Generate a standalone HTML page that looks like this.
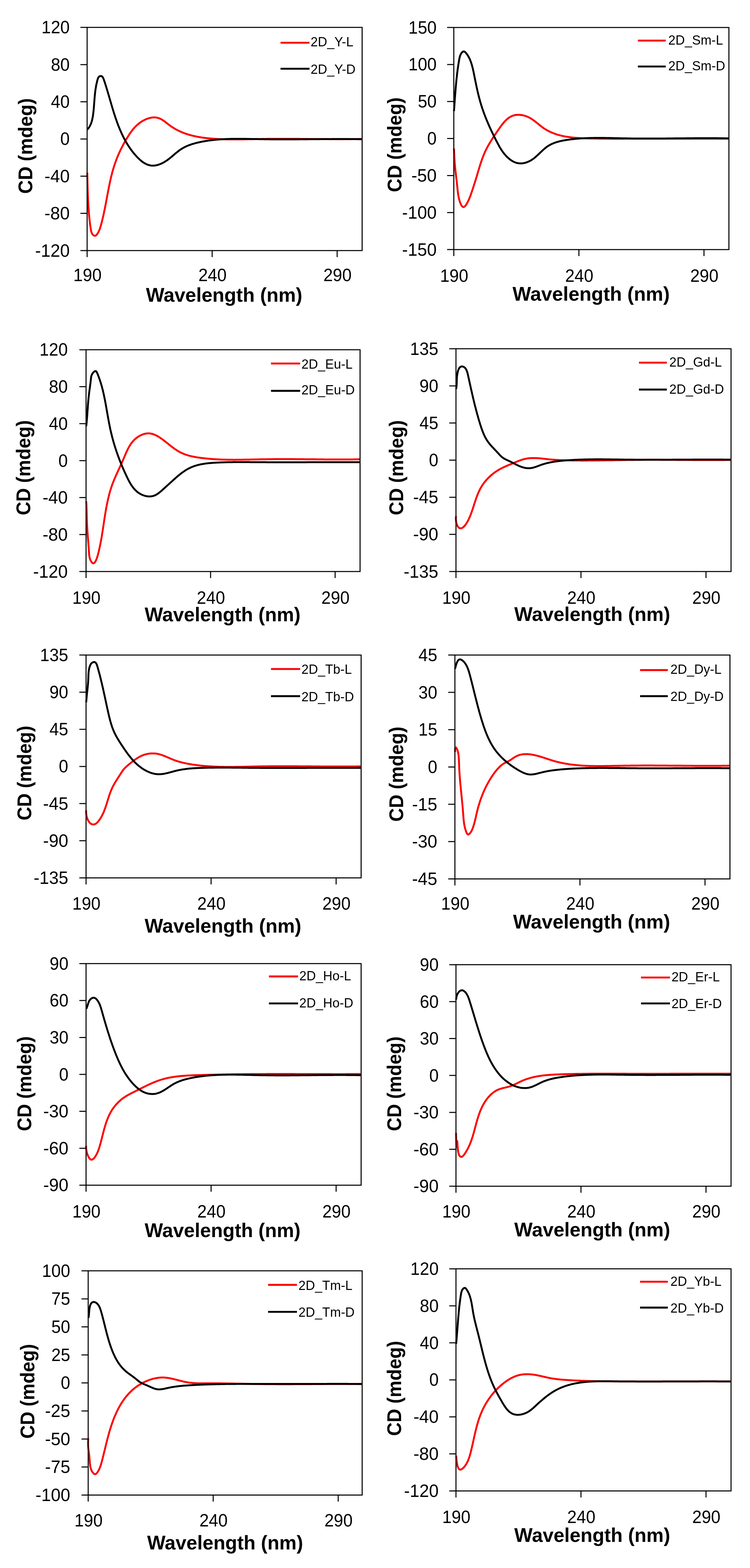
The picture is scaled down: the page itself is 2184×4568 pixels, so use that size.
<!DOCTYPE html>
<html><head><meta charset="utf-8"><title>CD spectra</title>
<style>
html,body{margin:0;padding:0;background:#fff;}
svg{display:block;}
text{font-family:"Liberation Sans",Arial,sans-serif;fill:#000;}
text.b{font-weight:bold;}
</style></head><body>
<svg xmlns="http://www.w3.org/2000/svg" width="2184" height="4568" viewBox="0 0 2184 4568">
<rect width="2184" height="4568" fill="#fff"/>
<g><g fill="none" stroke-width="5.5" stroke-linejoin="round" stroke-linecap="butt"><path d="M254.2 502.7L254.2 504.5 254.2 506.3 254.3 508.1 254.3 509.9 254.3 511.7 254.4 513.2 254.4 514.7 254.4 516.2 254.4 517.7 254.5 519.2 254.5 520.7 254.5 522.2 254.6 523.8 254.6 525.3 254.6 526.8 254.6 528.3 254.7 529.9 254.7 531.4 254.8 532.9 254.8 534.5 254.8 536 254.9 537.5 254.9 539.1 254.9 540.6 255 542.2 255 543.7 255.1 545.3 255.1 546.8 255.2 548.3 255.2 549.9 255.3 551.4 255.3 553 255.4 554.5 255.4 556.1 255.5 557.6 255.5 559.2 255.6 560.7 255.6 562.2 255.7 563.8 255.7 565.3 255.8 566.9 255.9 568.4 255.9 569.9 256 571.5 256 573 256.1 574.5 256.2 576.1 256.2 577.6 256.3 579.1 256.4 580.7 256.5 582.2 256.5 583.7 256.6 585.2 256.7 586.7 256.8 588.2 256.8 589.7 256.9 591.2 257 592.7 257.1 594.5 257.2 596.3 257.3 598.1 257.4 599.9 257.5 601.7 257.6 603.5 257.7 605.2 257.9 607 258 608.8 258.1 610.5 258.2 612.3 258.4 614.1 258.5 615.8 258.6 617.6 258.8 619.4 258.9 621.2 259.1 622.9 259.2 624.7 259.4 626.5 259.6 628.3 259.7 630.1 259.9 631.6 260 633.1 260.2 634.6 260.3 636.1 260.5 637.6 260.7 639.1 260.8 640.6 261 642.2 261.2 643.7 261.4 645.3 261.5 646.8 261.7 648.4 261.9 649.9 262.1 651.5 262.3 653.1 262.5 654.7 262.8 656.3 263 657.9 263.2 659.5 263.4 661.1 263.7 662.7 263.9 664.4 264.2 666 264.4 667.7 264.7 669.3 265 670.9 265.3 672.5 265.7 674.1 266.1 675.6 266.6 677.1 267.1 678.6 267.9 680.2 268.7 681.7 269.7 683.1 270.8 684.3 272 685.3 273.3 686.2 274.9 686.7 276.4 686.9 278 686.5 279.5 685.6 280.7 684.6 281.9 683.3 282.9 682.1 283.8 680.8 284.6 679.5 285.5 678.1 286.2 676.7 287 675.3 287.7 673.9 288.3 672.5 288.9 671.1 289.5 669.7 290.1 668.2 290.6 666.8 291.1 665.3 291.6 663.9 292.1 662.4 292.5 660.9 292.9 659.5 293.4 658 293.8 656.5 294.2 655.1 294.6 653.6 295 652.1 295.4 650.6 295.8 649.1 296.2 647.7 296.6 646.2 296.9 644.7 297.3 643.2 297.7 641.7 298 640.3 298.4 638.8 298.8 637.3 299.1 635.8 299.5 634.3 299.8 632.8 300.2 631.3 300.5 629.9 300.8 628.4 301.2 626.9 301.5 625.4 301.8 623.9 302.2 622.4 302.5 620.9 302.8 619.4 303.1 617.9 303.4 616.4 303.7 614.9 304 613.4 304.3 611.9 304.7 610.4 305 608.9 305.3 607.5 305.6 606 305.8 604.5 306.1 603 306.4 601.5 306.7 600 307 598.5 307.3 597 307.6 595.5 307.9 594 308.2 592.5 308.4 591 308.7 589.5 309 588 309.3 586.5 309.6 585 309.9 583.5 310.1 582 310.4 580.5 310.7 579 311 577.5 311.2 576 311.5 574.5 311.8 573 312.1 571.5 312.4 570 312.6 568.5 312.9 567 313.2 565.5 313.5 564 313.8 562.5 314.1 561 314.3 559.5 314.6 558 314.9 556.5 315.2 555 315.5 553.5 315.8 552.1 316.1 550.6 316.4 549.1 316.7 547.6 316.9 546.1 317.2 544.6 317.5 543.1 317.8 541.6 318.2 540.1 318.5 538.6 318.8 537.2 319.1 535.7 319.4 534.2 319.7 532.7 320 531.2 320.4 529.7 320.7 528.3 321 526.8 321.3 525.3 321.7 523.8 322 522.3 322.3 520.9 322.7 519.4 323 517.9 323.4 516.4 323.7 515 324.1 513.5 324.5 512 324.8 510.5 325.2 509.1 325.6 507.6 326 506.1 326.3 504.7 326.7 503.2 327.1 501.7 327.5 500.3 327.9 498.8 328.3 497.4 328.7 495.9 329.2 494.5 329.6 493 330 491.5 330.4 490.1 330.9 488.6 331.3 487.2 331.8 485.7 332.2 484.3 332.7 482.9 333.1 481.4 333.6 480 334.1 478.5 334.6 477.1 335.1 475.7 335.6 474.2 336.1 472.8 336.6 471.4 337.1 469.9 337.6 468.5 338.1 467.1 338.7 465.6 339.2 464.2 339.8 462.8 340.3 461.4 340.9 460 341.5 458.6 342 457.1 342.6 455.7 343.2 454.3 343.8 452.9 344.4 451.5 345 450.1 345.6 448.7 346.2 447.3 346.9 445.9 347.5 444.5 348.1 443.1 348.8 441.8 349.4 440.4 350.1 439 350.7 437.6 351.4 436.2 352 434.8 352.7 433.5 353.4 432.1 354.1 430.7 354.8 429.4 355.5 428 356.2 426.7 356.9 425.3 357.6 423.9 358.3 422.6 359 421.2 359.7 419.9 360.5 418.6 361.2 417.2 361.9 415.9 362.7 414.5 363.4 413.2 364.2 411.9 364.9 410.6 365.7 409.2 366.5 407.9 367.2 406.6 368 405.3 368.8 404 369.6 402.7 370.4 401.4 371.2 400.1 372 398.8 372.8 397.5 373.6 396.2 374.4 395 375.2 393.7 376 392.4 376.8 391.1 377.7 389.9 378.5 388.6 379.4 387.4 380.2 386.2 381.1 384.9 382 383.7 382.9 382.5 383.8 381.3 384.7 380.1 385.6 378.9 386.6 377.8 387.7 376.4 388.8 375 390 373.6 391.2 372.3 392.4 370.9 393.4 369.8 394.5 368.8 395.5 367.7 396.6 366.6 397.7 365.6 398.8 364.6 399.9 363.6 401.1 362.6 402.2 361.6 403.4 360.6 404.6 359.6 405.8 358.7 407 357.8 408.3 356.9 409.5 356 410.8 355.1 412.1 354.3 413.5 353.4 414.8 352.6 416.2 351.8 417.6 351.1 419 350.3 420.4 349.6 421.8 348.9 423.2 348.3 424.7 347.6 426.1 347 427.6 346.4 429.1 345.9 430.6 345.4 432 344.9 433.5 344.4 435 344 436.5 343.6 438 343.3 439.5 343 441 342.7 442.5 342.5 444 342.3 445.5 342.2 447.3 342.1 449.1 342.1 450.9 342.1 452.6 342.2 454.4 342.4 456.1 342.6 457.8 342.9 459.5 343.3 461.2 343.8 462.9 344.4 464.5 345 466.1 345.7 467.7 346.5 469.3 347.3 470.6 348 471.9 348.8 473.2 349.6 474.5 350.4 475.8 351.3 477.1 352.2 478.3 353.1 479.6 354 480.9 354.9 482.1 355.9 483.4 356.8 484.6 357.8 485.9 358.8 487.1 359.8 488.4 360.8 489.6 361.7 490.9 362.7 492.1 363.7 493.4 364.6 494.7 365.6 496 366.5 497.2 367.4 498.5 368.3 499.8 369.2 501.1 370.1 502.4 370.9 503.7 371.7 505 372.6 506.3 373.4 507.7 374.2 509 374.9 510.3 375.7 511.6 376.5 513 377.2 514.3 377.9 515.7 378.6 517 379.3 518.4 380 519.7 380.7 521.1 381.4 522.5 382 523.8 382.6 525.2 383.3 526.6 383.9 528 384.5 529.4 385.1 530.8 385.6 532.2 386.2 533.6 386.8 535 387.3 536.4 387.8 537.8 388.4 539.2 388.9 540.6 389.4 542 389.8 543.5 390.3 544.9 390.8 546.3 391.2 547.7 391.7 549.2 392.1 550.6 392.6 552.1 393 553.5 393.4 555 393.8 556.4 394.2 557.9 394.5 559.3 394.9 560.8 395.3 562.2 395.6 563.7 396 565.2 396.3 566.6 396.6 568.1 397 569.6 397.3 571 397.6 572.5 397.9 574 398.2 575.5 398.4 576.9 398.7 578.4 399 579.9 399.2 581.4 399.5 582.9 399.7 584.4 400 585.9 400.2 587.4 400.4 588.9 400.7 590.3 400.9 591.8 401.1 593.3 401.3 594.8 401.5 596.3 401.7 597.8 401.9 599.3 402 600.8 402.2 602.3 402.4 603.9 402.5 605.4 402.7 606.9 402.9 608.4 403 609.9 403.2 611.4 403.3 612.9 403.4 614.4 403.6 615.9 403.7 617.4 403.8 618.9 403.9 620.4 404.1 621.9 404.2 623.5 404.3 625 404.4 626.5 404.5 628 404.6 629.5 404.7 631 404.8 632.5 404.9 634.1 405 635.6 405 637.1 405.1 638.6 405.2 640.1 405.3 641.6 405.3 643.1 405.4 644.7 405.5 646.2 405.5 647.7 405.6 649.2 405.6 650.7 405.7 652.3 405.7 653.8 405.8 655.3 405.8 656.8 405.8 658.3 405.9 659.9 405.9 661.4 405.9 662.9 406 664.4 406 665.9 406 667.5 406 669 406.1 670.5 406.1 672 406.1 673.6 406.1 675.1 406.1 676.6 406.1 678.1 406.1 679.7 406.1 681.2 406.1 682.7 406.1 684.2 406.1 685.8 406.1 687.3 406.1 688.8 406.1 690.3 406.1 691.9 406.1 693.4 406.1 694.9 406.1 696.4 406 698 406 699.5 406 701 406 702.5 406 704.1 406 705.6 405.9 707.1 405.9 708.7 405.9 710.2 405.9 711.7 405.8 713.2 405.8 714.8 405.8 716.3 405.8 717.8 405.7 719.3 405.7 720.9 405.7 722.4 405.6 723.9 405.6 725.5 405.6 727 405.5 728.5 405.5 730 405.5 731.6 405.4 733.1 405.4 734.6 405.4 736.1 405.4 737.7 405.3 739.2 405.3 740.7 405.3 742.3 405.2 743.8 405.2 745.3 405.2 746.8 405.1 748.4 405.1 749.9 405.1 751.4 405 752.9 405 754.5 405 756 405 757.5 404.9 759 404.9 760.6 404.9 762.1 404.8 763.6 404.8 765.2 404.8 766.7 404.8 768.2 404.8 769.7 404.7 771.3 404.7 772.8 404.7 774.3 404.7 775.8 404.7 777.3 404.6 778.9 404.6 780.4 404.6 781.9 404.6 783.4 404.6 785 404.6 786.5 404.6 788 404.5 789.5 404.5 791.1 404.5 792.6 404.5 794.1 404.5 795.6 404.5 797.2 404.5 798.7 404.5 800.2 404.5 801.7 404.5 803.2 404.4 804.8 404.4 806.3 404.4 807.8 404.4 809.3 404.4 810.8 404.4 812.4 404.4 813.9 404.4 815.4 404.4 816.9 404.4 818.5 404.4 820 404.4 821.5 404.4 823 404.4 824.5 404.4 826.1 404.4 827.6 404.4 829.1 404.4 830.6 404.4 832.1 404.4 833.7 404.4 835.2 404.4 836.7 404.4 838.2 404.5 839.7 404.5 841.3 404.5 842.8 404.5 844.3 404.5 845.8 404.5 847.3 404.5 848.9 404.5 850.4 404.5 851.9 404.5 853.4 404.5 854.9 404.5 856.5 404.5 858 404.5 859.5 404.6 861 404.6 862.5 404.6 864 404.6 865.6 404.6 867.1 404.6 868.6 404.6 870.1 404.6 871.6 404.6 873.2 404.7 874.7 404.7 876.2 404.7 877.7 404.7 879.2 404.7 880.8 404.7 882.3 404.7 883.8 404.7 885.3 404.8 886.8 404.8 888.3 404.8 889.9 404.8 891.4 404.8 892.9 404.8 894.4 404.8 895.9 404.8 897.5 404.9 899 404.9 900.5 404.9 902 404.9 903.5 404.9 905 404.9 906.6 404.9 908.1 405 909.6 405 911.1 405 912.6 405 914.2 405 915.7 405 917.2 405 918.7 405 920.2 405.1 921.7 405.1 923.3 405.1 924.8 405.1 926.3 405.1 927.8 405.1 929.3 405.1 930.9 405.2 932.4 405.2 933.9 405.2 935.4 405.2 936.9 405.2 938.5 405.2 940 405.2 941.5 405.2 943 405.2 944.5 405.3 946 405.3 947.6 405.3 949.1 405.3 950.6 405.3 952.1 405.3 953.6 405.3 955.2 405.3 956.7 405.3 958.2 405.3 959.7 405.4 961.2 405.4 962.8 405.4 964.3 405.4 965.8 405.4 967.3 405.4 968.8 405.4 970.4 405.4 971.9 405.4 973.4 405.4 974.9 405.4 976.4 405.4 978 405.4 979.5 405.4 981 405.4 982.5 405.4 984 405.4 985.6 405.4 987.1 405.4 988.6 405.5 990.1 405.5 991.6 405.5 993.2 405.5 994.7 405.5 996.2 405.5 997.7 405.4 999.3 405.4 1000.8 405.4 1002.3 405.4 1003.8 405.4 1005.3 405.4 1006.9 405.4 1008.4 405.4 1009.9 405.4 1011.4 405.4 1013 405.4 1014.5 405.4 1016 405.4 1017.5 405.4 1019 405.4 1020.6 405.4 1022.1 405.3 1023.6 405.3 1025.1 405.3 1026.7 405.3 1028.2 405.3 1029.7 405.3 1031.2 405.3 1032.8 405.3 1034.3 405.2 1035.8 405.2 1037.3 405.2 1038.9 405.2 1040.4 405.2 1041.9 405.1 1043.4 405.1 1045 405.1 1046.5 405.1 1048 405.1 1049.5 405 1051.1 405 1052.6 405 1053.5 405" stroke="#ff0000"/><path d="M254.2 377.6L255.3 376.3 256.4 375 257.5 373.7 258.5 372.3 259.4 370.9 260.3 369.5 261.1 368.1 261.9 366.7 262.7 365.2 263.4 363.7 264.1 362.2 264.7 360.7 265.3 359.2 265.9 357.6 266.4 356.1 266.9 354.5 267.4 352.9 267.8 351.3 268.2 349.7 268.6 348.1 269 346.4 269.3 344.8 269.6 343.2 269.9 341.5 270.2 339.9 270.5 338.2 270.7 336.5 271 334.9 271.2 333.2 271.4 331.6 271.6 329.9 271.8 328.2 272 326.6 272.2 324.9 272.3 323.3 272.5 321.6 272.7 320 272.8 318.3 273 316.7 273.1 315 273.3 313.4 273.4 311.7 273.5 310.1 273.7 308.4 273.8 306.8 273.9 305.1 274 303.5 274.2 301.8 274.3 300.2 274.4 298.5 274.5 296.9 274.7 295.2 274.8 293.6 274.9 292 275 290.3 275.2 288.7 275.3 287 275.4 285.4 275.6 283.7 275.7 282.1 275.9 280.4 276 278.7 276.2 277.1 276.4 275.4 276.5 273.8 276.7 272.1 276.9 270.4 277.1 268.8 277.3 267.1 277.5 265.5 277.7 263.8 277.9 262.1 278.2 260.4 278.4 258.8 278.7 257.1 279 255.4 279.2 253.7 279.5 252 279.8 250.4 280.2 248.7 280.5 247 280.8 245.3 281.2 243.6 281.6 241.9 282 240.2 282.4 238.5 282.8 236.7 283.2 235 283.7 233.3 284.2 231.6 284.7 229.9 285.3 228.3 285.9 226.8 286.7 225.4 287.6 224.2 288.9 223 290.3 222.1 291.9 221.6 293.4 221.4 295 221.6 296.5 222.2 297.8 223.3 298.8 224.4 299.7 225.9 300.4 227.2 301.1 228.7 301.7 230.3 302.4 231.9 302.9 233.6 303.5 235.3 304.1 237 304.6 238.7 305.2 240.3 305.7 242 306.3 243.7 306.8 245.4 307.3 247 307.8 248.7 308.4 250.4 308.9 252 309.4 253.7 309.9 255.3 310.4 257 310.9 258.6 311.4 260.3 311.9 261.9 312.4 263.5 312.9 265.2 313.4 266.8 313.8 268.4 314.3 270 314.8 271.6 315.3 273.2 315.8 274.9 316.2 276.5 316.7 278.1 317.2 279.7 317.6 281.3 318.1 282.9 318.6 284.5 319 286.1 319.5 287.7 319.9 289.3 320.4 290.8 320.9 292.4 321.3 294 321.8 295.6 322.3 297.2 322.7 298.8 323.2 300.4 323.6 301.9 324.1 303.5 324.6 305.1 325 306.7 325.5 308.3 326 309.8 326.4 311.4 326.9 313 327.4 314.6 327.9 316.1 328.3 317.7 328.8 319.3 329.3 320.9 329.8 322.5 330.3 324 330.8 325.6 331.2 327.2 331.7 328.8 332.2 330.4 332.7 331.9 333.3 333.5 333.8 335.1 334.3 336.7 334.8 338.3 335.3 339.8 335.8 341.4 336.4 343 336.9 344.6 337.4 346.1 338 347.7 338.5 349.3 339.1 350.8 339.6 352.4 340.2 354 340.7 355.5 341.3 357.1 341.9 358.7 342.5 360.2 343.1 361.8 343.6 363.4 344.2 364.9 344.8 366.5 345.4 368 346.1 369.6 346.7 371.1 347.3 372.7 347.9 374.2 348.6 375.7 349.2 377.3 349.9 378.8 350.5 380.3 351.2 381.9 351.9 383.4 352.5 384.9 353.2 386.4 353.9 388 354.6 389.5 355.3 391 356 392.5 356.7 394 357.5 395.5 358.2 397 358.9 398.5 359.7 400 360.5 401.5 361.2 402.9 362 404.4 362.8 405.9 363.6 407.4 364.4 408.8 365.2 410.3 366 411.8 366.8 413.2 367.7 414.7 368.5 416.1 369.4 417.5 370.2 419 371.1 420.4 372 421.8 372.9 423.2 373.8 424.6 374.7 426.1 375.6 427.5 376.6 428.9 377.5 430.2 378.5 431.6 379.4 433 380.4 434.4 381.4 435.8 382.4 437.1 383.4 438.5 384.4 439.8 385.4 441.2 386.5 442.5 387.5 443.8 388.6 445.2 389.6 446.5 390.7 447.8 391.8 449.1 392.9 450.4 394.1 451.7 395.2 453 396.3 454.3 397.5 455.5 398.7 456.8 399.8 458 401 459.3 402.2 460.5 403.5 461.7 404.7 462.9 405.9 464 407.2 465.2 408.4 466.3 409.7 467.4 411 468.5 412.3 469.5 413.6 470.5 415 471.5 416.3 472.5 417.7 473.4 419 474.3 420.4 475.1 421.8 475.9 423.2 476.7 424.6 477.4 426 478.1 427.5 478.8 428.9 479.4 430.4 479.9 431.9 480.4 433.3 480.9 434.8 481.3 436.4 481.6 437.9 481.9 439.4 482.2 441 482.4 442.5 482.5 444.1 482.6 445.7 482.6 447.3 482.5 448.9 482.4 450.5 482.2 452.2 482 453.8 481.7 455.4 481.4 457.1 481 458.7 480.6 460.3 480.1 462 479.6 463.6 479.1 465.2 478.5 466.8 477.8 468.4 477.2 470 476.5 471.6 475.7 473.2 475 474.7 474.2 476.3 473.4 477.8 472.5 479.3 471.6 480.7 470.7 482.2 469.8 483.6 468.9 485.1 467.9 486.5 467 487.9 466 489.2 465 490.6 464 491.9 462.9 493.3 461.9 494.6 460.8 495.9 459.8 497.2 458.7 498.6 457.6 499.8 456.5 501.1 455.5 502.4 454.4 503.7 453.3 505 452.2 506.3 451.1 507.5 450 508.8 448.9 510.1 447.8 511.4 446.8 512.6 445.7 513.9 444.6 515.2 443.6 516.5 442.6 517.8 441.5 519.1 440.5 520.4 439.5 521.7 438.5 523.1 437.6 524.4 436.6 525.7 435.7 527.1 434.8 528.5 433.9 529.9 433 531.3 432.2 532.7 431.3 534.1 430.5 535.6 429.7 537 429 538.5 428.2 540 427.5 541.5 426.8 543 426.1 544.5 425.5 546 424.8 547.5 424.2 549.1 423.6 550.6 423 552.2 422.4 553.7 421.8 555.3 421.3 556.9 420.7 558.5 420.2 560.1 419.7 561.6 419.2 563.3 418.7 564.9 418.3 566.5 417.8 568.1 417.4 569.7 417 571.3 416.5 573 416.1 574.6 415.7 576.2 415.3 577.9 415 579.5 414.6 581.2 414.2 582.8 413.9 584.4 413.5 586.1 413.2 587.7 412.9 589.4 412.6 591 412.3 592.7 412 594.3 411.7 596 411.4 597.6 411.1 599.2 410.8 600.9 410.6 602.5 410.3 604.2 410 605.8 409.8 607.5 409.6 609.1 409.3 610.8 409.1 612.4 408.9 614.1 408.7 615.8 408.5 617.4 408.3 619.1 408.1 620.7 407.9 622.4 407.7 624 407.5 625.7 407.3 627.3 407.2 629 407 630.7 406.9 632.3 406.7 634 406.6 635.6 406.4 637.3 406.3 638.9 406.2 640.6 406.1 642.3 406 643.9 405.8 645.6 405.7 647.2 405.6 648.9 405.5 650.6 405.4 652.2 405.4 653.9 405.3 655.6 405.2 657.2 405.1 658.9 405.1 660.5 405 662.2 404.9 663.9 404.9 665.5 404.8 667.2 404.8 668.9 404.7 670.5 404.7 672.2 404.6 673.9 404.6 675.5 404.6 677.2 404.5 678.9 404.5 680.5 404.5 682.2 404.5 683.9 404.5 685.5 404.4 687.2 404.4 688.9 404.4 690.5 404.4 692.2 404.4 693.9 404.4 695.5 404.4 697.2 404.4 698.9 404.4 700.5 404.4 702.2 404.5 703.9 404.5 705.6 404.5 707.2 404.5 708.9 404.5 710.6 404.5 712.2 404.6 713.9 404.6 715.6 404.6 717.2 404.6 718.9 404.7 720.6 404.7 722.3 404.7 723.9 404.7 725.6 404.8 727.3 404.8 728.9 404.8 730.6 404.9 732.3 404.9 734 404.9 735.6 405 737.3 405 739 405 740.6 405.1 742.3 405.1 744 405.2 745.7 405.2 747.3 405.2 749 405.3 750.7 405.3 752.3 405.3 754 405.4 755.7 405.4 757.3 405.4 759 405.5 760.7 405.5 762.4 405.5 764 405.6 765.7 405.6 767.4 405.6 769 405.6 770.7 405.7 772.4 405.7 774.1 405.7 775.7 405.7 777.4 405.7 779.1 405.8 780.7 405.8 782.4 405.8 784.1 405.8 785.7 405.8 787.4 405.9 789.1 405.9 790.8 405.9 792.4 405.9 794.1 405.9 795.8 405.9 797.4 405.9 799.1 406 800.8 406 802.4 406 804.1 406 805.8 406 807.4 406 809.1 406 810.8 406 812.5 406 814.1 406 815.8 406 817.5 406 819.1 406 820.8 406 822.5 406 824.1 406 825.8 406 827.5 406 829.1 406 830.8 406 832.5 406 834.1 406 835.8 406 837.5 406 839.1 406 840.8 406 842.5 406 844.2 406 845.8 406 847.5 406 849.2 406 850.8 406 852.5 406 854.2 406 855.8 405.9 857.5 405.9 859.2 405.9 860.8 405.9 862.5 405.9 864.2 405.9 865.8 405.9 867.5 405.9 869.2 405.9 870.8 405.9 872.5 405.8 874.2 405.8 875.8 405.8 877.5 405.8 879.2 405.8 880.8 405.8 882.5 405.8 884.2 405.8 885.8 405.7 887.5 405.7 889.2 405.7 890.8 405.7 892.5 405.7 894.2 405.7 895.9 405.7 897.5 405.7 899.2 405.6 900.9 405.6 902.5 405.6 904.2 405.6 905.9 405.6 907.5 405.6 909.2 405.6 910.9 405.5 912.5 405.5 914.2 405.5 915.9 405.5 917.5 405.5 919.2 405.5 920.9 405.5 922.5 405.4 924.2 405.4 925.9 405.4 927.5 405.4 929.2 405.4 930.9 405.4 932.5 405.4 934.2 405.3 935.9 405.3 937.5 405.3 939.2 405.3 940.9 405.3 942.5 405.3 944.2 405.3 945.9 405.3 947.5 405.3 949.2 405.2 950.9 405.2 952.5 405.2 954.2 405.2 955.9 405.2 957.5 405.2 959.2 405.2 960.9 405.2 962.5 405.2 964.2 405.2 965.9 405.1 967.6 405.1 969.2 405.1 970.9 405.1 972.6 405.1 974.2 405.1 975.9 405.1 977.6 405.1 979.2 405.1 980.9 405.1 982.6 405.1 984.2 405.1 985.9 405.1 987.6 405.1 989.2 405.1 990.9 405.1 992.6 405.1 994.2 405.1 995.9 405.1 997.6 405.1 999.2 405.1 1000.9 405.1 1002.6 405.1 1004.3 405.1 1005.9 405.1 1007.6 405.1 1009.3 405.1 1010.9 405.1 1012.6 405.1 1014.3 405.1 1015.9 405.1 1017.6 405.1 1019.3 405.2 1020.9 405.2 1022.6 405.2 1024.3 405.2 1025.9 405.2 1027.6 405.2 1029.3 405.2 1031 405.2 1032.6 405.3 1034.3 405.3 1036 405.3 1037.6 405.3 1039.3 405.3 1041 405.4 1042.6 405.4 1044.3 405.4 1046 405.4 1047.7 405.4 1049.3 405.5 1051 405.5 1052.7 405.5 1053.5 405.5" stroke="#000000"/></g><g fill="none" stroke="#000" stroke-width="3"><rect x="253.7" y="79.8" width="800.8" height="650.2"/><path d="M234.2 730H253.7M234.2 621.6H253.7M234.2 513.3H253.7M234.2 404.9H253.7M234.2 296.5H253.7M234.2 188.2H253.7M234.2 79.8H253.7M253.7 730V749M617.8 730V749M981.8 730V749"/></g><g font-size="51"><text x="203" y="747.5" text-anchor="end" textLength="100.8" lengthAdjust="spacingAndGlyphs">-120</text><text x="203" y="639.1" text-anchor="end" textLength="73.4" lengthAdjust="spacingAndGlyphs">-80</text><text x="203" y="530.8" text-anchor="end" textLength="73.4" lengthAdjust="spacingAndGlyphs">-40</text><text x="203" y="422.4" text-anchor="end" textLength="27.4" lengthAdjust="spacingAndGlyphs">0</text><text x="203" y="314" text-anchor="end" textLength="54.8" lengthAdjust="spacingAndGlyphs">40</text><text x="203" y="205.7" text-anchor="end" textLength="54.8" lengthAdjust="spacingAndGlyphs">80</text><text x="203" y="97.3" text-anchor="end" textLength="82.2" lengthAdjust="spacingAndGlyphs">120</text><text x="254.7" y="818.7" text-anchor="middle" textLength="82.2" lengthAdjust="spacingAndGlyphs">190</text><text x="618.8" y="818.7" text-anchor="middle" textLength="82.2" lengthAdjust="spacingAndGlyphs">240</text><text x="982.8" y="818.7" text-anchor="middle" textLength="82.2" lengthAdjust="spacingAndGlyphs">290</text></g><text class="b" x="424.9" y="878.8" font-size="58" textLength="455.6" lengthAdjust="spacingAndGlyphs">Wavelength (nm)</text><text class="b" transform="translate(94.4 564.5) rotate(-90)" font-size="57" textLength="278.5" lengthAdjust="spacingAndGlyphs">CD (mdeg)</text><g stroke-width="5.6"><path d="M816.9 124.5H901.3" stroke="#ff0000"/><path d="M816.9 200.3H901.3" stroke="#000"/></g><g font-size="38.3"><text x="904.5" y="135.4" textLength="124.4" lengthAdjust="spacingAndGlyphs">2D_Y-L</text><text x="904.5" y="214.5" textLength="130.7" lengthAdjust="spacingAndGlyphs">2D_Y-D</text></g></g>
<g><g fill="none" stroke-width="5.5" stroke-linejoin="round" stroke-linecap="butt"><path d="M1322 432.7L1322.1 434.4 1322.1 436 1322.2 437.7 1322.3 439.3 1322.3 441 1322.4 442.7 1322.5 444.4 1322.6 446.1 1322.6 447.8 1322.7 449.5 1322.8 451.2 1322.9 452.9 1323 454.6 1323.1 456.4 1323.1 458.1 1323.2 459.8 1323.3 461.6 1323.4 463.3 1323.6 465 1323.7 466.8 1323.8 468.5 1323.9 470.2 1324 472 1324.1 473.7 1324.3 475.4 1324.4 477.2 1324.5 478.9 1324.7 480.6 1324.8 482.3 1325 484 1325.1 485.7 1325.3 487.4 1325.4 489.1 1325.6 490.7 1325.8 492.4 1326 494.1 1326.1 495.7 1326.3 497.4 1326.5 499 1326.7 500.7 1326.9 502.3 1327.1 504 1327.2 505.6 1327.4 507.3 1327.6 508.9 1327.8 510.6 1328 512.2 1328.2 513.9 1328.4 515.5 1328.6 517.2 1328.8 518.8 1329 520.5 1329.2 522.1 1329.4 523.8 1329.6 525.4 1329.8 527.1 1330 528.8 1330.2 530.4 1330.4 532.1 1330.6 533.8 1330.7 535.5 1330.9 537.2 1331.1 538.9 1331.3 540.6 1331.5 542.4 1331.6 544.1 1331.8 545.8 1332 547.6 1332.2 549.3 1332.3 551.1 1332.5 552.9 1332.7 554.6 1332.9 556.4 1333.1 558.2 1333.3 559.9 1333.5 561.7 1333.8 563.5 1334 565.2 1334.3 567 1334.6 568.7 1334.9 570.5 1335.2 572.2 1335.5 574 1335.9 575.7 1336.2 577.4 1336.6 579.2 1337.1 580.9 1337.5 582.6 1338 584.2 1338.5 585.9 1339 587.6 1339.6 589.2 1340.2 590.8 1340.9 592.5 1341.5 594 1342.2 595.6 1343 597 1343.8 598.4 1344.7 599.8 1345.7 601 1346.8 602.1 1348.1 603 1349.7 603.2 1351.3 602.8 1352.6 602 1353.8 601 1354.9 599.8 1355.9 598.5 1356.9 597.2 1357.9 595.7 1358.7 594.4 1359.5 593 1360.3 591.6 1361.1 590.2 1361.8 588.8 1362.6 587.3 1363.3 585.9 1364 584.4 1364.6 583 1365.3 581.5 1365.9 580.1 1366.5 578.6 1367.1 577.2 1367.7 575.8 1368.3 574.4 1368.8 573 1369.4 571.5 1369.9 570.1 1370.5 568.4 1371.1 566.8 1371.7 565.1 1372.3 563.4 1372.8 561.8 1373.4 560.1 1373.9 558.5 1374.5 556.8 1375 555.2 1375.6 553.6 1376.1 552 1376.6 550.4 1377.2 548.8 1377.7 547.2 1378.2 545.6 1378.7 544 1379.2 542.4 1379.7 540.8 1380.2 539.2 1380.8 537.6 1381.3 536.1 1381.8 534.5 1382.3 532.9 1382.8 531.3 1383.3 529.7 1383.8 528.2 1384.2 526.6 1384.7 525 1385.2 523.4 1385.7 521.8 1386.2 520.3 1386.7 518.7 1387.2 517.1 1387.7 515.5 1388.2 513.9 1388.6 512.3 1389.1 510.6 1389.6 509 1390.1 507.4 1390.6 505.8 1391.1 504.1 1391.5 502.5 1392 500.9 1392.5 499.2 1393 497.6 1393.5 495.9 1394 494.3 1394.5 492.6 1395 490.9 1395.5 489.3 1396 487.6 1396.5 486 1397 484.3 1397.5 482.7 1398.1 481 1398.6 479.3 1399.1 477.7 1399.6 476 1400.2 474.4 1400.7 472.7 1401.3 471.1 1401.8 469.5 1402.4 467.8 1403 466.2 1403.5 464.6 1404.1 462.9 1404.7 461.3 1405.3 459.7 1405.9 458.1 1406.5 456.5 1407.1 454.9 1407.8 453.3 1408.4 451.7 1409.1 450.2 1409.7 448.6 1410.4 447 1411 445.5 1411.7 444 1412.4 442.4 1413.1 440.9 1413.8 439.4 1414.6 437.9 1415.3 436.4 1416 434.9 1416.8 433.4 1417.5 432 1418.3 430.5 1419.1 429 1419.9 427.6 1420.6 426.1 1421.4 424.7 1422.3 423.2 1423.1 421.8 1423.9 420.4 1424.7 418.9 1425.6 417.5 1426.4 416.1 1427.3 414.7 1428.1 413.2 1429 411.8 1429.9 410.4 1430.7 409 1431.6 407.6 1432.5 406.2 1433.4 404.7 1434.3 403.3 1435.3 401.9 1436.2 400.5 1437.1 399.1 1438 397.7 1439 396.2 1439.9 394.8 1440.9 393.4 1441.8 392 1442.8 390.5 1443.8 389.1 1444.7 387.7 1445.7 386.2 1446.7 384.8 1447.7 383.3 1448.7 381.9 1449.7 380.4 1450.7 379 1451.7 377.5 1452.7 376 1453.7 374.5 1454.7 373.1 1455.7 371.6 1456.8 370.1 1457.8 368.7 1458.9 367.2 1459.9 365.8 1461 364.4 1462.1 362.9 1463.2 361.5 1464.3 360.2 1465.4 358.8 1466.5 357.5 1467.7 356.1 1468.8 354.8 1470 353.6 1471.2 352.3 1472.4 351.1 1473.6 349.9 1474.8 348.8 1476.1 347.6 1477.3 346.5 1478.6 345.5 1479.9 344.5 1481.2 343.5 1482.5 342.6 1483.9 341.7 1485.3 340.9 1486.7 340.1 1488.1 339.3 1489.5 338.6 1491 338 1492.4 337.4 1493.9 336.9 1495.4 336.4 1497 336 1498.5 335.6 1500.1 335.3 1501.7 335 1503.3 334.8 1504.9 334.7 1506.5 334.6 1508.2 334.5 1509.8 334.5 1511.5 334.5 1513.1 334.6 1514.8 334.7 1516.4 334.9 1518.1 335.1 1519.8 335.3 1521.4 335.6 1523.1 336 1524.8 336.4 1526.4 336.8 1528.1 337.2 1529.7 337.8 1531.3 338.3 1533 338.9 1534.6 339.5 1536.2 340.2 1537.8 340.9 1539.3 341.6 1540.9 342.4 1542.4 343.2 1544 344 1545.5 344.9 1546.9 345.8 1548.4 346.7 1549.9 347.7 1551.3 348.7 1552.7 349.7 1554.1 350.7 1555.5 351.7 1556.9 352.8 1558.3 353.9 1559.7 355 1561.1 356 1562.4 357.1 1563.8 358.3 1565.2 359.4 1566.5 360.5 1567.9 361.6 1569.2 362.7 1570.6 363.8 1571.9 364.9 1573.3 366 1574.6 367.1 1576 368.1 1577.4 369.2 1578.8 370.2 1580.1 371.2 1581.5 372.2 1582.9 373.2 1584.3 374.2 1585.8 375.1 1587.2 376 1588.6 376.9 1590.1 377.8 1591.5 378.6 1593 379.4 1594.4 380.2 1595.9 381 1597.4 381.8 1598.9 382.6 1600.4 383.3 1601.9 384 1603.4 384.7 1604.9 385.4 1606.4 386.1 1608 386.7 1609.5 387.3 1611 388 1612.6 388.5 1614.2 389.1 1615.7 389.7 1617.3 390.2 1618.9 390.8 1620.4 391.3 1622 391.8 1623.6 392.3 1625.2 392.8 1626.8 393.2 1628.4 393.7 1630 394.1 1631.7 394.5 1633.3 394.9 1634.9 395.3 1636.5 395.7 1638.2 396.1 1639.8 396.4 1641.5 396.7 1643.1 397.1 1644.8 397.4 1646.4 397.7 1648.1 398 1649.8 398.3 1651.4 398.6 1653.1 398.8 1654.8 399.1 1656.4 399.3 1658.1 399.5 1659.8 399.8 1661.5 400 1663.2 400.2 1664.9 400.4 1666.6 400.6 1668.3 400.7 1670 400.9 1671.7 401.1 1673.4 401.2 1675.1 401.4 1676.8 401.5 1678.5 401.7 1680.2 401.8 1681.9 401.9 1683.7 402 1685.4 402.1 1687.1 402.2 1688.8 402.3 1690.5 402.4 1692.3 402.5 1694 402.6 1695.7 402.7 1697.4 402.8 1699.1 402.8 1700.9 402.9 1702.6 403 1704.3 403 1706 403.1 1707.8 403.1 1709.5 403.2 1711.2 403.2 1712.9 403.3 1714.6 403.3 1716.4 403.4 1718.1 403.4 1719.8 403.4 1721.5 403.5 1723.2 403.5 1724.9 403.6 1726.7 403.6 1728.4 403.6 1730.1 403.7 1731.8 403.7 1733.5 403.7 1735.2 403.8 1736.9 403.8 1738.6 403.8 1740.3 403.8 1742.1 403.9 1743.8 403.9 1745.5 403.9 1747.2 403.9 1748.9 404 1750.6 404 1752.3 404 1754 404 1755.7 404 1757.4 404 1759.1 404.1 1760.8 404.1 1762.5 404.1 1764.2 404.1 1765.9 404.1 1767.6 404.1 1769.3 404.1 1771 404.1 1772.7 404.1 1774.4 404.2 1776.1 404.2 1777.8 404.2 1779.5 404.2 1781.2 404.2 1782.9 404.2 1784.6 404.2 1786.3 404.2 1788 404.2 1789.7 404.2 1791.4 404.2 1793 404.2 1794.7 404.2 1796.4 404.2 1798.1 404.2 1799.8 404.2 1801.5 404.2 1803.2 404.2 1804.9 404.2 1806.6 404.2 1808.3 404.2 1810 404.2 1811.7 404.2 1813.4 404.2 1815 404.2 1816.7 404.1 1818.4 404.1 1820.1 404.1 1821.8 404.1 1823.5 404.1 1825.2 404.1 1826.9 404.1 1828.6 404.1 1830.3 404.1 1832 404.1 1833.7 404.1 1835.4 404.1 1837 404.1 1838.7 404.1 1840.4 404.1 1842.1 404 1843.8 404 1845.5 404 1847.2 404 1848.9 404 1850.6 404 1852.3 404 1854 404 1855.7 404 1857.4 404 1859.1 404 1860.8 404 1862.4 404 1864.1 404 1865.8 404 1867.5 404 1869.2 404 1870.9 404 1872.6 404 1874.3 403.9 1876 403.9 1877.7 403.9 1879.4 403.9 1881.1 403.9 1882.8 403.9 1884.5 403.9 1886.2 403.9 1887.9 403.9 1889.6 403.9 1891.3 403.9 1893 403.9 1894.7 403.9 1896.4 403.9 1898.1 403.9 1899.8 403.9 1901.5 403.9 1903.2 403.9 1904.9 403.9 1906.6 403.9 1908.3 403.9 1910 403.9 1911.7 403.9 1913.4 403.9 1915.1 403.9 1916.8 403.9 1918.5 403.9 1920.2 403.9 1921.9 403.9 1923.6 403.9 1925.3 403.9 1927 403.9 1928.7 403.9 1930.4 403.9 1932.1 403.9 1933.8 403.9 1935.5 403.9 1937.2 403.9 1939 403.9 1940.7 403.9 1942.4 403.9 1944.1 403.9 1945.8 403.9 1947.5 403.9 1949.2 403.9 1950.9 403.9 1952.6 403.9 1954.3 403.9 1956 403.9 1957.7 403.9 1959.4 403.9 1961.1 403.9 1962.8 403.9 1964.5 404 1966.2 404 1967.9 404 1969.6 404 1971.3 404 1973 404 1974.7 404 1976.4 404 1978.2 404 1979.9 404 1981.6 404 1983.3 404 1985 404 1986.7 404 1988.4 404 1990.1 404 1991.8 404 1993.5 404 1995.2 404 1996.9 404 1998.6 404 2000.3 404 2002 404 2003.7 404 2005.4 404 2007.1 404 2008.8 404 2010.5 404 2012.2 404 2013.9 404 2015.7 404 2017.4 404 2019.1 404 2020.8 404 2022.5 404 2024.2 404 2025.9 404 2027.6 404 2029.3 404 2031 404 2032.7 404.1 2034.4 404.1 2036.1 404.1 2037.8 404.1 2039.5 404.1 2041.2 404.1 2042.9 404.1 2044.6 404.1 2046.3 404.1 2048 404.1 2049.7 404.1 2051.4 404.1 2053.1 404.1 2054.8 404.1 2056.5 404.1 2058.2 404.1 2059.9 404.1 2061.6 404.1 2063.3 404.1 2065 404.1 2066.7 404.1 2068.4 404.1 2070.1 404.1 2071.8 404.1 2073.5 404.1 2075.2 404.1 2076.9 404.1 2078.6 404.1 2080.3 404.1 2082 404.1 2083.7 404.1 2085.4 404.1 2087.1 404.1 2088.8 404.1 2090.5 404.1 2092.2 404.1 2093.9 404.1 2095.6 404.1 2097.3 404 2099 404 2100.7 404 2102.4 404 2104.1 404 2105.8 404 2107.5 404 2109.2 404 2110.9 404 2112.6 404 2114.3 404 2115.9 404 2117.6 404 2119.3 404 2121 404 2121.6 404" stroke="#ff0000"/><path d="M1322 323.7L1322.1 322.2 1322.2 320.7 1322.3 319.2 1322.4 317.7 1322.5 316.3 1322.7 314.5 1322.8 312.7 1322.9 310.9 1323 309.1 1323.2 307.3 1323.3 305.5 1323.4 303.7 1323.5 301.9 1323.7 300.1 1323.8 298.4 1323.9 296.6 1324 294.8 1324.2 293 1324.3 291.2 1324.4 289.5 1324.5 287.7 1324.7 285.9 1324.8 284.1 1324.9 282.4 1325.1 280.6 1325.2 278.8 1325.3 277 1325.5 275.3 1325.6 273.5 1325.7 271.7 1325.9 270 1326 268.2 1326.1 266.4 1326.3 264.6 1326.4 262.9 1326.6 261.1 1326.7 259.3 1326.8 257.6 1327 255.8 1327.1 254 1327.3 252.3 1327.5 250.5 1327.6 248.7 1327.8 247 1327.9 245.2 1328.1 243.4 1328.3 241.7 1328.4 239.9 1328.6 238.1 1328.8 236.4 1328.9 234.6 1329.1 232.9 1329.3 231.1 1329.5 229.3 1329.7 227.6 1329.9 225.8 1330.1 224 1330.3 222.2 1330.5 220.5 1330.7 218.7 1330.9 216.9 1331.1 215.2 1331.3 213.4 1331.5 211.6 1331.7 209.9 1332 208.1 1332.2 206.3 1332.4 204.5 1332.7 202.8 1332.9 201 1333.1 199.2 1333.4 197.4 1333.6 195.7 1333.9 193.9 1334.2 192.1 1334.4 190.6 1334.6 189.1 1334.8 187.7 1335.1 186.2 1335.3 184.7 1335.6 183.2 1335.8 181.7 1336 180.2 1336.3 178.7 1336.5 177.2 1336.8 175.7 1337.1 174.3 1337.3 172.8 1337.6 171.3 1337.9 169.8 1338.2 168.3 1338.6 166.8 1339 165.3 1339.4 163.8 1340 162.3 1340.5 160.7 1341.2 159.2 1341.9 157.7 1342.7 156.2 1343.6 154.8 1344.5 153.5 1345.5 152.4 1346.8 151.2 1348.1 150.4 1349.6 149.9 1351.1 149.9 1352.6 150.4 1354.1 151.3 1355.2 152.4 1356.4 153.7 1357.5 155 1358.5 156.3 1359.6 157.7 1360.6 159.1 1361.5 160.5 1362.5 161.9 1363.3 163.4 1364.2 164.9 1365 166.4 1365.8 167.9 1366.6 169.5 1367.4 171 1368.1 172.6 1368.8 174.2 1369.5 175.9 1370.1 177.5 1370.7 179.1 1371.3 180.8 1371.9 182.5 1372.5 184.2 1373 185.9 1373.5 187.6 1374 189.1 1374.4 190.5 1374.8 192 1375.2 193.4 1375.6 194.9 1375.9 196.4 1376.3 197.8 1376.7 199.3 1377 200.8 1377.3 202.3 1377.7 203.8 1378 205.3 1378.3 206.8 1378.7 208.2 1379 209.7 1379.3 211.2 1379.6 212.7 1379.9 214.2 1380.2 215.7 1380.5 217.2 1380.8 218.7 1381.1 220.2 1381.4 221.7 1381.7 223.2 1382 224.7 1382.3 226.2 1382.6 227.6 1382.9 229.1 1383.2 230.6 1383.5 232.1 1383.8 233.6 1384.1 235 1384.4 236.5 1384.7 238.3 1385.1 240 1385.5 241.8 1385.8 243.5 1386.2 245.3 1386.6 247 1386.9 248.8 1387.3 250.5 1387.7 252.3 1388 254 1388.4 255.8 1388.8 257.5 1389.2 259.2 1389.6 261 1390 262.7 1390.3 264.4 1390.7 266.1 1391.1 267.9 1391.5 269.6 1392 271.3 1392.4 273 1392.8 274.8 1393.2 276.5 1393.6 278.2 1394 279.9 1394.5 281.6 1394.9 283.3 1395.4 285 1395.8 286.7 1396.3 288.4 1396.7 290.1 1397.2 291.8 1397.7 293.5 1398.1 295.2 1398.6 296.9 1399.1 298.6 1399.6 300.3 1400.1 302 1400.6 303.7 1401.1 305.4 1401.7 307.1 1402.2 308.8 1402.7 310.5 1403.3 312.2 1403.8 313.9 1404.4 315.5 1405 317.2 1405.5 318.9 1406.1 320.6 1406.7 322.3 1407.3 323.9 1407.9 325.6 1408.5 327.3 1409.1 329 1409.7 330.7 1410.3 332.3 1411 334 1411.6 335.7 1412.2 337.3 1412.9 339 1413.5 340.7 1414.2 342.3 1414.8 344 1415.5 345.6 1416.2 347.3 1416.8 349 1417.5 350.6 1418.2 352.3 1418.9 353.9 1419.6 355.6 1420.3 357.2 1421 358.9 1421.7 360.5 1422.4 362.2 1423.1 363.8 1423.9 365.4 1424.6 367.1 1425.3 368.7 1426 370.4 1426.8 372 1427.5 373.6 1428.3 375.2 1429 376.9 1429.8 378.5 1430.5 380.1 1431.3 381.7 1432.1 383.4 1432.8 385 1433.6 386.6 1434.4 388.2 1435.2 389.8 1435.9 391.4 1436.7 393 1437.5 394.6 1438.3 396.2 1439.1 397.8 1439.9 399.4 1440.7 401 1441.5 402.6 1442.3 404.2 1443.1 405.8 1443.9 407.4 1444.7 409 1445.5 410.6 1446.3 412.1 1447.2 413.7 1448 415.3 1448.8 416.9 1449.6 418.4 1450.5 420 1451.3 421.5 1452.1 423.1 1453 424.6 1453.9 426.2 1454.7 427.7 1455.6 429.3 1456.5 430.8 1457.4 432.3 1458.4 433.8 1459.3 435.3 1460.2 436.8 1461.2 438.3 1462.2 439.7 1463.2 441.2 1464.2 442.6 1465.3 444.1 1466.4 445.5 1467.5 446.9 1468.6 448.3 1469.7 449.7 1470.9 451 1471.9 452.2 1472.9 453.3 1473.9 454.4 1475 455.5 1476 456.6 1477.1 457.6 1478.2 458.7 1479.3 459.7 1480.5 460.7 1481.6 461.7 1482.8 462.7 1484 463.7 1485.2 464.6 1486.5 465.5 1487.7 466.4 1488.9 467.3 1490.2 468.1 1491.5 468.9 1493.1 469.8 1494.6 470.6 1496.2 471.4 1497.8 472.2 1499.4 472.8 1501.1 473.5 1502.7 474 1504.4 474.5 1506.1 475 1507.8 475.3 1509.5 475.6 1511.2 475.8 1512.9 476 1514.6 476 1516.3 476.1 1518 476 1519.8 475.9 1521.5 475.7 1523.2 475.5 1524.9 475.2 1526.7 474.9 1528.4 474.5 1530.1 474 1531.8 473.5 1533.5 473 1535.1 472.4 1536.8 471.7 1538.4 471 1540.1 470.3 1541.7 469.5 1543.3 468.7 1544.9 467.8 1546.2 467.1 1547.4 466.3 1548.7 465.5 1550 464.7 1551.2 463.8 1552.4 463 1553.6 462.1 1554.8 461.1 1556 460.2 1557.2 459.3 1558.4 458.3 1559.5 457.3 1560.7 456.3 1561.8 455.3 1563 454.3 1564.1 453.3 1565.2 452.3 1566.3 451.2 1567.5 450.2 1568.6 449.1 1569.7 448.1 1570.8 447 1571.9 445.9 1573 444.9 1574.1 443.8 1575.2 442.8 1576.3 441.7 1577.4 440.7 1578.5 439.6 1579.6 438.6 1580.7 437.6 1581.8 436.5 1583 435.5 1584.1 434.5 1585.4 433.4 1586.8 432.2 1588.2 431.1 1589.6 430 1591 428.9 1592.4 427.8 1593.9 426.8 1595.3 425.8 1596.8 424.9 1598.3 423.9 1599.8 423.1 1601.3 422.2 1602.9 421.4 1604.4 420.6 1606 419.8 1607.6 419.1 1609.2 418.4 1610.8 417.7 1612.4 417 1614 416.4 1615.7 415.8 1617.3 415.2 1619 414.7 1620.7 414.1 1622.4 413.6 1624.1 413.1 1625.8 412.7 1627.5 412.2 1629.2 411.8 1630.9 411.3 1632.7 410.9 1634.4 410.6 1636.2 410.2 1637.9 409.8 1639.7 409.5 1641.4 409.2 1643.2 408.9 1644.9 408.6 1646.7 408.3 1648.5 408 1650.3 407.7 1652 407.4 1653.8 407.2 1655.6 406.9 1657.3 406.7 1659.1 406.4 1660.9 406.2 1662.7 406 1664.4 405.8 1666.2 405.6 1668 405.4 1669.8 405.2 1671.5 405 1673.3 404.8 1675.1 404.6 1676.9 404.5 1678.6 404.3 1680.4 404.1 1682.2 404 1684 403.8 1685.7 403.7 1687.5 403.6 1689.3 403.4 1691.1 403.3 1692.9 403.2 1694.6 403.1 1696.4 403 1698.2 402.9 1700 402.8 1701.8 402.7 1703.5 402.6 1705.3 402.5 1707.1 402.4 1708.9 402.4 1710.6 402.3 1712.4 402.2 1714.2 402.2 1716 402.1 1717.8 402.1 1719.6 402 1721.3 402 1723.1 401.9 1724.9 401.9 1726.7 401.9 1728.5 401.8 1730.2 401.8 1732 401.8 1733.8 401.8 1735.6 401.8 1737.4 401.8 1739.2 401.7 1740.9 401.7 1742.7 401.7 1744.5 401.7 1746.3 401.7 1748.1 401.7 1749.9 401.8 1751.6 401.8 1753.4 401.8 1755.2 401.8 1757 401.8 1758.8 401.8 1760.6 401.8 1762.3 401.9 1764.1 401.9 1765.9 401.9 1767.7 402 1769.5 402 1771.3 402 1773 402 1774.8 402.1 1776.6 402.1 1778.4 402.1 1780.2 402.2 1782 402.2 1783.8 402.3 1785.5 402.3 1787.3 402.3 1789.1 402.4 1790.9 402.4 1792.7 402.5 1794.5 402.5 1796.3 402.5 1798 402.6 1799.8 402.6 1801.6 402.7 1803.4 402.7 1805.2 402.7 1807 402.8 1808.7 402.8 1810.5 402.9 1812.3 402.9 1814.1 402.9 1815.9 403 1817.7 403 1819.5 403.1 1821.2 403.1 1823 403.1 1824.8 403.1 1826.6 403.2 1828.4 403.2 1830.2 403.2 1832 403.3 1833.7 403.3 1835.5 403.3 1837.3 403.3 1839.1 403.4 1840.9 403.4 1842.7 403.4 1844.5 403.4 1846.2 403.4 1848 403.5 1849.8 403.5 1851.6 403.5 1853.4 403.5 1855.2 403.5 1856.9 403.5 1858.7 403.5 1860.5 403.5 1862.3 403.6 1864.1 403.6 1865.9 403.6 1867.7 403.6 1869.4 403.6 1871.2 403.6 1873 403.6 1874.8 403.6 1876.6 403.6 1878.4 403.6 1880.1 403.6 1881.9 403.6 1883.7 403.6 1885.5 403.6 1887.3 403.6 1889.1 403.6 1890.8 403.6 1892.6 403.6 1894.4 403.6 1896.2 403.6 1898 403.6 1899.8 403.6 1901.6 403.6 1903.3 403.6 1905.1 403.6 1906.9 403.6 1908.7 403.6 1910.5 403.5 1912.3 403.5 1914 403.5 1915.8 403.5 1917.6 403.5 1919.4 403.5 1921.2 403.5 1923 403.5 1924.7 403.5 1926.5 403.5 1928.3 403.4 1930.1 403.4 1931.9 403.4 1933.7 403.4 1935.5 403.4 1937.2 403.4 1939 403.4 1940.8 403.3 1942.6 403.3 1944.4 403.3 1946.2 403.3 1947.9 403.3 1949.7 403.3 1951.5 403.3 1953.3 403.2 1955.1 403.2 1956.9 403.2 1958.6 403.2 1960.4 403.2 1962.2 403.2 1964 403.1 1965.8 403.1 1967.6 403.1 1969.3 403.1 1971.1 403.1 1972.9 403.1 1974.7 403 1976.5 403 1978.3 403 1980.1 403 1981.8 403 1983.6 403 1985.4 402.9 1987.2 402.9 1989 402.9 1990.8 402.9 1992.5 402.9 1994.3 402.9 1996.1 402.8 1997.9 402.8 1999.7 402.8 2001.5 402.8 2003.2 402.8 2005 402.8 2006.8 402.8 2008.6 402.7 2010.4 402.7 2012.2 402.7 2013.9 402.7 2015.7 402.7 2017.5 402.7 2019.3 402.7 2021.1 402.7 2022.9 402.6 2024.7 402.6 2026.4 402.6 2028.2 402.6 2030 402.6 2031.8 402.6 2033.6 402.6 2035.4 402.6 2037.1 402.6 2038.9 402.6 2040.7 402.6 2042.5 402.5 2044.3 402.5 2046.1 402.5 2047.8 402.5 2049.6 402.5 2051.4 402.5 2053.2 402.5 2055 402.5 2056.8 402.5 2058.5 402.5 2060.3 402.5 2062.1 402.5 2063.9 402.5 2065.7 402.5 2067.5 402.5 2069.3 402.5 2071 402.5 2072.8 402.5 2074.6 402.5 2076.4 402.6 2078.2 402.6 2080 402.6 2081.7 402.6 2083.5 402.6 2085.3 402.6 2087.1 402.6 2088.9 402.6 2090.7 402.6 2092.5 402.7 2094.2 402.7 2096 402.7 2097.8 402.7 2099.6 402.7 2101.4 402.7 2103.2 402.8 2104.9 402.8 2106.7 402.8 2108.5 402.8 2110.3 402.9 2112.1 402.9 2113.9 402.9 2115.7 402.9 2117.4 403 2119.2 403 2121 403 2121.6 403" stroke="#000000"/></g><g fill="none" stroke="#000" stroke-width="3"><rect x="1321.5" y="80.1" width="801.1" height="647"/><path d="M1302 727.1H1321.5M1302 619.3H1321.5M1302 511.4H1321.5M1302 403.6H1321.5M1302 295.8H1321.5M1302 187.9H1321.5M1302 80.1H1321.5M1321.5 727.1V746.1M1685.8 727.1V746.1M2050 727.1V746.1"/></g><g font-size="51"><text x="1271.5" y="744.6" text-anchor="end" textLength="100.8" lengthAdjust="spacingAndGlyphs">-150</text><text x="1271.5" y="636.8" text-anchor="end" textLength="100.8" lengthAdjust="spacingAndGlyphs">-100</text><text x="1271.5" y="528.9" text-anchor="end" textLength="73.4" lengthAdjust="spacingAndGlyphs">-50</text><text x="1271.5" y="421.1" text-anchor="end" textLength="27.4" lengthAdjust="spacingAndGlyphs">0</text><text x="1271.5" y="313.3" text-anchor="end" textLength="54.8" lengthAdjust="spacingAndGlyphs">50</text><text x="1271.5" y="205.4" text-anchor="end" textLength="82.2" lengthAdjust="spacingAndGlyphs">100</text><text x="1271.5" y="97.6" text-anchor="end" textLength="82.2" lengthAdjust="spacingAndGlyphs">150</text><text x="1322.5" y="820.5" text-anchor="middle" textLength="82.2" lengthAdjust="spacingAndGlyphs">190</text><text x="1686.8" y="820.5" text-anchor="middle" textLength="82.2" lengthAdjust="spacingAndGlyphs">240</text><text x="2051" y="820.5" text-anchor="middle" textLength="82.2" lengthAdjust="spacingAndGlyphs">290</text></g><text class="b" x="1492.5" y="875.8" font-size="58" textLength="457.8" lengthAdjust="spacingAndGlyphs">Wavelength (nm)</text><text class="b" transform="translate(1168.5 559.7) rotate(-90)" font-size="57" textLength="276.2" lengthAdjust="spacingAndGlyphs">CD (mdeg)</text><g stroke-width="5.6"><path d="M1857.5 118.2H1938.6" stroke="#ff0000"/><path d="M1857.5 193.7H1938.6" stroke="#000"/></g><g font-size="38.3"><text x="1946.1" y="129.9" textLength="159.3" lengthAdjust="spacingAndGlyphs">2D_Sm-L</text><text x="1946.1" y="205.4" textLength="165.6" lengthAdjust="spacingAndGlyphs">2D_Sm-D</text></g></g>
<g><g fill="none" stroke-width="5.5" stroke-linejoin="round" stroke-linecap="butt"><path d="M251.1 1460.5L251.2 1462 251.3 1463.5 251.4 1465 251.5 1466.6 251.6 1468.1 251.6 1469.7 251.7 1471.2 251.8 1472.8 251.9 1474.3 251.9 1475.9 252 1477.4 252 1479 252.1 1480.6 252.1 1482.2 252.2 1483.7 252.2 1485.3 252.3 1486.9 252.3 1488.5 252.4 1490.1 252.4 1491.7 252.4 1493.2 252.5 1494.8 252.5 1496.4 252.6 1498 252.6 1499.6 252.6 1501.2 252.7 1502.8 252.7 1504.4 252.7 1506 252.8 1507.6 252.8 1509.2 252.9 1510.7 252.9 1512.3 253 1513.9 253 1515.5 253 1517.1 253.1 1518.7 253.1 1520.2 253.2 1521.8 253.3 1523.4 253.3 1524.9 253.4 1526.5 253.5 1528.1 253.5 1529.6 253.6 1531.2 253.7 1532.7 253.8 1534.3 253.8 1535.8 253.9 1537.4 254 1538.9 254.1 1540.4 254.2 1542 254.3 1543.5 254.4 1545 254.5 1546.6 254.6 1548.1 254.7 1549.6 254.8 1551.2 254.9 1552.7 255 1554.2 255.1 1555.8 255.3 1557.3 255.4 1558.8 255.5 1560.4 255.6 1561.9 255.7 1563.4 255.8 1565 256 1566.5 256.1 1568 256.2 1569.6 256.3 1571.1 256.5 1572.7 256.6 1574.2 256.7 1575.7 256.8 1577.3 256.9 1578.9 257.1 1580.4 257.2 1582 257.3 1583.5 257.4 1585.1 257.6 1586.7 257.7 1588.3 257.8 1589.9 257.9 1591.4 258.1 1593 258.2 1594.6 258.3 1596.2 258.4 1597.8 258.5 1599.5 258.6 1601.1 258.7 1602.7 258.9 1604.3 259 1606 259.1 1607.6 259.2 1609.3 259.3 1610.9 259.4 1612.6 259.6 1614.3 259.7 1615.9 259.9 1617.6 260.1 1619.2 260.3 1620.8 260.6 1622.5 260.9 1624.1 261.3 1625.6 261.7 1627.2 262.2 1628.7 262.7 1630.3 263.3 1631.8 264 1633.2 264.7 1634.6 265.6 1636 266.5 1637.3 267.6 1638.7 268.7 1639.8 270.1 1640.8 271.7 1641.2 273.2 1640.9 274.5 1640.1 275.7 1638.8 276.7 1637.5 277.7 1636 278.4 1634.7 279.1 1633.3 279.8 1631.9 280.4 1630.5 281 1629.1 281.5 1627.7 282 1626.2 282.6 1624.7 283 1623.3 283.5 1621.7 283.9 1620.2 284.4 1618.7 284.8 1617.2 285.2 1615.6 285.6 1614.1 286 1612.6 286.4 1611 286.8 1609.5 287.2 1607.9 287.5 1606.4 287.9 1604.8 288.3 1603.3 288.6 1601.8 289 1600.2 289.3 1598.7 289.7 1597.1 290 1595.6 290.3 1594 290.7 1592.5 291 1590.9 291.3 1589.3 291.6 1587.8 291.9 1586.2 292.3 1584.7 292.6 1583.1 292.9 1581.6 293.2 1580 293.5 1578.5 293.7 1576.9 294 1575.3 294.3 1573.8 294.6 1572.2 294.9 1570.7 295.1 1569.1 295.4 1567.5 295.7 1566 296 1564.4 296.2 1562.9 296.5 1561.3 296.7 1559.7 297 1558.2 297.2 1556.6 297.5 1555 297.8 1553.5 298 1551.9 298.2 1550.4 298.5 1548.8 298.7 1547.2 299 1545.7 299.2 1544.1 299.5 1542.5 299.7 1541 299.9 1539.4 300.2 1537.8 300.4 1536.3 300.7 1534.7 300.9 1533.2 301.1 1531.6 301.4 1530 301.6 1528.5 301.8 1526.9 302.1 1525.4 302.3 1523.8 302.5 1522.2 302.8 1520.7 303 1519.1 303.2 1517.6 303.5 1516 303.7 1514.4 303.9 1512.9 304.2 1511.3 304.4 1509.8 304.7 1508.2 304.9 1506.7 305.2 1505.1 305.4 1503.6 305.6 1502 305.9 1500.5 306.1 1498.9 306.4 1497.4 306.6 1495.8 306.9 1494.3 307.2 1492.7 307.4 1491.2 307.7 1489.6 307.9 1488.1 308.2 1486.5 308.5 1485 308.8 1483.4 309 1481.9 309.3 1480.4 309.6 1478.8 309.9 1477.3 310.2 1475.8 310.5 1474.2 310.7 1472.7 311 1471.2 311.3 1469.6 311.7 1468.1 312 1466.6 312.3 1465 312.6 1463.5 312.9 1462 313.2 1460.5 313.6 1459 313.9 1457.4 314.2 1455.9 314.6 1454.4 314.9 1452.9 315.3 1451.4 315.7 1449.9 316 1448.4 316.4 1446.8 316.8 1445.3 317.1 1443.8 317.5 1442.3 317.9 1440.8 318.3 1439.3 318.7 1437.8 319.1 1436.3 319.5 1434.8 320 1433.4 320.4 1431.9 320.8 1430.4 321.3 1428.9 321.7 1427.4 322.2 1425.9 322.6 1424.5 323.1 1423 323.6 1421.5 324 1420 324.5 1418.6 325 1417.1 325.5 1415.6 326 1414.2 326.6 1412.7 327.1 1411.2 327.6 1409.8 328.2 1408.3 328.7 1406.9 329.3 1405.4 329.8 1404 330.4 1402.5 331 1401.1 331.6 1399.6 332.2 1398.2 332.8 1396.8 333.4 1395.3 334 1393.9 334.6 1392.5 335.2 1391 335.8 1389.6 336.4 1388.2 337.1 1386.7 337.7 1385.3 338.3 1383.9 339 1382.5 339.6 1381 340.3 1379.6 340.9 1378.2 341.6 1376.7 342.2 1375.3 342.9 1373.9 343.6 1372.5 344.2 1371 344.9 1369.6 345.5 1368.2 346.2 1366.8 346.9 1365.3 347.5 1363.9 348.2 1362.5 348.9 1361 349.5 1359.6 350.2 1358.2 350.8 1356.8 351.5 1355.3 352.2 1353.9 352.8 1352.5 353.5 1351 354.1 1349.6 354.8 1348.1 355.4 1346.7 356.1 1345.2 356.7 1343.8 357.3 1342.3 358 1340.9 358.6 1339.4 359.2 1338 359.8 1336.5 360.5 1335.1 361.1 1333.6 361.7 1332.2 362.3 1330.7 362.9 1329.2 363.5 1327.8 364.1 1326.3 364.8 1324.9 365.4 1323.4 366 1322 366.6 1320.5 367.3 1319.1 367.9 1317.6 368.5 1316.2 369.2 1314.8 369.9 1313.4 370.5 1311.9 371.2 1310.5 371.9 1309.1 372.6 1307.7 373.3 1306.4 374 1305 374.8 1303.6 375.5 1302.3 376.3 1300.9 377.1 1299.6 377.9 1298.3 378.7 1297 379.5 1295.7 380.3 1294.4 381.2 1293.1 382.1 1291.9 383 1290.6 383.9 1289.4 384.9 1288.2 385.9 1287 386.9 1285.9 387.9 1284.7 388.9 1283.6 390 1282.4 391.1 1281.3 392.2 1280.3 393.4 1279.2 394.6 1278.2 395.8 1277.1 397 1276.1 398.3 1275.2 399.6 1274.2 400.9 1273.3 402.2 1272.4 403.6 1271.6 405 1270.7 406.3 1269.9 407.8 1269.2 409.2 1268.4 410.6 1267.7 412.1 1267.1 413.5 1266.5 415 1265.9 416.5 1265.3 418 1264.8 419.5 1264.4 421 1264 422.5 1263.6 424 1263.3 425.5 1263.1 427 1262.9 428.5 1262.7 430 1262.6 431.5 1262.5 433.3 1262.6 435.1 1262.6 436.9 1262.8 438.6 1263.1 440.4 1263.4 442.2 1263.8 443.9 1264.2 445.3 1264.7 446.8 1265.1 448.2 1265.7 449.6 1266.2 451 1266.8 452.5 1267.4 453.9 1268.1 455.3 1268.8 456.6 1269.5 458 1270.3 459.4 1271 460.8 1271.8 462.2 1272.7 463.5 1273.5 464.9 1274.4 466.2 1275.3 467.6 1276.2 468.9 1277.1 470.2 1278.1 471.5 1279 472.9 1280 474.2 1281 475.5 1281.9 476.8 1282.9 478.1 1283.9 479.3 1284.9 480.6 1285.9 481.9 1286.9 483.2 1287.9 484.4 1288.9 485.7 1289.9 487 1290.9 488.2 1291.9 489.5 1292.9 490.7 1293.9 492 1294.9 493.2 1295.9 494.5 1296.9 495.7 1297.9 497 1298.9 498.2 1299.9 499.5 1300.8 500.8 1301.8 502 1302.8 503.3 1303.7 504.5 1304.6 505.8 1305.6 507.1 1306.5 508.3 1307.4 509.6 1308.3 510.9 1309.2 512.2 1310.1 513.5 1310.9 514.8 1311.8 516.1 1312.6 517.4 1313.4 518.7 1314.2 520.1 1315 521.4 1315.8 522.7 1316.5 524.1 1317.3 525.4 1318 526.8 1318.7 528.2 1319.3 529.6 1320 531 1320.6 532.4 1321.2 533.8 1321.8 535.2 1322.4 536.7 1322.9 538.1 1323.5 539.6 1324 541 1324.5 542.5 1325 543.9 1325.5 545.4 1326 546.9 1326.4 548.4 1326.8 549.9 1327.3 551.4 1327.7 552.9 1328.1 554.4 1328.4 555.9 1328.8 557.4 1329.2 558.9 1329.5 560.5 1329.8 562 1330.2 563.5 1330.5 565.1 1330.8 566.6 1331.1 568.2 1331.4 569.7 1331.6 571.3 1331.9 572.8 1332.2 574.4 1332.4 575.9 1332.7 577.5 1332.9 579 1333.1 580.6 1333.3 582.2 1333.6 583.7 1333.8 585.3 1334 586.8 1334.2 588.4 1334.4 590 1334.6 591.5 1334.8 593.1 1334.9 594.6 1335.1 596.2 1335.3 597.8 1335.5 599.3 1335.6 600.9 1335.8 602.4 1335.9 604 1336.1 605.6 1336.2 607.1 1336.4 608.7 1336.5 610.3 1336.7 611.8 1336.8 613.4 1336.9 614.9 1337 616.5 1337.2 618.1 1337.3 619.6 1337.4 621.2 1337.5 622.8 1337.6 624.3 1337.7 625.9 1337.8 627.5 1337.9 629 1338 630.6 1338.1 632.1 1338.2 633.7 1338.2 635.3 1338.3 636.8 1338.4 638.4 1338.5 640 1338.5 641.5 1338.6 643.1 1338.7 644.7 1338.7 646.2 1338.8 647.8 1338.8 649.3 1338.9 650.9 1338.9 652.5 1339 654 1339 655.6 1339.1 657.2 1339.1 658.7 1339.1 660.3 1339.2 661.9 1339.2 663.4 1339.2 665 1339.2 666.6 1339.3 668.1 1339.3 669.7 1339.3 671.3 1339.3 672.8 1339.3 674.4 1339.3 675.9 1339.3 677.5 1339.3 679.1 1339.4 680.6 1339.4 682.2 1339.4 683.8 1339.4 685.3 1339.4 686.9 1339.3 688.5 1339.3 690 1339.3 691.6 1339.3 693.2 1339.3 694.7 1339.3 696.3 1339.3 697.9 1339.3 699.4 1339.3 701 1339.2 702.6 1339.2 704.1 1339.2 705.7 1339.2 707.3 1339.2 708.8 1339.1 710.4 1339.1 712 1339.1 713.5 1339.1 715.1 1339 716.7 1339 718.2 1339 719.8 1338.9 721.4 1338.9 722.9 1338.9 724.5 1338.9 726.1 1338.8 727.6 1338.8 729.2 1338.8 730.8 1338.7 732.3 1338.7 733.9 1338.7 735.5 1338.6 737 1338.6 738.6 1338.6 740.2 1338.5 741.7 1338.5 743.3 1338.5 744.9 1338.4 746.4 1338.4 748 1338.4 749.6 1338.3 751.1 1338.3 752.7 1338.3 754.3 1338.2 755.8 1338.2 757.4 1338.2 759 1338.1 760.5 1338.1 762.1 1338.1 763.7 1338.1 765.2 1338 766.8 1338 768.4 1338 769.9 1337.9 771.5 1337.9 773.1 1337.9 774.6 1337.9 776.2 1337.9 777.8 1337.8 779.3 1337.8 780.9 1337.8 782.5 1337.8 784 1337.8 785.6 1337.7 787.2 1337.7 788.7 1337.7 790.3 1337.7 791.9 1337.7 793.4 1337.7 795 1337.7 796.6 1337.6 798.1 1337.6 799.7 1337.6 801.3 1337.6 802.8 1337.6 804.4 1337.6 806 1337.6 807.5 1337.6 809.1 1337.6 810.7 1337.6 812.2 1337.6 813.8 1337.6 815.4 1337.6 816.9 1337.6 818.5 1337.5 820.1 1337.5 821.6 1337.5 823.2 1337.5 824.8 1337.5 826.3 1337.5 827.9 1337.5 829.5 1337.5 831 1337.6 832.6 1337.6 834.2 1337.6 835.7 1337.6 837.3 1337.6 838.9 1337.6 840.4 1337.6 842 1337.6 843.6 1337.6 845.1 1337.6 846.7 1337.6 848.3 1337.6 849.8 1337.6 851.4 1337.6 853 1337.6 854.5 1337.6 856.1 1337.6 857.7 1337.6 859.2 1337.7 860.8 1337.7 862.4 1337.7 863.9 1337.7 865.5 1337.7 867.1 1337.7 868.6 1337.7 870.2 1337.7 871.8 1337.7 873.3 1337.8 874.9 1337.8 876.5 1337.8 878 1337.8 879.6 1337.8 881.2 1337.8 882.7 1337.8 884.3 1337.8 885.9 1337.9 887.4 1337.9 889 1337.9 890.6 1337.9 892.1 1337.9 893.7 1337.9 895.2 1337.9 896.8 1338 898.4 1338 899.9 1338 901.5 1338 903.1 1338 904.6 1338 906.2 1338 907.8 1338.1 909.3 1338.1 910.9 1338.1 912.5 1338.1 914 1338.1 915.6 1338.1 917.2 1338.1 918.7 1338.1 920.3 1338.2 921.9 1338.2 923.4 1338.2 925 1338.2 926.6 1338.2 928.1 1338.2 929.7 1338.2 931.3 1338.3 932.8 1338.3 934.4 1338.3 936 1338.3 937.5 1338.3 939.1 1338.3 940.7 1338.3 942.2 1338.3 943.8 1338.4 945.4 1338.4 946.9 1338.4 948.5 1338.4 950.1 1338.4 951.6 1338.4 953.2 1338.4 954.8 1338.4 956.3 1338.4 957.9 1338.4 959.5 1338.5 961 1338.5 962.6 1338.5 964.2 1338.5 965.7 1338.5 967.3 1338.5 968.9 1338.5 970.4 1338.5 972 1338.5 973.6 1338.5 975.1 1338.5 976.7 1338.5 978.3 1338.5 979.8 1338.5 981.4 1338.5 983 1338.5 984.5 1338.5 986.1 1338.5 987.7 1338.5 989.2 1338.5 990.8 1338.5 992.4 1338.5 993.9 1338.5 995.5 1338.5 997.1 1338.5 998.6 1338.5 1000.2 1338.5 1001.8 1338.5 1003.3 1338.5 1004.9 1338.5 1006.5 1338.5 1008 1338.5 1009.6 1338.5 1011.2 1338.5 1012.7 1338.5 1014.3 1338.5 1015.9 1338.4 1017.4 1338.4 1019 1338.4 1020.6 1338.4 1022.1 1338.4 1023.7 1338.4 1025.3 1338.4 1026.8 1338.4 1028.4 1338.3 1030 1338.3 1031.5 1338.3 1033.1 1338.3 1034.7 1338.3 1036.2 1338.2 1037.8 1338.2 1039.4 1338.2 1040.9 1338.2 1042.5 1338.1 1044.1 1338.1 1045.6 1338.1 1047.2 1338.1 1047.5 1338.1" stroke="#ff0000"/><path d="M251.1 1241.6L251.3 1240.1 251.4 1238.6 251.6 1237.1 251.8 1235.6 251.9 1234.1 252.1 1232.5 252.2 1231 252.4 1229.5 252.5 1228 252.7 1226.5 252.8 1224.9 252.9 1223.4 253 1221.9 253.2 1220.4 253.3 1218.8 253.4 1217.3 253.5 1215.8 253.6 1214.2 253.8 1212.7 253.9 1211.2 254 1209.6 254.1 1208.1 254.2 1206.6 254.3 1205 254.4 1203.5 254.5 1202 254.6 1200.4 254.7 1198.9 254.8 1197.3 254.9 1195.8 255 1194.3 255.2 1192.7 255.3 1191.2 255.4 1189.7 255.5 1188.1 255.6 1186.6 255.7 1185 255.8 1183.5 255.9 1182 256 1180.4 256.1 1178.9 256.3 1177.4 256.4 1175.8 256.5 1174.3 256.6 1172.8 256.8 1171.2 256.9 1169.7 257 1168.2 257.2 1166.7 257.3 1165.1 257.5 1163.6 257.6 1162.1 257.8 1160.6 257.9 1159 258.1 1157.5 258.2 1156 258.4 1154.5 258.6 1153 258.8 1151.5 259 1150 259.1 1148.5 259.3 1146.9 259.5 1145.4 259.7 1143.9 259.9 1142.4 260.1 1140.9 260.3 1139.4 260.5 1137.9 260.7 1136.4 260.9 1134.9 261.1 1133.4 261.3 1131.9 261.5 1130.4 261.7 1128.9 261.9 1127.4 262.1 1125.9 262.3 1124.4 262.5 1122.8 262.7 1121.3 262.9 1119.8 263.1 1118.3 263.3 1116.8 263.5 1115.3 263.6 1113.7 263.8 1112.2 264 1110.7 264.2 1109.2 264.3 1107.6 264.5 1106.1 264.6 1104.6 264.8 1103 265 1101.5 265.2 1099.9 265.4 1098.4 265.7 1096.8 266.1 1095.3 266.6 1093.7 267.2 1092.2 267.9 1090.6 268.8 1089 269.6 1087.7 270.6 1086.5 271.7 1085.2 272.8 1084 274 1083 275.4 1081.9 276.7 1081.2 278.4 1081 279.9 1081.7 281 1082.9 281.8 1084.3 282.6 1085.8 283.3 1087.4 284 1089.1 284.7 1090.7 285.3 1092.4 286 1094.1 286.6 1095.7 287.3 1097.4 287.9 1099.1 288.5 1100.8 289.1 1102.5 289.7 1104.2 290.3 1105.9 290.9 1107.6 291.4 1109 291.8 1110.4 292.3 1111.9 292.8 1113.3 293.2 1114.7 293.6 1116.2 294.1 1117.6 294.5 1119 294.9 1120.5 295.3 1121.9 295.8 1123.4 296.2 1124.8 296.6 1126.3 297 1127.8 297.3 1129.2 297.7 1130.7 298.1 1132.2 298.5 1133.6 298.9 1135.1 299.2 1136.6 299.6 1138 299.9 1139.5 300.3 1141 300.6 1142.5 301 1144 301.3 1145.5 301.7 1146.9 302 1148.4 302.3 1149.9 302.6 1151.4 303 1152.9 303.3 1154.4 303.6 1155.9 303.9 1157.4 304.2 1158.9 304.5 1160.4 304.8 1161.9 305.1 1163.4 305.4 1164.9 305.7 1166.4 306 1167.9 306.3 1169.5 306.6 1171 306.9 1172.5 307.1 1174 307.4 1175.5 307.7 1177 308 1178.5 308.3 1180.1 308.5 1181.6 308.8 1183.1 309.1 1184.6 309.3 1186.1 309.6 1187.7 309.9 1189.2 310.1 1190.7 310.4 1192.2 310.7 1193.7 310.9 1195.3 311.2 1196.8 311.5 1198.3 311.7 1199.8 312 1201.4 312.3 1202.9 312.5 1204.4 312.8 1205.9 313.1 1207.5 313.3 1209 313.6 1210.5 313.9 1212 314.1 1213.5 314.4 1215.1 314.7 1216.6 315 1218.1 315.2 1219.6 315.5 1221.2 315.8 1222.7 316.1 1224.2 316.3 1225.7 316.6 1227.2 316.9 1228.7 317.2 1230.3 317.5 1231.8 317.8 1233.3 318.1 1234.8 318.4 1236.3 318.7 1237.8 319 1239.3 319.3 1240.9 319.6 1242.4 319.9 1243.9 320.2 1245.4 320.5 1246.9 320.8 1248.4 321.1 1249.9 321.5 1251.4 321.8 1252.9 322.1 1254.4 322.5 1255.9 322.8 1257.4 323.2 1258.9 323.5 1260.4 323.9 1261.9 324.2 1263.3 324.6 1264.8 324.9 1266.3 325.3 1267.8 325.7 1269.3 326 1270.8 326.4 1272.2 326.8 1273.7 327.2 1275.2 327.6 1276.7 328 1278.1 328.4 1279.6 328.8 1281.1 329.2 1282.6 329.6 1284 330 1285.5 330.4 1287 330.8 1288.4 331.3 1289.9 331.7 1291.3 332.1 1292.8 332.6 1294.3 333 1295.7 333.4 1297.2 333.9 1298.6 334.3 1300.1 334.8 1301.5 335.2 1303 335.7 1304.5 336.2 1305.9 336.6 1307.4 337.1 1308.8 337.6 1310.2 338.1 1311.7 338.5 1313.1 339 1314.6 339.5 1316 340 1317.5 340.5 1318.9 341 1320.3 341.5 1321.8 342 1323.2 342.5 1324.7 343 1326.1 343.6 1327.5 344.1 1329 344.6 1330.4 345.1 1331.8 345.7 1333.2 346.2 1334.7 346.7 1336.1 347.3 1337.5 347.8 1339 348.4 1340.4 348.9 1341.8 349.5 1343.2 350.1 1344.7 350.6 1346.1 351.2 1347.5 351.8 1348.9 352.3 1350.3 352.9 1351.8 353.5 1353.2 354.1 1354.6 354.7 1356 355.3 1357.4 355.9 1358.8 356.5 1360.3 357.1 1361.7 357.7 1363.1 358.3 1364.5 358.9 1365.9 359.5 1367.3 360.1 1368.7 360.7 1370.1 361.4 1371.6 362 1373 362.6 1374.4 363.3 1375.8 363.9 1377.2 364.6 1378.6 365.2 1380 365.9 1381.4 366.5 1382.8 367.2 1384.2 367.8 1385.6 368.5 1387 369.2 1388.4 369.8 1389.8 370.5 1391.2 371.2 1392.6 371.9 1394 372.6 1395.4 373.2 1396.8 374 1398.2 374.7 1399.6 375.4 1400.9 376.1 1402.3 376.8 1403.7 377.6 1405 378.4 1406.4 379.1 1407.7 379.9 1409 380.7 1410.3 381.5 1411.6 382.3 1412.9 383.2 1414.2 384 1415.5 384.9 1416.7 385.8 1417.9 386.7 1419.2 387.6 1420.4 388.5 1421.6 389.5 1422.7 390.5 1423.9 391.5 1425 392.5 1426.1 393.5 1427.2 394.6 1428.3 395.6 1429.3 396.7 1430.3 397.9 1431.3 399 1432.3 400.2 1433.3 401.4 1434.2 402.6 1435.1 403.9 1436 405.1 1436.8 406.4 1437.6 407.8 1438.4 409.1 1439.2 410.5 1439.9 411.8 1440.6 413.2 1441.3 414.6 1441.9 416.1 1442.5 417.5 1443 419 1443.5 420.4 1444 421.9 1444.4 423.4 1444.8 424.8 1445.2 426.3 1445.5 427.8 1445.7 429.3 1445.9 430.8 1446.1 432.3 1446.2 434.1 1446.3 435.9 1446.3 437.7 1446.3 439.5 1446.1 441.2 1445.9 443 1445.6 444.8 1445.2 446.5 1444.8 448.2 1444.2 449.6 1443.7 451 1443.1 452.4 1442.5 453.8 1441.8 455.1 1441 456.5 1440.3 457.8 1439.4 459.1 1438.6 460.4 1437.7 461.7 1436.7 463 1435.8 464.3 1434.8 465.5 1433.8 466.8 1432.8 468 1431.7 469.2 1430.7 470.4 1429.6 471.6 1428.5 472.8 1427.5 474 1426.4 475.2 1425.3 476.4 1424.3 477.5 1423.2 478.6 1422.2 479.8 1421.2 480.9 1420.2 482 1419.1 483.1 1418.1 484.3 1417.1 485.6 1415.9 486.9 1414.7 488.2 1413.5 489.5 1412.3 490.9 1411.1 492.2 1409.9 493.5 1408.7 494.8 1407.5 496.1 1406.3 497.4 1405.1 498.8 1403.9 500.1 1402.7 501.2 1401.7 502.3 1400.7 503.4 1399.7 504.6 1398.7 505.7 1397.6 506.8 1396.6 508 1395.6 509.1 1394.6 510.3 1393.5 511.4 1392.5 512.6 1391.5 513.8 1390.5 515 1389.4 516.1 1388.4 517.3 1387.4 518.5 1386.4 519.7 1385.4 520.9 1384.4 522.1 1383.4 523.3 1382.4 524.6 1381.5 525.8 1380.5 527 1379.5 528.3 1378.6 529.5 1377.7 530.8 1376.7 532 1375.8 533.3 1374.9 534.6 1374 535.8 1373.1 537.1 1372.3 538.4 1371.4 539.7 1370.6 541 1369.7 542.3 1368.9 543.7 1368.1 545 1367.4 546.3 1366.6 547.6 1365.9 549 1365.1 550.3 1364.4 551.7 1363.7 553.1 1363.1 554.4 1362.4 555.8 1361.8 557.2 1361.2 558.6 1360.6 560 1360 561.4 1359.5 562.8 1359 564.2 1358.4 565.7 1357.9 567.1 1357.4 568.5 1357 570 1356.5 571.4 1356.1 572.9 1355.7 574.3 1355.3 575.8 1354.9 577.3 1354.5 578.7 1354.1 580.2 1353.8 581.7 1353.4 583.2 1353.1 584.7 1352.8 586.1 1352.5 587.6 1352.2 589.1 1351.9 590.6 1351.7 592.1 1351.4 593.7 1351.2 595.2 1350.9 596.7 1350.7 598.2 1350.5 599.7 1350.3 601.2 1350.1 602.8 1349.9 604.3 1349.8 605.8 1349.6 607.3 1349.4 608.9 1349.3 610.4 1349.1 611.9 1349 613.5 1348.9 615 1348.7 616.6 1348.6 618.1 1348.5 619.6 1348.4 621.2 1348.3 622.7 1348.2 624.3 1348.1 625.8 1348 627.3 1347.9 628.9 1347.8 630.4 1347.7 632 1347.7 633.5 1347.6 635.1 1347.5 636.6 1347.4 638.1 1347.4 639.7 1347.3 641.2 1347.2 642.8 1347.2 644.3 1347.1 645.8 1347.1 647.4 1347 648.9 1347 650.4 1346.9 652 1346.9 653.5 1346.8 655.1 1346.8 656.6 1346.7 658.1 1346.7 659.7 1346.7 661.2 1346.6 662.7 1346.6 664.3 1346.6 665.8 1346.5 667.3 1346.5 668.9 1346.5 670.4 1346.4 671.9 1346.4 673.5 1346.4 675 1346.4 676.5 1346.4 678.1 1346.3 679.6 1346.3 681.1 1346.3 682.7 1346.3 684.2 1346.3 685.7 1346.3 687.3 1346.3 688.8 1346.3 690.3 1346.2 691.9 1346.2 693.4 1346.2 694.9 1346.2 696.4 1346.2 698 1346.2 699.5 1346.2 701 1346.2 702.6 1346.2 704.1 1346.2 705.6 1346.2 707.2 1346.2 708.7 1346.2 710.2 1346.2 711.7 1346.3 713.3 1346.3 714.8 1346.3 716.3 1346.3 717.9 1346.3 719.4 1346.3 720.9 1346.3 722.4 1346.3 724 1346.3 725.5 1346.3 727 1346.3 728.6 1346.4 730.1 1346.4 731.6 1346.4 733.1 1346.4 734.7 1346.4 736.2 1346.4 737.7 1346.4 739.3 1346.4 740.8 1346.4 742.3 1346.5 743.8 1346.5 745.4 1346.5 746.9 1346.5 748.4 1346.5 750 1346.5 751.5 1346.5 753 1346.5 754.6 1346.5 756.1 1346.6 757.6 1346.6 759.1 1346.6 760.7 1346.6 762.2 1346.6 763.7 1346.6 765.3 1346.6 766.8 1346.6 768.3 1346.6 769.9 1346.6 771.4 1346.6 772.9 1346.6 774.4 1346.6 776 1346.7 777.5 1346.7 779 1346.7 780.6 1346.7 782.1 1346.7 783.6 1346.7 785.2 1346.7 786.7 1346.7 788.2 1346.7 789.8 1346.7 791.3 1346.7 792.8 1346.7 794.3 1346.7 795.9 1346.7 797.4 1346.7 798.9 1346.7 800.5 1346.7 802 1346.7 803.5 1346.7 805.1 1346.7 806.6 1346.7 808.1 1346.7 809.7 1346.7 811.2 1346.7 812.7 1346.7 814.3 1346.7 815.8 1346.7 817.3 1346.7 818.9 1346.7 820.4 1346.7 821.9 1346.7 823.4 1346.7 825 1346.7 826.5 1346.7 828 1346.7 829.6 1346.7 831.1 1346.7 832.6 1346.7 834.2 1346.7 835.7 1346.7 837.2 1346.7 838.8 1346.7 840.3 1346.7 841.8 1346.7 843.4 1346.7 844.9 1346.7 846.4 1346.7 848 1346.7 849.5 1346.7 851 1346.7 852.6 1346.7 854.1 1346.7 855.6 1346.7 857.2 1346.7 858.7 1346.7 860.2 1346.7 861.8 1346.7 863.3 1346.7 864.8 1346.7 866.4 1346.7 867.9 1346.7 869.4 1346.7 871 1346.7 872.5 1346.7 874 1346.7 875.6 1346.7 877.1 1346.7 878.6 1346.7 880.2 1346.7 881.7 1346.7 883.2 1346.7 884.8 1346.7 886.3 1346.7 887.8 1346.7 889.4 1346.7 890.9 1346.7 892.4 1346.7 894 1346.6 895.5 1346.6 897 1346.6 898.6 1346.6 900.1 1346.6 901.6 1346.6 903.2 1346.6 904.7 1346.6 906.2 1346.6 907.8 1346.6 909.3 1346.6 910.8 1346.6 912.4 1346.6 913.9 1346.6 915.4 1346.6 917 1346.6 918.5 1346.6 920 1346.6 921.6 1346.6 923.1 1346.6 924.6 1346.6 926.2 1346.6 927.7 1346.6 929.2 1346.6 930.8 1346.6 932.3 1346.6 933.8 1346.6 935.4 1346.5 936.9 1346.5 938.4 1346.5 940 1346.5 941.5 1346.5 943 1346.5 944.6 1346.5 946.1 1346.5 947.6 1346.5 949.2 1346.5 950.7 1346.5 952.2 1346.5 953.8 1346.5 955.3 1346.5 956.8 1346.5 958.4 1346.5 959.9 1346.5 961.4 1346.5 963 1346.5 964.5 1346.5 966 1346.5 967.6 1346.5 969.1 1346.5 970.6 1346.5 972.2 1346.5 973.7 1346.5 975.2 1346.5 976.7 1346.5 978.3 1346.5 979.8 1346.5 981.3 1346.5 982.9 1346.5 984.4 1346.5 985.9 1346.5 987.5 1346.5 989 1346.5 990.5 1346.5 992.1 1346.5 993.6 1346.5 995.1 1346.5 996.7 1346.5 998.2 1346.5 999.7 1346.5 1001.3 1346.5 1002.8 1346.5 1004.3 1346.5 1005.9 1346.5 1007.4 1346.5 1008.9 1346.5 1010.5 1346.5 1012 1346.5 1013.5 1346.5 1015 1346.5 1016.6 1346.5 1018.1 1346.5 1019.6 1346.5 1021.2 1346.5 1022.7 1346.5 1024.2 1346.5 1025.8 1346.5 1027.3 1346.5 1028.8 1346.5 1030.4 1346.5 1031.9 1346.5 1033.4 1346.6 1034.9 1346.6 1036.5 1346.6 1038 1346.6 1039.5 1346.6 1041.1 1346.6 1042.6 1346.6 1044.1 1346.6 1045.7 1346.6 1047.2 1346.6 1047.5 1346.6" stroke="#000000"/></g><g fill="none" stroke="#000" stroke-width="3"><rect x="250.6" y="1018.9" width="797.9" height="646.1"/><path d="M231.1 1665H250.6M231.1 1557.3H250.6M231.1 1449.6H250.6M231.1 1342H250.6M231.1 1234.3H250.6M231.1 1126.6H250.6M231.1 1018.9H250.6M250.6 1665V1684M613.2 1665V1684M975.9 1665V1684"/></g><g font-size="51"><text x="197.3" y="1682.5" text-anchor="end" textLength="100.8" lengthAdjust="spacingAndGlyphs">-120</text><text x="197.3" y="1574.8" text-anchor="end" textLength="73.4" lengthAdjust="spacingAndGlyphs">-80</text><text x="197.3" y="1467.1" text-anchor="end" textLength="73.4" lengthAdjust="spacingAndGlyphs">-40</text><text x="197.3" y="1359.5" text-anchor="end" textLength="27.4" lengthAdjust="spacingAndGlyphs">0</text><text x="197.3" y="1251.8" text-anchor="end" textLength="54.8" lengthAdjust="spacingAndGlyphs">40</text><text x="197.3" y="1144.1" text-anchor="end" textLength="54.8" lengthAdjust="spacingAndGlyphs">80</text><text x="197.3" y="1036.4" text-anchor="end" textLength="82.2" lengthAdjust="spacingAndGlyphs">120</text><text x="251.6" y="1758.9" text-anchor="middle" textLength="82.2" lengthAdjust="spacingAndGlyphs">190</text><text x="614.2" y="1758.9" text-anchor="middle" textLength="82.2" lengthAdjust="spacingAndGlyphs">240</text><text x="976.9" y="1758.9" text-anchor="middle" textLength="82.2" lengthAdjust="spacingAndGlyphs">290</text></g><text class="b" x="421.3" y="1810" font-size="58" textLength="453.9" lengthAdjust="spacingAndGlyphs">Wavelength (nm)</text><text class="b" transform="translate(88.3 1501.1) rotate(-90)" font-size="57" textLength="277" lengthAdjust="spacingAndGlyphs">CD (mdeg)</text><g stroke-width="5.6"><path d="M789.2 1059H874" stroke="#ff0000"/><path d="M789.2 1138.6H874" stroke="#000"/></g><g font-size="38.3"><text x="877.8" y="1073.6" textLength="148.9" lengthAdjust="spacingAndGlyphs">2D_Eu-L</text><text x="877.8" y="1149.1" textLength="155.2" lengthAdjust="spacingAndGlyphs">2D_Eu-D</text></g></g>
<g><g fill="none" stroke-width="5.5" stroke-linejoin="round" stroke-linecap="butt"><path d="M1328.3 1503.5L1327.9 1505 1327.7 1506.5 1327.5 1508 1327.4 1509.6 1327.4 1511.4 1327.5 1512.9 1327.6 1514.5 1327.8 1516.1 1328 1517.8 1328.2 1519.4 1328.5 1521.1 1328.9 1522.7 1329.3 1524.4 1329.7 1526 1330.3 1527.5 1330.8 1529 1331.4 1530.4 1332 1531.8 1332.9 1533.3 1333.7 1534.6 1334.7 1535.8 1335.8 1537 1337 1537.9 1338.4 1538.7 1339.8 1539.1 1341.5 1539.3 1343 1539.1 1344.5 1538.6 1345.9 1537.9 1347.3 1537.1 1348.6 1536.1 1349.8 1535.1 1350.9 1534 1352.1 1532.8 1353.2 1531.6 1354.2 1530.3 1355.3 1529 1356.3 1527.6 1357.2 1526.3 1358.2 1524.9 1359.1 1523.5 1359.9 1522 1360.8 1520.6 1361.6 1519.1 1362.4 1517.6 1363.2 1516.1 1364 1514.6 1364.7 1513.1 1365.4 1511.6 1366.1 1510 1366.8 1508.5 1367.5 1506.9 1368.1 1505.4 1368.8 1503.8 1369.4 1502.3 1370 1500.7 1370.6 1499.2 1371.2 1497.6 1371.8 1496 1372.4 1494.5 1373 1492.9 1373.5 1491.3 1374.1 1489.8 1374.6 1488.2 1375.2 1486.6 1375.7 1485 1376.2 1483.5 1376.7 1481.9 1377.3 1480.3 1377.8 1478.7 1378.3 1477.2 1378.8 1475.6 1379.3 1474 1379.8 1472.5 1380.3 1470.9 1380.8 1469.3 1381.3 1467.8 1381.8 1466.2 1382.3 1464.6 1382.9 1463.1 1383.4 1461.5 1383.9 1460 1384.4 1458.4 1384.9 1456.9 1385.4 1455.3 1386 1453.8 1386.5 1452.2 1387 1450.7 1387.6 1449.2 1388.1 1447.7 1388.7 1446.1 1389.3 1444.6 1389.9 1443.1 1390.4 1441.6 1391 1440.1 1391.7 1438.6 1392.3 1437.1 1392.9 1435.7 1393.5 1434.2 1394.2 1432.7 1394.9 1431.3 1395.6 1429.8 1396.3 1428.4 1397 1426.9 1397.7 1425.5 1398.4 1424.1 1399.2 1422.6 1400 1421.2 1400.8 1419.8 1401.6 1418.4 1402.4 1417.1 1403.3 1415.7 1404.2 1414.3 1405 1413 1406 1411.6 1406.9 1410.3 1407.8 1408.9 1408.8 1407.6 1409.8 1406.3 1410.8 1405 1411.8 1403.7 1412.8 1402.5 1413.9 1401.2 1414.9 1399.9 1416 1398.7 1417.1 1397.5 1418.2 1396.3 1419.3 1395 1420.5 1393.9 1421.6 1392.7 1422.8 1391.5 1424 1390.3 1425.2 1389.2 1426.4 1388.1 1427.6 1387 1428.8 1385.8 1430.1 1384.8 1431.3 1383.7 1432.6 1382.6 1433.9 1381.6 1435.2 1380.5 1436.5 1379.5 1437.8 1378.5 1439.1 1377.5 1440.4 1376.6 1441.8 1375.6 1443.1 1374.6 1444.5 1373.7 1445.8 1372.8 1447.2 1371.9 1448.6 1371 1450 1370.2 1451.4 1369.3 1452.8 1368.5 1454.2 1367.7 1455.6 1366.9 1457 1366.1 1458.4 1365.3 1459.9 1364.6 1461.3 1363.9 1462.7 1363.1 1464.2 1362.4 1465.6 1361.7 1467.1 1361 1468.6 1360.3 1470 1359.7 1471.5 1359 1473 1358.3 1474.5 1357.7 1476 1357 1477.4 1356.4 1478.9 1355.8 1480.4 1355.1 1481.9 1354.5 1483.4 1353.9 1485 1353.3 1486.5 1352.6 1488 1352 1489.5 1351.4 1491 1350.7 1492.5 1350.1 1494.1 1349.5 1495.6 1348.8 1497.1 1348.2 1498.7 1347.5 1500.2 1346.9 1501.7 1346.3 1503.3 1345.6 1504.8 1345 1506.4 1344.4 1507.9 1343.7 1509.5 1343.1 1511 1342.5 1512.6 1341.9 1514.1 1341.4 1515.7 1340.8 1517.2 1340.3 1518.8 1339.7 1520.4 1339.2 1521.9 1338.7 1523.5 1338.3 1525.1 1337.8 1526.7 1337.4 1528.3 1337 1529.8 1336.7 1531.4 1336.4 1533 1336.1 1534.6 1335.8 1536.2 1335.5 1537.8 1335.3 1539.4 1335.1 1541 1335 1542.7 1334.8 1544.3 1334.7 1545.9 1334.6 1547.5 1334.5 1549.1 1334.5 1550.7 1334.4 1552.4 1334.4 1554 1334.4 1555.6 1334.4 1557.2 1334.5 1558.9 1334.5 1560.5 1334.6 1562.1 1334.6 1563.8 1334.7 1565.4 1334.8 1567.1 1334.9 1568.7 1335.1 1570.3 1335.2 1572 1335.3 1573.6 1335.5 1575.3 1335.6 1576.9 1335.8 1578.5 1336 1580.2 1336.1 1581.8 1336.3 1583.5 1336.5 1585.1 1336.7 1586.8 1336.9 1588.4 1337 1590.1 1337.2 1591.7 1337.4 1593.3 1337.6 1595 1337.7 1596.6 1337.9 1598.3 1338.1 1599.9 1338.2 1601.6 1338.4 1603.2 1338.5 1604.8 1338.7 1606.5 1338.8 1608.1 1338.9 1609.7 1339.1 1611.4 1339.2 1613 1339.3 1614.7 1339.4 1616.3 1339.6 1617.9 1339.7 1619.6 1339.8 1621.2 1339.9 1622.8 1340 1624.5 1340.1 1626.1 1340.1 1627.7 1340.2 1629.4 1340.3 1631 1340.4 1632.6 1340.5 1634.2 1340.5 1635.9 1340.6 1637.5 1340.7 1639.1 1340.7 1640.8 1340.8 1642.4 1340.9 1644 1340.9 1645.7 1341 1647.3 1341 1648.9 1341.1 1650.5 1341.1 1652.2 1341.1 1653.8 1341.2 1655.4 1341.2 1657.1 1341.3 1658.7 1341.3 1660.3 1341.3 1662 1341.3 1663.6 1341.4 1665.2 1341.4 1666.8 1341.4 1668.5 1341.5 1670.1 1341.5 1671.7 1341.5 1673.4 1341.5 1675 1341.5 1676.6 1341.6 1678.3 1341.6 1679.9 1341.6 1681.5 1341.6 1683.2 1341.6 1684.8 1341.6 1686.4 1341.6 1688.1 1341.6 1689.7 1341.6 1691.3 1341.7 1693 1341.7 1694.6 1341.7 1696.2 1341.7 1697.9 1341.7 1699.5 1341.7 1701.1 1341.7 1702.8 1341.7 1704.4 1341.7 1706 1341.7 1707.7 1341.7 1709.3 1341.7 1710.9 1341.7 1712.6 1341.6 1714.2 1341.6 1715.8 1341.6 1717.5 1341.6 1719.1 1341.6 1720.8 1341.6 1722.4 1341.6 1724 1341.6 1725.7 1341.6 1727.3 1341.6 1728.9 1341.5 1730.6 1341.5 1732.2 1341.5 1733.8 1341.5 1735.5 1341.5 1737.1 1341.5 1738.8 1341.4 1740.4 1341.4 1742 1341.4 1743.7 1341.4 1745.3 1341.4 1746.9 1341.3 1748.6 1341.3 1750.2 1341.3 1751.9 1341.3 1753.5 1341.3 1755.1 1341.2 1756.8 1341.2 1758.4 1341.2 1760.1 1341.2 1761.7 1341.1 1763.3 1341.1 1765 1341.1 1766.6 1341.1 1768.2 1341 1769.9 1341 1771.5 1341 1773.2 1341 1774.8 1340.9 1776.4 1340.9 1778.1 1340.9 1779.7 1340.9 1781.4 1340.8 1783 1340.8 1784.6 1340.8 1786.3 1340.8 1787.9 1340.7 1789.6 1340.7 1791.2 1340.7 1792.8 1340.6 1794.5 1340.6 1796.1 1340.6 1797.8 1340.6 1799.4 1340.5 1801 1340.5 1802.7 1340.5 1804.3 1340.5 1806 1340.4 1807.6 1340.4 1809.2 1340.4 1810.9 1340.3 1812.5 1340.3 1814.2 1340.3 1815.8 1340.3 1817.4 1340.2 1819.1 1340.2 1820.7 1340.2 1822.4 1340.2 1824 1340.1 1825.6 1340.1 1827.3 1340.1 1828.9 1340.1 1830.6 1340.1 1832.2 1340 1833.8 1340 1835.5 1340 1837.1 1340 1838.8 1340 1840.4 1339.9 1842 1339.9 1843.7 1339.9 1845.3 1339.9 1847 1339.9 1848.6 1339.8 1850.2 1339.8 1851.9 1339.8 1853.5 1339.8 1855.1 1339.8 1856.8 1339.8 1858.4 1339.8 1860.1 1339.7 1861.7 1339.7 1863.3 1339.7 1865 1339.7 1866.6 1339.7 1868.3 1339.7 1869.9 1339.7 1871.5 1339.7 1873.2 1339.7 1874.8 1339.7 1876.5 1339.7 1878.1 1339.6 1879.7 1339.6 1881.4 1339.6 1883 1339.6 1884.6 1339.6 1886.3 1339.6 1887.9 1339.6 1889.6 1339.6 1891.2 1339.6 1892.8 1339.6 1894.5 1339.6 1896.1 1339.6 1897.8 1339.6 1899.4 1339.6 1901 1339.6 1902.7 1339.6 1904.3 1339.6 1905.9 1339.6 1907.6 1339.6 1909.2 1339.6 1910.9 1339.6 1912.5 1339.6 1914.1 1339.6 1915.8 1339.6 1917.4 1339.6 1919.1 1339.6 1920.7 1339.6 1922.3 1339.6 1924 1339.6 1925.6 1339.7 1927.2 1339.7 1928.9 1339.7 1930.5 1339.7 1932.2 1339.7 1933.8 1339.7 1935.4 1339.7 1937.1 1339.7 1938.7 1339.7 1940.3 1339.7 1942 1339.7 1943.6 1339.7 1945.3 1339.7 1946.9 1339.7 1948.5 1339.7 1950.2 1339.8 1951.8 1339.8 1953.5 1339.8 1955.1 1339.8 1956.7 1339.8 1958.4 1339.8 1960 1339.8 1961.6 1339.8 1963.3 1339.8 1964.9 1339.8 1966.6 1339.8 1968.2 1339.9 1969.8 1339.9 1971.5 1339.9 1973.1 1339.9 1974.7 1339.9 1976.4 1339.9 1978 1339.9 1979.7 1339.9 1981.3 1339.9 1982.9 1339.9 1984.6 1340 1986.2 1340 1987.8 1340 1989.5 1340 1991.1 1340 1992.8 1340 1994.4 1340 1996 1340 1997.7 1340 1999.3 1340 2000.9 1340.1 2002.6 1340.1 2004.2 1340.1 2005.9 1340.1 2007.5 1340.1 2009.1 1340.1 2010.8 1340.1 2012.4 1340.1 2014 1340.1 2015.7 1340.1 2017.3 1340.2 2019 1340.2 2020.6 1340.2 2022.2 1340.2 2023.9 1340.2 2025.5 1340.2 2027.1 1340.2 2028.8 1340.2 2030.4 1340.2 2032.1 1340.2 2033.7 1340.2 2035.3 1340.2 2037 1340.2 2038.6 1340.2 2040.2 1340.3 2041.9 1340.3 2043.5 1340.3 2045.2 1340.3 2046.8 1340.3 2048.4 1340.3 2050.1 1340.3 2051.7 1340.3 2053.4 1340.3 2055 1340.3 2056.6 1340.3 2058.3 1340.3 2059.9 1340.3 2061.5 1340.3 2063.2 1340.3 2064.8 1340.3 2066.5 1340.3 2068.1 1340.3 2069.7 1340.3 2071.4 1340.3 2073 1340.3 2074.7 1340.3 2076.3 1340.3 2077.9 1340.3 2079.6 1340.3 2081.2 1340.3 2082.8 1340.3 2084.5 1340.3 2086.1 1340.3 2087.8 1340.3 2089.4 1340.3 2091 1340.3 2092.7 1340.3 2094.3 1340.2 2096 1340.2 2097.6 1340.2 2099.2 1340.2 2100.9 1340.2 2102.5 1340.2 2104.1 1340.2 2105.8 1340.2 2107.4 1340.2 2109.1 1340.2 2110.7 1340.1 2112.3 1340.1 2114 1340.1 2115.6 1340.1 2117.3 1340.1 2118.9 1340.1 2120.5 1340.1 2122.2 1340 2123.8 1340 2125.5 1340 2127.1 1340 2127.8 1340" stroke="#ff0000"/><path d="M1328.3 1133.2L1328.6 1131.6 1328.8 1130 1329 1128.5 1329.2 1126.9 1329.4 1125.4 1329.5 1123.9 1329.7 1122.3 1329.8 1120.8 1329.8 1119.3 1329.9 1117.7 1330 1116.2 1330 1114.7 1330.1 1113.1 1330.1 1111.6 1330.1 1110.1 1330.2 1108.5 1330.2 1106.9 1330.3 1105.4 1330.4 1103.8 1330.4 1102.2 1330.5 1100.6 1330.6 1099 1330.8 1097.4 1330.9 1095.8 1331.1 1094.1 1331.3 1092.4 1331.6 1090.7 1331.8 1089 1332.1 1087.3 1332.5 1085.6 1332.9 1083.8 1333.3 1082.1 1333.8 1080.3 1334.3 1078.7 1334.9 1077.1 1335.6 1075.5 1336.3 1074.1 1337.1 1072.7 1338.1 1071.3 1339.3 1070.1 1340.4 1069.1 1341.9 1068.3 1343.4 1067.7 1345 1067.5 1346.6 1067.6 1348.2 1068 1349.8 1068.6 1351.1 1069.3 1352.4 1070.2 1353.6 1071.2 1354.7 1072.3 1355.6 1073.5 1356.6 1074.9 1357.4 1076.3 1358.2 1077.8 1358.9 1079.4 1359.5 1080.8 1360 1082.3 1360.5 1083.8 1361 1085.3 1361.4 1086.9 1361.8 1088.5 1362.2 1090.1 1362.6 1091.8 1363 1093.4 1363.3 1095.1 1363.7 1096.7 1364 1098.4 1364.4 1100 1364.8 1101.7 1365.1 1103.3 1365.5 1104.9 1365.8 1106.5 1366.2 1108.2 1366.5 1109.8 1366.9 1111.4 1367.2 1113 1367.6 1114.6 1367.9 1116.2 1368.3 1117.8 1368.6 1119.4 1369 1120.9 1369.3 1122.5 1369.7 1124.1 1370 1125.7 1370.4 1127.3 1370.7 1128.8 1371.1 1130.4 1371.4 1131.9 1371.8 1133.5 1372.1 1135 1372.5 1136.6 1372.8 1138.1 1373.2 1139.7 1373.5 1141.2 1373.9 1142.8 1374.2 1144.3 1374.6 1145.8 1374.9 1147.4 1375.3 1148.9 1375.6 1150.4 1376 1151.9 1376.3 1153.5 1376.7 1155 1377 1156.5 1377.4 1158 1377.7 1159.5 1378.1 1161 1378.4 1162.6 1378.8 1164.1 1379.2 1165.6 1379.5 1167.1 1379.9 1168.6 1380.3 1170.1 1380.6 1171.6 1381 1173.1 1381.4 1174.6 1381.7 1176.1 1382.1 1177.6 1382.5 1179.1 1382.8 1180.6 1383.2 1182.1 1383.6 1183.6 1384 1185 1384.4 1186.5 1384.7 1188 1385.1 1189.5 1385.5 1191 1385.9 1192.5 1386.3 1194 1386.7 1195.5 1387.1 1197 1387.5 1198.5 1387.9 1200 1388.3 1201.5 1388.7 1203 1389.1 1204.5 1389.5 1206 1389.9 1207.4 1390.3 1208.9 1390.8 1210.4 1391.2 1211.9 1391.6 1213.4 1392 1214.9 1392.5 1216.4 1392.9 1218 1393.3 1219.5 1393.8 1221 1394.2 1222.5 1394.6 1224 1395.1 1225.5 1395.5 1227 1396 1228.5 1396.5 1230 1396.9 1231.6 1397.4 1233.1 1397.8 1234.6 1398.3 1236.1 1398.8 1237.7 1399.3 1239.2 1399.8 1240.7 1400.3 1242.2 1400.8 1243.8 1401.3 1245.3 1401.8 1246.8 1402.3 1248.3 1402.8 1249.8 1403.4 1251.3 1403.9 1252.8 1404.5 1254.3 1405 1255.8 1405.6 1257.3 1406.2 1258.8 1406.8 1260.3 1407.4 1261.8 1408 1263.2 1408.6 1264.7 1409.3 1266.2 1409.9 1267.6 1410.6 1269 1411.3 1270.5 1412 1271.9 1412.7 1273.3 1413.4 1274.7 1414.2 1276 1414.9 1277.4 1415.7 1278.8 1416.5 1280.1 1417.3 1281.4 1418.1 1282.8 1419 1284.1 1419.9 1285.4 1420.7 1286.6 1421.6 1287.9 1422.6 1289.1 1423.5 1290.4 1424.4 1291.6 1425.4 1292.8 1426.4 1294 1427.4 1295.2 1428.4 1296.4 1429.4 1297.5 1430.4 1298.7 1431.4 1299.8 1432.5 1301 1433.5 1302.1 1434.6 1303.3 1435.7 1304.4 1436.7 1305.5 1437.8 1306.7 1438.9 1307.8 1440 1308.9 1441.1 1310.1 1442.1 1311.2 1443.2 1312.3 1444.3 1313.5 1445.4 1314.6 1446.5 1315.8 1447.5 1316.9 1448.6 1318.1 1449.7 1319.2 1450.8 1320.4 1451.8 1321.6 1452.9 1322.7 1453.9 1323.9 1455 1325.1 1456.1 1326.2 1457.2 1327.3 1458.3 1328.4 1459.4 1329.5 1460.6 1330.6 1461.8 1331.6 1463 1332.5 1464.2 1333.5 1465.5 1334.3 1466.8 1335.2 1468.1 1336 1469.5 1336.8 1470.8 1337.5 1472.2 1338.2 1473.6 1338.9 1475 1339.6 1476.5 1340.3 1477.9 1341 1479.3 1341.6 1480.8 1342.3 1482.2 1342.9 1483.6 1343.6 1485.1 1344.3 1486.5 1344.9 1487.9 1345.6 1489.3 1346.3 1490.7 1347.1 1492 1347.8 1493.4 1348.5 1494.8 1349.2 1496.2 1349.9 1497.6 1350.6 1498.9 1351.4 1500.3 1352.1 1501.7 1352.8 1503.1 1353.5 1504.5 1354.2 1505.9 1354.9 1507.3 1355.5 1508.7 1356.2 1510.2 1356.8 1511.6 1357.5 1513.1 1358.1 1514.5 1358.7 1516 1359.2 1517.5 1359.8 1519 1360.3 1520.5 1360.8 1522 1361.3 1523.6 1361.7 1525.1 1362.1 1526.6 1362.5 1528.2 1362.9 1529.7 1363.2 1531.3 1363.4 1532.9 1363.7 1534.4 1363.8 1536 1364 1537.5 1364.1 1539.1 1364.1 1540.6 1364.1 1542.2 1364 1543.7 1363.9 1545.2 1363.8 1546.8 1363.6 1548.3 1363.3 1549.8 1363 1551.3 1362.6 1552.9 1362.3 1554.4 1361.9 1555.9 1361.4 1557.4 1361 1558.9 1360.5 1560.4 1360 1561.9 1359.4 1563.4 1358.9 1564.9 1358.3 1566.4 1357.8 1567.9 1357.2 1569.4 1356.6 1570.9 1356.1 1572.4 1355.5 1573.9 1355 1575.4 1354.4 1576.9 1353.9 1578.4 1353.4 1579.9 1352.9 1581.5 1352.4 1583 1352 1584.5 1351.5 1586 1351.1 1587.5 1350.6 1589.1 1350.2 1590.6 1349.8 1592.1 1349.4 1593.6 1349 1595.2 1348.7 1596.7 1348.3 1598.2 1348 1599.8 1347.7 1601.3 1347.3 1602.8 1347 1604.4 1346.7 1605.9 1346.4 1607.4 1346.1 1609 1345.9 1610.5 1345.6 1612.1 1345.4 1613.6 1345.1 1615.2 1344.9 1616.7 1344.6 1618.3 1344.4 1619.8 1344.2 1621.4 1344 1622.9 1343.8 1624.5 1343.6 1626 1343.4 1627.6 1343.2 1629.1 1343.1 1630.7 1342.9 1632.2 1342.7 1633.8 1342.6 1635.3 1342.4 1636.9 1342.3 1638.5 1342.1 1640 1342 1641.6 1341.8 1643.1 1341.7 1644.7 1341.6 1646.3 1341.5 1647.8 1341.3 1649.4 1341.2 1650.9 1341.1 1652.5 1341 1654.1 1340.9 1655.6 1340.7 1657.2 1340.6 1658.7 1340.5 1660.3 1340.4 1661.9 1340.3 1663.4 1340.2 1665 1340.1 1666.6 1340 1668.1 1340 1669.7 1339.9 1671.2 1339.8 1672.8 1339.7 1674.4 1339.6 1675.9 1339.5 1677.5 1339.5 1679.1 1339.4 1680.6 1339.3 1682.2 1339.3 1683.8 1339.2 1685.3 1339.1 1686.9 1339.1 1688.5 1339 1690 1339 1691.6 1338.9 1693.2 1338.8 1694.7 1338.8 1696.3 1338.8 1697.9 1338.7 1699.4 1338.7 1701 1338.6 1702.6 1338.6 1704.1 1338.5 1705.7 1338.5 1707.3 1338.5 1708.9 1338.4 1710.4 1338.4 1712 1338.4 1713.6 1338.4 1715.1 1338.3 1716.7 1338.3 1718.3 1338.3 1719.8 1338.3 1721.4 1338.2 1723 1338.2 1724.6 1338.2 1726.1 1338.2 1727.7 1338.2 1729.3 1338.2 1730.8 1338.2 1732.4 1338.1 1734 1338.1 1735.6 1338.1 1737.1 1338.1 1738.7 1338.1 1740.3 1338.1 1741.8 1338.1 1743.4 1338.1 1745 1338.1 1746.6 1338.1 1748.1 1338.1 1749.7 1338.1 1751.3 1338.1 1752.9 1338.1 1754.4 1338.1 1756 1338.2 1757.6 1338.2 1759.1 1338.2 1760.7 1338.2 1762.3 1338.2 1763.9 1338.2 1765.4 1338.2 1767 1338.2 1768.6 1338.3 1770.2 1338.3 1771.7 1338.3 1773.3 1338.3 1774.9 1338.3 1776.5 1338.3 1778 1338.3 1779.6 1338.4 1781.2 1338.4 1782.8 1338.4 1784.3 1338.4 1785.9 1338.4 1787.5 1338.5 1789.1 1338.5 1790.6 1338.5 1792.2 1338.5 1793.8 1338.5 1795.4 1338.6 1796.9 1338.6 1798.5 1338.6 1800.1 1338.6 1801.6 1338.7 1803.2 1338.7 1804.8 1338.7 1806.4 1338.7 1807.9 1338.7 1809.5 1338.8 1811.1 1338.8 1812.7 1338.8 1814.2 1338.8 1815.8 1338.8 1817.4 1338.9 1819 1338.9 1820.5 1338.9 1822.1 1338.9 1823.7 1338.9 1825.3 1339 1826.8 1339 1828.4 1339 1830 1339 1831.6 1339 1833.1 1339 1834.7 1339.1 1836.3 1339.1 1837.9 1339.1 1839.4 1339.1 1841 1339.1 1842.6 1339.1 1844.1 1339.1 1845.7 1339.2 1847.3 1339.2 1848.9 1339.2 1850.4 1339.2 1852 1339.2 1853.6 1339.2 1855.2 1339.2 1856.7 1339.2 1858.3 1339.2 1859.9 1339.2 1861.4 1339.3 1863 1339.3 1864.6 1339.3 1866.2 1339.3 1867.7 1339.3 1869.3 1339.3 1870.9 1339.3 1872.5 1339.3 1874 1339.3 1875.6 1339.3 1877.2 1339.3 1878.7 1339.3 1880.3 1339.3 1881.9 1339.3 1883.5 1339.3 1885 1339.3 1886.6 1339.3 1888.2 1339.3 1889.7 1339.3 1891.3 1339.3 1892.9 1339.3 1894.5 1339.3 1896 1339.3 1897.6 1339.3 1899.2 1339.3 1900.7 1339.3 1902.3 1339.3 1903.9 1339.3 1905.5 1339.3 1907 1339.3 1908.6 1339.3 1910.2 1339.3 1911.7 1339.3 1913.3 1339.3 1914.9 1339.3 1916.5 1339.3 1918 1339.3 1919.6 1339.3 1921.2 1339.3 1922.7 1339.3 1924.3 1339.3 1925.9 1339.3 1927.5 1339.3 1929 1339.3 1930.6 1339.3 1932.2 1339.3 1933.7 1339.3 1935.3 1339.2 1936.9 1339.2 1938.4 1339.2 1940 1339.2 1941.6 1339.2 1943.2 1339.2 1944.7 1339.2 1946.3 1339.2 1947.9 1339.2 1949.4 1339.2 1951 1339.2 1952.6 1339.2 1954.2 1339.2 1955.7 1339.2 1957.3 1339.1 1958.9 1339.1 1960.4 1339.1 1962 1339.1 1963.6 1339.1 1965.1 1339.1 1966.7 1339.1 1968.3 1339.1 1969.9 1339.1 1971.4 1339.1 1973 1339.1 1974.6 1339.1 1976.1 1339.1 1977.7 1339 1979.3 1339 1980.9 1339 1982.4 1339 1984 1339 1985.6 1339 1987.1 1339 1988.7 1339 1990.3 1339 1991.8 1339 1993.4 1339 1995 1339 1996.6 1338.9 1998.1 1338.9 1999.7 1338.9 2001.3 1338.9 2002.8 1338.9 2004.4 1338.9 2006 1338.9 2007.6 1338.9 2009.1 1338.9 2010.7 1338.9 2012.3 1338.9 2013.8 1338.9 2015.4 1338.9 2017 1338.9 2018.5 1338.8 2020.1 1338.8 2021.7 1338.8 2023.3 1338.8 2024.8 1338.8 2026.4 1338.8 2028 1338.8 2029.5 1338.8 2031.1 1338.8 2032.7 1338.8 2034.3 1338.8 2035.8 1338.8 2037.4 1338.8 2039 1338.8 2040.5 1338.8 2042.1 1338.8 2043.7 1338.8 2045.3 1338.8 2046.8 1338.8 2048.4 1338.8 2050 1338.8 2051.5 1338.7 2053.1 1338.7 2054.7 1338.7 2056.3 1338.7 2057.8 1338.7 2059.4 1338.7 2061 1338.7 2062.5 1338.7 2064.1 1338.7 2065.7 1338.7 2067.3 1338.7 2068.8 1338.7 2070.4 1338.7 2072 1338.7 2073.5 1338.7 2075.1 1338.7 2076.7 1338.7 2078.3 1338.7 2079.8 1338.7 2081.4 1338.8 2083 1338.8 2084.5 1338.8 2086.1 1338.8 2087.7 1338.8 2089.3 1338.8 2090.8 1338.8 2092.4 1338.8 2094 1338.8 2095.6 1338.8 2097.1 1338.8 2098.7 1338.8 2100.3 1338.8 2101.8 1338.8 2103.4 1338.8 2105 1338.8 2106.6 1338.9 2108.1 1338.9 2109.7 1338.9 2111.3 1338.9 2112.9 1338.9 2114.4 1338.9 2116 1338.9 2117.6 1338.9 2119.1 1338.9 2120.7 1339 2122.3 1339 2123.9 1339 2125.4 1339 2127 1339 2127.8 1339" stroke="#000000"/></g><g fill="none" stroke="#000" stroke-width="3"><rect x="1327.8" y="1016" width="801" height="649"/><path d="M1308.3 1665H1327.8M1308.3 1556.8H1327.8M1308.3 1448.7H1327.8M1308.3 1340.5H1327.8M1308.3 1232.3H1327.8M1308.3 1124.2H1327.8M1308.3 1016H1327.8M1327.8 1665V1684M1691.8 1665V1684M2055.9 1665V1684"/></g><g font-size="51"><text x="1276.3" y="1682.5" text-anchor="end" textLength="100.8" lengthAdjust="spacingAndGlyphs">-135</text><text x="1276.3" y="1574.3" text-anchor="end" textLength="73.4" lengthAdjust="spacingAndGlyphs">-90</text><text x="1276.3" y="1466.2" text-anchor="end" textLength="73.4" lengthAdjust="spacingAndGlyphs">-45</text><text x="1276.3" y="1358" text-anchor="end" textLength="27.4" lengthAdjust="spacingAndGlyphs">0</text><text x="1276.3" y="1249.8" text-anchor="end" textLength="54.8" lengthAdjust="spacingAndGlyphs">45</text><text x="1276.3" y="1141.7" text-anchor="end" textLength="54.8" lengthAdjust="spacingAndGlyphs">90</text><text x="1276.3" y="1033.5" text-anchor="end" textLength="82.2" lengthAdjust="spacingAndGlyphs">135</text><text x="1328.8" y="1758.9" text-anchor="middle" textLength="82.2" lengthAdjust="spacingAndGlyphs">190</text><text x="1692.8" y="1758.9" text-anchor="middle" textLength="82.2" lengthAdjust="spacingAndGlyphs">240</text><text x="2056.9" y="1758.9" text-anchor="middle" textLength="82.2" lengthAdjust="spacingAndGlyphs">290</text></g><text class="b" x="1497.6" y="1809.3" font-size="58" textLength="453.9" lengthAdjust="spacingAndGlyphs">Wavelength (nm)</text><text class="b" transform="translate(1174.4 1501.1) rotate(-90)" font-size="57" textLength="277" lengthAdjust="spacingAndGlyphs">CD (mdeg)</text><g stroke-width="5.6"><path d="M1860.7 1056.5H1941.8" stroke="#ff0000"/><path d="M1860.7 1134.9H1941.8" stroke="#000"/></g><g font-size="38.3"><text x="1949" y="1067.5" textLength="153.1" lengthAdjust="spacingAndGlyphs">2D_Gd-L</text><text x="1949" y="1146.6" textLength="159.3" lengthAdjust="spacingAndGlyphs">2D_Gd-D</text></g></g>
<g><g fill="none" stroke-width="5.5" stroke-linejoin="round" stroke-linecap="butt"><path d="M251.1 2360.8L250.9 2362.5 250.8 2364.1 250.8 2365.8 250.9 2367.4 251 2369 251.1 2370.7 251.3 2372.3 251.5 2373.8 251.8 2375.3 252.1 2376.9 252.4 2378.5 252.8 2380.1 253.2 2381.6 253.7 2383.2 254.3 2384.7 254.9 2386.3 255.5 2387.8 256.2 2389.2 256.9 2390.6 257.7 2392 258.5 2393.2 259.5 2394.7 260.6 2396 261.7 2397.2 262.8 2398.3 264 2399.3 265.4 2400.2 266.9 2400.9 268.4 2401.5 269.9 2401.8 271.5 2401.9 273 2401.8 274.6 2401.6 276.1 2401.1 277.6 2400.5 279 2399.6 280.3 2398.8 281.5 2397.8 282.7 2396.7 283.9 2395.5 285 2394.3 286.1 2393 287.2 2391.6 288.2 2390.2 289.2 2388.8 290.2 2387.4 291.2 2386 292.1 2384.6 293 2383.1 293.9 2381.7 294.7 2380.2 295.6 2378.8 296.4 2377.3 297.2 2375.8 297.9 2374.3 298.7 2372.8 299.4 2371.3 300.1 2369.8 300.8 2368.3 301.5 2366.8 302.2 2365.2 302.8 2363.7 303.4 2362.1 304 2360.6 304.6 2359 305.2 2357.5 305.8 2355.9 306.4 2354.4 306.9 2352.8 307.5 2351.2 308 2349.6 308.5 2348.1 309 2346.5 309.6 2344.9 310.1 2343.3 310.6 2341.7 311.1 2340.1 311.6 2338.5 312.1 2337 312.5 2335.4 313 2333.8 313.5 2332.2 314 2330.6 314.5 2329 315 2327.4 315.5 2325.8 316 2324.3 316.5 2322.7 317 2321.1 317.5 2319.5 318 2317.9 318.5 2316.4 319.1 2314.8 319.6 2313.2 320.1 2311.7 320.7 2310.1 321.3 2308.6 321.8 2307 322.4 2305.5 323 2304 323.7 2302.4 324.3 2300.9 324.9 2299.4 325.6 2297.9 326.3 2296.4 327 2294.9 327.7 2293.4 328.4 2291.9 329.2 2290.4 330 2289 330.7 2287.5 331.5 2286.1 332.3 2284.6 333.2 2283.2 334 2281.7 334.8 2280.3 335.7 2278.9 336.6 2277.4 337.4 2276 338.3 2274.6 339.2 2273.2 340.1 2271.8 341 2270.4 341.9 2268.9 342.7 2267.5 343.6 2266.1 344.6 2264.7 345.5 2263.3 346.4 2261.9 347.3 2260.5 348.2 2259.1 349.1 2257.7 349.9 2256.3 350.8 2254.9 351.7 2253.5 352.6 2252.1 353.5 2250.7 354.4 2249.3 355.4 2247.9 356.3 2246.5 357.3 2245.2 358.2 2243.9 359.2 2242.6 360.3 2241.3 361.3 2240.1 362.4 2238.8 363.5 2237.6 364.7 2236.5 365.9 2235.3 367.1 2234.2 368.3 2233.1 369.5 2232 370.8 2230.9 372 2229.8 373.3 2228.8 374.6 2227.7 375.8 2226.7 377.1 2225.6 378.4 2224.6 379.7 2223.5 381 2222.5 382.3 2221.4 383.6 2220.4 384.9 2219.4 386.2 2218.3 387.5 2217.3 388.8 2216.3 390.2 2215.3 391.5 2214.3 392.8 2213.4 394.2 2212.4 395.5 2211.5 396.9 2210.5 398.3 2209.6 399.7 2208.7 401.1 2207.9 402.5 2207 403.9 2206.2 405.3 2205.4 406.7 2204.6 408.2 2203.8 409.7 2203.1 411.1 2202.4 412.6 2201.7 414.1 2201 415.6 2200.4 417.2 2199.8 418.7 2199.2 420.3 2198.7 421.9 2198.2 423.5 2197.8 425.1 2197.3 426.7 2196.9 428.4 2196.6 430 2196.2 431.7 2195.9 433.3 2195.7 435 2195.5 436.7 2195.3 438.3 2195.1 440 2195 441.7 2194.9 443.4 2194.9 445 2194.9 446.7 2194.9 448.4 2194.9 450.1 2195 451.7 2195.2 453.4 2195.3 455 2195.6 456.7 2195.8 458.3 2196.1 459.9 2196.4 461.5 2196.8 463.1 2197.1 464.7 2197.6 466.3 2198 467.9 2198.5 469.5 2199 471 2199.5 472.6 2200 474.2 2200.6 475.7 2201.2 477.3 2201.8 478.8 2202.4 480.4 2203 481.9 2203.6 483.5 2204.3 485 2204.9 486.5 2205.6 488.1 2206.2 489.6 2206.9 491.1 2207.6 492.7 2208.3 494.2 2208.9 495.7 2209.6 497.3 2210.3 498.8 2210.9 500.4 2211.6 501.9 2212.2 503.5 2212.8 505 2213.5 506.6 2214.1 508.1 2214.6 509.7 2215.2 511.3 2215.8 512.8 2216.3 514.4 2216.8 516 2217.4 517.6 2217.9 519.2 2218.3 520.8 2218.8 522.4 2219.3 524 2219.7 525.6 2220.2 527.2 2220.6 528.8 2221 530.4 2221.4 532 2221.8 533.6 2222.2 535.2 2222.6 536.8 2222.9 538.5 2223.3 540.1 2223.6 541.7 2224 543.3 2224.3 545 2224.6 546.6 2224.9 548.2 2225.2 549.8 2225.5 551.5 2225.8 553.1 2226.1 554.7 2226.4 556.4 2226.6 558 2226.9 559.7 2227.2 561.3 2227.4 562.9 2227.7 564.6 2227.9 566.2 2228.1 567.8 2228.4 569.5 2228.6 571.1 2228.8 572.8 2229 574.4 2229.2 576.1 2229.4 577.7 2229.6 579.3 2229.8 581 2230 582.6 2230.2 584.3 2230.4 585.9 2230.6 587.6 2230.7 589.2 2230.9 590.9 2231 592.5 2231.2 594.2 2231.4 595.8 2231.5 597.5 2231.6 599.1 2231.8 600.8 2231.9 602.4 2232 604.1 2232.2 605.7 2232.3 607.4 2232.4 609 2232.5 610.7 2232.6 612.3 2232.7 614 2232.8 615.6 2232.9 617.3 2233 619 2233.1 620.6 2233.2 622.3 2233.3 623.9 2233.3 625.6 2233.4 627.2 2233.5 628.9 2233.5 630.6 2233.6 632.2 2233.7 633.9 2233.7 635.5 2233.8 637.2 2233.8 638.8 2233.9 640.5 2233.9 642.2 2233.9 643.8 2234 645.5 2234 647.2 2234.1 648.8 2234.1 650.5 2234.1 652.1 2234.1 653.8 2234.2 655.5 2234.2 657.1 2234.2 658.8 2234.2 660.5 2234.2 662.1 2234.2 663.8 2234.2 665.4 2234.2 667.1 2234.2 668.8 2234.2 670.4 2234.2 672.1 2234.2 673.8 2234.2 675.4 2234.2 677.1 2234.2 678.8 2234.2 680.4 2234.2 682.1 2234.2 683.8 2234.2 685.4 2234.1 687.1 2234.1 688.8 2234.1 690.4 2234.1 692.1 2234.1 693.8 2234 695.4 2234 697.1 2234 698.8 2234 700.4 2233.9 702.1 2233.9 703.8 2233.9 705.5 2233.8 707.1 2233.8 708.8 2233.8 710.5 2233.7 712.1 2233.7 713.8 2233.7 715.5 2233.6 717.1 2233.6 718.8 2233.6 720.5 2233.5 722.1 2233.5 723.8 2233.4 725.5 2233.4 727.1 2233.4 728.8 2233.3 730.5 2233.3 732.1 2233.3 733.8 2233.2 735.5 2233.2 737.2 2233.1 738.8 2233.1 740.5 2233.1 742.2 2233 743.8 2233 745.5 2233 747.2 2232.9 748.8 2232.9 750.5 2232.8 752.2 2232.8 753.8 2232.8 755.5 2232.8 757.2 2232.7 758.8 2232.7 760.5 2232.7 762.2 2232.6 763.8 2232.6 765.5 2232.6 767.2 2232.6 768.8 2232.5 770.5 2232.5 772.2 2232.5 773.8 2232.5 775.5 2232.4 777.2 2232.4 778.8 2232.4 780.5 2232.4 782.2 2232.4 783.8 2232.3 785.5 2232.3 787.2 2232.3 788.8 2232.3 790.5 2232.3 792.2 2232.3 793.8 2232.3 795.5 2232.3 797.2 2232.2 798.8 2232.2 800.5 2232.2 802.1 2232.2 803.8 2232.2 805.5 2232.2 807.1 2232.2 808.8 2232.2 810.5 2232.2 812.1 2232.2 813.8 2232.2 815.5 2232.2 817.1 2232.2 818.8 2232.2 820.4 2232.2 822.1 2232.2 823.8 2232.2 825.4 2232.2 827.1 2232.2 828.8 2232.2 830.4 2232.2 832.1 2232.2 833.7 2232.2 835.4 2232.2 837.1 2232.2 838.7 2232.2 840.4 2232.2 842.1 2232.2 843.7 2232.2 845.4 2232.2 847 2232.2 848.7 2232.2 850.4 2232.2 852 2232.2 853.7 2232.3 855.4 2232.3 857 2232.3 858.7 2232.3 860.3 2232.3 862 2232.3 863.7 2232.3 865.3 2232.3 867 2232.3 868.6 2232.3 870.3 2232.4 872 2232.4 873.6 2232.4 875.3 2232.4 877 2232.4 878.6 2232.4 880.3 2232.4 881.9 2232.4 883.6 2232.5 885.3 2232.5 886.9 2232.5 888.6 2232.5 890.2 2232.5 891.9 2232.5 893.6 2232.5 895.2 2232.6 896.9 2232.6 898.6 2232.6 900.2 2232.6 901.9 2232.6 903.5 2232.6 905.2 2232.6 906.9 2232.7 908.5 2232.7 910.2 2232.7 911.8 2232.7 913.5 2232.7 915.2 2232.7 916.8 2232.7 918.5 2232.8 920.1 2232.8 921.8 2232.8 923.5 2232.8 925.1 2232.8 926.8 2232.8 928.5 2232.8 930.1 2232.8 931.8 2232.9 933.4 2232.9 935.1 2232.9 936.8 2232.9 938.4 2232.9 940.1 2232.9 941.7 2232.9 943.4 2232.9 945.1 2233 946.7 2233 948.4 2233 950.1 2233 951.7 2233 953.4 2233 955 2233 956.7 2233 958.4 2233 960 2233 961.7 2233.1 963.3 2233.1 965 2233.1 966.7 2233.1 968.3 2233.1 970 2233.1 971.7 2233.1 973.3 2233.1 975 2233.1 976.6 2233.1 978.3 2233.1 980 2233.1 981.6 2233.1 983.3 2233.1 985 2233.1 986.6 2233.1 988.3 2233.1 989.9 2233.1 991.6 2233.1 993.3 2233.1 994.9 2233.1 996.6 2233.1 998.3 2233.1 999.9 2233.1 1001.6 2233.1 1003.3 2233.1 1004.9 2233.1 1006.6 2233.1 1008.2 2233.1 1009.9 2233.1 1011.6 2233.1 1013.2 2233.1 1014.9 2233.1 1016.6 2233.1 1018.2 2233 1019.9 2233 1021.6 2233 1023.2 2233 1024.9 2233 1026.6 2233 1028.2 2233 1029.9 2232.9 1031.6 2232.9 1033.2 2232.9 1034.9 2232.9 1036.6 2232.9 1038.2 2232.8 1039.9 2232.8 1041.6 2232.8 1043.2 2232.8 1044.9 2232.8 1046.6 2232.7 1048.2 2232.7 1049.9 2232.7 1050.6 2232.7" stroke="#ff0000"/><path d="M251.1 2045.9L251.2 2044.3 251.3 2042.6 251.4 2041 251.5 2039.3 251.7 2037.7 251.8 2036 252 2034.3 252.1 2032.7 252.3 2031 252.4 2029.3 252.6 2027.7 252.8 2026 252.9 2024.3 253.1 2022.6 253.3 2021 253.5 2019.3 253.6 2017.6 253.8 2015.9 254 2014.3 254.2 2012.6 254.4 2010.9 254.5 2009.2 254.7 2007.5 254.9 2005.9 255.1 2004.2 255.2 2002.5 255.4 2000.8 255.6 1999.1 255.7 1997.5 255.9 1995.8 256 1994.1 256.2 1992.4 256.3 1990.8 256.4 1989.1 256.6 1987.4 256.7 1985.8 256.8 1984.1 256.9 1982.4 257 1980.8 257 1979.1 257.1 1977.4 257.2 1975.8 257.2 1974.1 257.3 1972.5 257.3 1970.8 257.4 1969.2 257.4 1967.5 257.5 1965.8 257.6 1964.2 257.7 1962.5 257.8 1960.9 257.9 1959.2 258.1 1957.6 258.3 1955.9 258.5 1954.2 258.8 1952.5 259 1950.9 259.4 1949.2 259.7 1947.5 260.2 1945.8 260.6 1944.1 261.1 1942.4 261.6 1941 262.1 1939.5 262.7 1938.1 263.3 1936.7 264 1935.4 265 1933.9 266 1932.6 267.3 1931.4 268.7 1930.4 270.2 1929.6 271.8 1929 273.3 1928.8 274.9 1928.8 276.6 1929.2 278 1930.1 279.1 1931.2 280 1932.5 280.9 1934 281.5 1935.4 282.1 1936.9 282.6 1938.5 283.2 1940.2 283.7 1941.9 284.1 1943.5 284.6 1945.2 285.1 1946.9 285.6 1948.6 286.1 1950.2 286.5 1951.9 287 1953.6 287.4 1955.2 287.9 1956.9 288.3 1958.5 288.8 1960.2 289.2 1961.9 289.7 1963.5 290.1 1965.2 290.5 1966.8 291 1968.5 291.4 1970.1 291.8 1971.8 292.2 1973.4 292.6 1975 293 1976.7 293.4 1978.3 293.8 1980 294.2 1981.6 294.6 1983.2 295 1984.9 295.4 1986.5 295.8 1988.1 296.2 1989.8 296.6 1991.4 297 1993 297.3 1994.6 297.7 1996.3 298.1 1997.9 298.5 1999.5 298.8 2001.2 299.2 2002.8 299.6 2004.4 299.9 2006 300.3 2007.7 300.7 2009.3 301 2010.9 301.4 2012.5 301.7 2014.1 302.1 2015.8 302.4 2017.4 302.8 2019 303.2 2020.6 303.5 2022.3 303.9 2023.9 304.2 2025.5 304.6 2027.1 304.9 2028.7 305.3 2030.4 305.6 2032 306 2033.6 306.3 2035.2 306.7 2036.9 307 2038.5 307.4 2040.1 307.7 2041.7 308.1 2043.4 308.4 2045 308.8 2046.6 309.1 2048.3 309.5 2049.9 309.8 2051.5 310.2 2053.2 310.5 2054.8 310.9 2056.4 311.2 2058.1 311.6 2059.7 311.9 2061.3 312.3 2063 312.7 2064.6 313 2066.3 313.4 2067.9 313.7 2069.5 314.1 2071.2 314.5 2072.8 314.9 2074.5 315.2 2076.1 315.6 2077.8 316 2079.4 316.4 2081.1 316.7 2082.8 317.1 2084.4 317.5 2086.1 317.9 2087.7 318.3 2089.4 318.7 2091 319.1 2092.7 319.5 2094.3 320 2096 320.4 2097.6 320.8 2099.3 321.3 2100.9 321.7 2102.5 322.2 2104.2 322.7 2105.8 323.2 2107.4 323.6 2109.1 324.1 2110.7 324.7 2112.3 325.2 2113.9 325.7 2115.5 326.2 2117.1 326.8 2118.7 327.4 2120.2 328 2121.8 328.5 2123.4 329.2 2124.9 329.8 2126.5 330.4 2128 331.1 2129.5 331.7 2131.1 332.4 2132.6 333.1 2134.1 333.8 2135.6 334.5 2137.1 335.3 2138.5 336 2140 336.8 2141.5 337.5 2142.9 338.3 2144.4 339.1 2145.8 339.9 2147.3 340.7 2148.7 341.5 2150.1 342.4 2151.6 343.2 2153 344.1 2154.4 344.9 2155.8 345.8 2157.2 346.7 2158.6 347.5 2160 348.4 2161.4 349.3 2162.8 350.2 2164.2 351.1 2165.6 352 2167 352.9 2168.4 353.8 2169.8 354.8 2171.2 355.7 2172.6 356.6 2174 357.5 2175.4 358.5 2176.8 359.4 2178.2 360.3 2179.6 361.3 2181 362.2 2182.4 363.2 2183.8 364.1 2185.1 365.1 2186.5 366 2187.9 367 2189.3 368 2190.7 369 2192 370 2193.4 370.9 2194.8 371.9 2196.1 373 2197.5 374 2198.8 375 2200.1 376 2201.5 377.1 2202.8 378.1 2204.1 379.2 2205.4 380.2 2206.7 381.3 2208 382.4 2209.3 383.5 2210.6 384.6 2211.9 385.7 2213.1 386.8 2214.4 387.9 2215.6 389 2216.8 390.2 2218.1 391.3 2219.3 392.5 2220.5 393.7 2221.6 394.9 2222.8 396.1 2224 397.3 2225.1 398.5 2226.2 399.8 2227.4 401 2228.5 402.3 2229.6 403.5 2230.6 404.8 2231.7 406.1 2232.8 407.5 2233.8 408.8 2234.8 410.1 2235.8 411.5 2236.8 412.9 2237.8 414.2 2238.7 415.6 2239.6 417.1 2240.6 418.5 2241.5 419.9 2242.3 421.4 2243.2 422.9 2244 424.3 2244.8 425.8 2245.6 427.3 2246.4 428.8 2247.1 430.4 2247.9 431.9 2248.5 433.5 2249.2 435 2249.8 436.6 2250.5 438.1 2251 439.7 2251.6 441.3 2252.1 442.9 2252.6 444.5 2253 446.1 2253.4 447.7 2253.8 449.3 2254.2 450.9 2254.5 452.6 2254.7 454.2 2255 455.8 2255.2 457.4 2255.3 459.1 2255.4 460.7 2255.5 462.3 2255.6 464 2255.5 465.6 2255.5 467.3 2255.4 468.9 2255.3 470.5 2255.1 472.2 2255 473.8 2254.8 475.5 2254.5 477.1 2254.2 478.7 2254 480.4 2253.6 482 2253.3 483.7 2252.9 485.3 2252.6 487 2252.2 488.6 2251.8 490.3 2251.4 491.9 2250.9 493.6 2250.5 495.2 2250.1 496.9 2249.6 498.5 2249.2 500.2 2248.7 501.8 2248.3 503.5 2247.8 505.1 2247.4 506.8 2246.9 508.4 2246.5 510.1 2246.1 511.7 2245.7 513.4 2245.3 515 2244.9 516.7 2244.5 518.3 2244.1 520 2243.8 521.6 2243.4 523.3 2243.1 525 2242.8 526.6 2242.5 528.3 2242.2 529.9 2241.9 531.6 2241.6 533.2 2241.4 534.9 2241.1 536.5 2240.9 538.2 2240.7 539.8 2240.4 541.5 2240.2 543.1 2240 544.8 2239.8 546.4 2239.6 548.1 2239.5 549.8 2239.3 551.4 2239.1 553.1 2239 554.7 2238.8 556.4 2238.7 558 2238.6 559.7 2238.4 561.3 2238.3 563 2238.2 564.7 2238.1 566.3 2238 568 2237.9 569.6 2237.8 571.3 2237.7 573 2237.6 574.6 2237.6 576.3 2237.5 577.9 2237.4 579.6 2237.3 581.3 2237.3 582.9 2237.2 584.6 2237.2 586.2 2237.1 587.9 2237.1 589.6 2237 591.2 2237 592.9 2236.9 594.6 2236.9 596.2 2236.8 597.9 2236.8 599.6 2236.7 601.2 2236.7 602.9 2236.7 604.6 2236.6 606.2 2236.6 607.9 2236.6 609.6 2236.5 611.2 2236.5 612.9 2236.5 614.6 2236.5 616.2 2236.4 617.9 2236.4 619.6 2236.4 621.3 2236.4 622.9 2236.4 624.6 2236.4 626.3 2236.3 627.9 2236.3 629.6 2236.3 631.3 2236.3 633 2236.3 634.6 2236.3 636.3 2236.3 638 2236.3 639.7 2236.3 641.3 2236.3 643 2236.3 644.7 2236.3 646.4 2236.3 648 2236.3 649.7 2236.3 651.4 2236.3 653.1 2236.3 654.8 2236.3 656.4 2236.3 658.1 2236.3 659.8 2236.3 661.5 2236.3 663.1 2236.3 664.8 2236.3 666.5 2236.3 668.2 2236.3 669.9 2236.3 671.5 2236.3 673.2 2236.3 674.9 2236.4 676.6 2236.4 678.3 2236.4 679.9 2236.4 681.6 2236.4 683.3 2236.4 685 2236.4 686.7 2236.5 688.3 2236.5 690 2236.5 691.7 2236.5 693.4 2236.5 695.1 2236.5 696.7 2236.6 698.4 2236.6 700.1 2236.6 701.8 2236.6 703.5 2236.6 705.1 2236.7 706.8 2236.7 708.5 2236.7 710.2 2236.7 711.9 2236.7 713.6 2236.7 715.2 2236.8 716.9 2236.8 718.6 2236.8 720.3 2236.8 722 2236.8 723.6 2236.9 725.3 2236.9 727 2236.9 728.7 2236.9 730.4 2236.9 732 2236.9 733.7 2237 735.4 2237 737.1 2237 738.8 2237 740.4 2237 742.1 2237 743.8 2237 745.5 2237.1 747.2 2237.1 748.8 2237.1 750.5 2237.1 752.2 2237.1 753.9 2237.1 755.6 2237.1 757.2 2237.1 758.9 2237.2 760.6 2237.2 762.3 2237.2 764 2237.2 765.6 2237.2 767.3 2237.2 769 2237.2 770.7 2237.2 772.3 2237.2 774 2237.2 775.7 2237.2 777.4 2237.2 779.1 2237.3 780.7 2237.3 782.4 2237.3 784.1 2237.3 785.8 2237.3 787.5 2237.3 789.1 2237.3 790.8 2237.3 792.5 2237.3 794.2 2237.3 795.8 2237.3 797.5 2237.3 799.2 2237.3 800.9 2237.3 802.5 2237.3 804.2 2237.3 805.9 2237.3 807.6 2237.3 809.3 2237.3 810.9 2237.3 812.6 2237.3 814.3 2237.3 816 2237.3 817.6 2237.3 819.3 2237.3 821 2237.3 822.7 2237.3 824.3 2237.3 826 2237.3 827.7 2237.3 829.4 2237.3 831 2237.3 832.7 2237.3 834.4 2237.3 836.1 2237.3 837.7 2237.3 839.4 2237.3 841.1 2237.3 842.8 2237.3 844.5 2237.3 846.1 2237.3 847.8 2237.3 849.5 2237.3 851.2 2237.3 852.8 2237.3 854.5 2237.3 856.2 2237.3 857.9 2237.3 859.5 2237.3 861.2 2237.3 862.9 2237.2 864.6 2237.2 866.2 2237.2 867.9 2237.2 869.6 2237.2 871.3 2237.2 872.9 2237.2 874.6 2237.2 876.3 2237.2 878 2237.2 879.6 2237.2 881.3 2237.2 883 2237.2 884.7 2237.2 886.3 2237.2 888 2237.2 889.7 2237.2 891.4 2237.2 893 2237.2 894.7 2237.1 896.4 2237.1 898.1 2237.1 899.7 2237.1 901.4 2237.1 903.1 2237.1 904.8 2237.1 906.4 2237.1 908.1 2237.1 909.8 2237.1 911.5 2237.1 913.1 2237.1 914.8 2237.1 916.5 2237.1 918.2 2237.1 919.8 2237.1 921.5 2237.1 923.2 2237.1 924.9 2237 926.5 2237 928.2 2237 929.9 2237 931.6 2237 933.2 2237 934.9 2237 936.6 2237 938.3 2237 939.9 2237 941.6 2237 943.3 2237 945 2237 946.6 2237 948.3 2237 950 2237 951.7 2237 953.3 2237 955 2237 956.7 2237 958.4 2237 960 2237 961.7 2236.9 963.4 2236.9 965.1 2236.9 966.7 2236.9 968.4 2236.9 970.1 2236.9 971.8 2236.9 973.4 2236.9 975.1 2236.9 976.8 2236.9 978.5 2236.9 980.1 2236.9 981.8 2236.9 983.5 2236.9 985.2 2236.9 986.8 2236.9 988.5 2236.9 990.2 2236.9 991.9 2236.9 993.6 2236.9 995.2 2236.9 996.9 2236.9 998.6 2236.9 1000.3 2236.9 1001.9 2236.9 1003.6 2236.9 1005.3 2236.9 1007 2236.9 1008.6 2236.9 1010.3 2236.9 1012 2236.9 1013.7 2237 1015.4 2237 1017 2237 1018.7 2237 1020.4 2237 1022.1 2237 1023.7 2237 1025.4 2237 1027.1 2237 1028.8 2237 1030.5 2237 1032.1 2237 1033.8 2237 1035.5 2237 1037.2 2237 1038.9 2237 1040.5 2237.1 1042.2 2237.1 1043.9 2237.1 1045.6 2237.1 1047.2 2237.1 1048.9 2237.1 1050.6 2237.1 1050.6 2237.1" stroke="#000000"/></g><g fill="none" stroke="#000" stroke-width="3"><rect x="250.6" y="1908.3" width="801" height="649.2"/><path d="M231.1 2557.5H250.6M231.1 2449.3H250.6M231.1 2341.1H250.6M231.1 2232.9H250.6M231.1 2124.7H250.6M231.1 2016.5H250.6M231.1 1908.3H250.6M250.6 2557.5V2576.5M614.7 2557.5V2576.5M978.8 2557.5V2576.5"/></g><g font-size="51"><text x="198.7" y="2575" text-anchor="end" textLength="100.8" lengthAdjust="spacingAndGlyphs">-135</text><text x="198.7" y="2466.8" text-anchor="end" textLength="73.4" lengthAdjust="spacingAndGlyphs">-90</text><text x="198.7" y="2358.6" text-anchor="end" textLength="73.4" lengthAdjust="spacingAndGlyphs">-45</text><text x="198.7" y="2250.4" text-anchor="end" textLength="27.4" lengthAdjust="spacingAndGlyphs">0</text><text x="198.7" y="2142.2" text-anchor="end" textLength="54.8" lengthAdjust="spacingAndGlyphs">45</text><text x="198.7" y="2034" text-anchor="end" textLength="54.8" lengthAdjust="spacingAndGlyphs">90</text><text x="198.7" y="1925.8" text-anchor="end" textLength="82.2" lengthAdjust="spacingAndGlyphs">135</text><text x="251.6" y="2650.3" text-anchor="middle" textLength="82.2" lengthAdjust="spacingAndGlyphs">190</text><text x="615.7" y="2650.3" text-anchor="middle" textLength="82.2" lengthAdjust="spacingAndGlyphs">240</text><text x="979.8" y="2650.3" text-anchor="middle" textLength="82.2" lengthAdjust="spacingAndGlyphs">290</text></g><text class="b" x="421.3" y="2716.9" font-size="58" textLength="456.1" lengthAdjust="spacingAndGlyphs">Wavelength (nm)</text><text class="b" transform="translate(90.9 2390.1) rotate(-90)" font-size="57" textLength="276" lengthAdjust="spacingAndGlyphs">CD (mdeg)</text><g stroke-width="5.6"><path d="M789.2 1949H874" stroke="#ff0000"/><path d="M789.2 2028.1H874" stroke="#000"/></g><g font-size="38.3"><text x="877.8" y="1963.1" textLength="146.8" lengthAdjust="spacingAndGlyphs">2D_Tb-L</text><text x="877.8" y="2042.7" textLength="153" lengthAdjust="spacingAndGlyphs">2D_Tb-D</text></g></g>
<g><g fill="none" stroke-width="5.5" stroke-linejoin="round" stroke-linecap="butt"><path d="M1325.2 2190.8L1325.1 2188.9 1325.1 2187.2 1325.1 2185.7 1325.1 2183.6 1325.2 2181.9 1325.4 2180 1325.8 2178.4 1326.6 2177.1 1328 2177.8 1329 2179.1 1329.8 2180.5 1330.6 2182 1331.3 2183.6 1332 2185.2 1332.5 2186.7 1332.9 2188.1 1333.3 2189.6 1333.7 2191.2 1334.1 2192.8 1334.4 2194.4 1334.7 2196 1335 2197.7 1335.2 2199.4 1335.4 2201.2 1335.6 2202.9 1335.8 2204.7 1335.9 2206.5 1336 2208 1336.1 2209.5 1336.2 2211 1336.3 2212.5 1336.4 2214.1 1336.5 2215.6 1336.5 2217.2 1336.6 2218.7 1336.6 2220.3 1336.7 2221.8 1336.7 2223.4 1336.8 2225 1336.8 2226.5 1336.9 2228.1 1336.9 2229.6 1337 2231.2 1337 2232.7 1337.1 2234.3 1337.2 2235.8 1337.2 2237.3 1337.3 2238.9 1337.4 2240.4 1337.5 2241.9 1337.6 2243.4 1337.6 2245 1337.7 2246.5 1337.8 2248 1337.9 2249.5 1338 2251 1338.1 2252.5 1338.2 2254 1338.3 2255.8 1338.4 2257.6 1338.6 2259.4 1338.7 2261.1 1338.8 2262.9 1339 2264.7 1339.1 2266.5 1339.2 2268.2 1339.4 2270 1339.5 2271.8 1339.7 2273.5 1339.8 2275.3 1340 2277.1 1340.1 2278.8 1340.3 2280.6 1340.5 2282.3 1340.6 2284.1 1340.8 2285.8 1340.9 2287.6 1341.1 2289.3 1341.3 2291 1341.4 2292.8 1341.6 2294.5 1341.8 2296.3 1342 2298 1342.1 2299.7 1342.3 2301.5 1342.5 2303.2 1342.6 2304.9 1342.8 2306.7 1343 2308.4 1343.2 2310.1 1343.3 2311.9 1343.5 2313.6 1343.7 2315.3 1343.9 2317.1 1344.1 2318.8 1344.2 2320.5 1344.4 2322.3 1344.6 2324 1344.8 2325.8 1344.9 2327.5 1345.1 2329.2 1345.3 2331 1345.4 2332.7 1345.6 2334.5 1345.8 2336.2 1346 2338 1346.1 2339.7 1346.3 2341.5 1346.4 2343.2 1346.6 2345 1346.8 2346.7 1346.9 2348.5 1347.1 2350.3 1347.2 2352 1347.4 2353.8 1347.6 2355.6 1347.7 2357.3 1347.8 2359.1 1348 2360.9 1348.1 2362.7 1348.3 2364.5 1348.4 2366.3 1348.5 2367.8 1348.6 2369.3 1348.7 2370.8 1348.9 2372.3 1349 2373.8 1349.1 2375.3 1349.2 2376.8 1349.3 2378.3 1349.4 2379.8 1349.5 2381.4 1349.6 2382.9 1349.8 2384.4 1349.9 2385.9 1350 2387.4 1350.2 2388.9 1350.4 2390.4 1350.5 2391.9 1350.7 2393.4 1350.9 2394.9 1351.1 2396.4 1351.3 2397.9 1351.5 2399.4 1351.7 2400.9 1352 2402.4 1352.2 2403.9 1352.5 2405.4 1352.9 2407.1 1353.3 2408.9 1353.7 2410.6 1354.1 2412.4 1354.6 2414.1 1355.1 2415.8 1355.6 2417.5 1356.1 2419.2 1356.7 2420.9 1357.3 2422.6 1358 2424.2 1358.7 2425.9 1359.4 2427.4 1360.2 2428.8 1361.2 2430.1 1362.4 2431 1364 2431.2 1365.4 2430.5 1366.7 2429.5 1367.8 2428.4 1368.9 2427.2 1369.9 2425.8 1370.8 2424.5 1371.8 2423 1372.6 2421.5 1373.5 2419.9 1374.3 2418.3 1374.9 2416.9 1375.5 2415.5 1376.1 2414.1 1376.6 2412.7 1377.2 2411.2 1377.7 2409.7 1378.2 2408.2 1378.7 2406.7 1379.2 2405.2 1379.6 2403.7 1380.1 2402.2 1380.5 2400.7 1380.9 2399.1 1381.3 2397.6 1381.7 2396.1 1382.1 2394.6 1382.5 2393.2 1382.8 2391.7 1383.2 2390.2 1383.6 2388.7 1383.9 2387.3 1384.3 2385.5 1384.8 2383.8 1385.2 2382.1 1385.6 2380.3 1386 2378.6 1386.4 2376.9 1386.7 2375.2 1387.1 2373.5 1387.5 2371.8 1387.9 2370.1 1388.3 2368.4 1388.7 2366.7 1389.1 2365 1389.5 2363.3 1389.9 2361.6 1390.4 2359.9 1390.8 2358.2 1391.2 2356.5 1391.7 2354.8 1392.1 2353.1 1392.6 2351.4 1393.1 2349.8 1393.6 2348.1 1394 2346.4 1394.5 2344.7 1395 2343 1395.6 2341.3 1396.1 2339.7 1396.6 2338 1397.2 2336.3 1397.7 2334.6 1398.3 2333 1398.8 2331.3 1399.4 2329.6 1400 2328 1400.6 2326.3 1401.2 2324.6 1401.8 2323 1402.4 2321.3 1403 2319.7 1403.7 2318 1404.3 2316.4 1405 2314.7 1405.6 2313.1 1406.3 2311.4 1407 2309.8 1407.7 2308.2 1408.4 2306.6 1409.1 2304.9 1409.8 2303.3 1410.6 2301.7 1411.3 2300.1 1412 2298.5 1412.8 2296.9 1413.6 2295.3 1414.3 2293.7 1415.1 2292.1 1415.9 2290.5 1416.7 2288.9 1417.5 2287.4 1418.4 2285.8 1419.2 2284.2 1420 2282.7 1420.9 2281.1 1421.8 2279.5 1422.6 2278 1423.5 2276.5 1424.4 2274.9 1425.3 2273.4 1426.2 2271.9 1427.1 2270.4 1428.1 2268.8 1429 2267.3 1430 2265.8 1430.9 2264.3 1431.9 2262.9 1432.9 2261.4 1433.9 2259.9 1434.9 2258.4 1435.9 2257 1436.9 2255.5 1437.9 2254.1 1439 2252.6 1440 2251.2 1441.1 2249.8 1442.2 2248.4 1443.3 2247 1444.4 2245.6 1445.5 2244.2 1446.6 2242.8 1447.8 2241.5 1449 2240.2 1450.1 2238.8 1451.4 2237.6 1452.6 2236.3 1453.8 2235 1455.1 2233.8 1456.4 2232.6 1457.7 2231.4 1459.1 2230.2 1460.4 2229.1 1461.8 2228 1463.2 2227 1464.6 2226 1466.1 2225 1467.5 2224.1 1469 2223.2 1470.5 2222.4 1472 2221.6 1473.6 2220.9 1475.1 2220.2 1476.7 2219.5 1478.3 2218.7 1479.8 2218 1481.4 2217.2 1482.9 2216.3 1484.2 2215.5 1485.5 2214.7 1486.8 2213.9 1488.1 2213 1489.3 2212.2 1490.6 2211.3 1491.9 2210.4 1493.2 2209.5 1494.5 2208.6 1495.8 2207.7 1497 2206.8 1498.4 2206 1499.7 2205.2 1501 2204.4 1502.3 2203.7 1503.9 2202.9 1505.5 2202.2 1507.1 2201.5 1508.8 2200.8 1510.4 2200.2 1512.1 2199.7 1513.8 2199.2 1515.4 2198.8 1517.1 2198.4 1518.8 2198.1 1520.5 2197.8 1522.2 2197.5 1523.9 2197.3 1525.6 2197.2 1527.4 2197 1529.1 2197 1530.8 2196.9 1532.6 2196.9 1534.3 2196.9 1536 2197 1537.8 2197.1 1539.5 2197.2 1541.3 2197.4 1543 2197.6 1544.8 2197.8 1546.5 2198 1548.3 2198.3 1550 2198.6 1551.8 2198.9 1553.5 2199.2 1555.2 2199.6 1557 2200 1558.7 2200.3 1560.4 2200.7 1562.2 2201.2 1563.9 2201.6 1565.6 2202.1 1567.3 2202.5 1569 2203 1570.7 2203.5 1572.4 2204 1574.1 2204.5 1575.8 2205 1577.5 2205.5 1579.2 2206.1 1580.9 2206.6 1582.6 2207.1 1584.3 2207.7 1586 2208.2 1587.7 2208.8 1589.4 2209.4 1591.1 2209.9 1592.8 2210.5 1594.5 2211 1596.2 2211.6 1597.8 2212.1 1599.5 2212.7 1601.2 2213.2 1602.9 2213.8 1604.6 2214.3 1606.3 2214.8 1608 2215.4 1609.7 2215.9 1611.4 2216.4 1613.1 2216.9 1614.8 2217.4 1616.5 2217.8 1618.2 2218.3 1619.9 2218.8 1621.6 2219.2 1623.3 2219.6 1625 2220.1 1626.7 2220.5 1628.4 2220.9 1630.2 2221.3 1631.9 2221.7 1633.6 2222.1 1635.3 2222.4 1637 2222.8 1638.8 2223.1 1640.5 2223.5 1642.2 2223.8 1643.9 2224.1 1645.7 2224.5 1647.4 2224.8 1649.1 2225.1 1650.9 2225.4 1652.6 2225.6 1654.3 2225.9 1656.1 2226.2 1657.8 2226.4 1659.5 2226.7 1661.3 2226.9 1663 2227.2 1664.8 2227.4 1666.5 2227.6 1668.3 2227.8 1670 2228 1671.7 2228.3 1673.5 2228.4 1675.2 2228.6 1677 2228.8 1678.7 2229 1680.5 2229.2 1682.3 2229.3 1684 2229.5 1685.8 2229.6 1687.5 2229.8 1689.3 2229.9 1691 2230 1692.8 2230.2 1694.6 2230.3 1696.3 2230.4 1698.1 2230.5 1699.8 2230.6 1701.6 2230.7 1703.4 2230.8 1705.1 2230.9 1706.9 2231 1708.7 2231 1710.4 2231.1 1712.2 2231.2 1714 2231.2 1715.7 2231.3 1717.5 2231.4 1719.3 2231.4 1721.1 2231.5 1722.8 2231.5 1724.6 2231.5 1726.4 2231.6 1728.2 2231.6 1729.9 2231.6 1731.7 2231.7 1733.5 2231.7 1735.3 2231.7 1737 2231.7 1738.8 2231.7 1740.6 2231.7 1742.4 2231.7 1744.1 2231.7 1745.9 2231.7 1747.7 2231.7 1749.5 2231.7 1751.3 2231.7 1753 2231.7 1754.8 2231.7 1756.6 2231.7 1758.4 2231.7 1760.2 2231.6 1762 2231.6 1763.7 2231.6 1765.5 2231.6 1767.3 2231.5 1769.1 2231.5 1770.9 2231.5 1772.6 2231.5 1774.4 2231.4 1776.2 2231.4 1778 2231.4 1779.8 2231.3 1781.6 2231.3 1783.3 2231.3 1785.1 2231.2 1786.9 2231.2 1788.7 2231.1 1790.5 2231.1 1792.3 2231.1 1794 2231 1795.8 2231 1797.6 2231 1799.4 2230.9 1801.2 2230.9 1802.9 2230.9 1804.7 2230.8 1806.5 2230.8 1808.3 2230.8 1810.1 2230.7 1811.9 2230.7 1813.6 2230.7 1815.4 2230.6 1817.2 2230.6 1819 2230.6 1820.8 2230.5 1822.5 2230.5 1824.3 2230.5 1826.1 2230.5 1827.9 2230.5 1829.6 2230.4 1831.4 2230.4 1833.2 2230.4 1835 2230.4 1836.8 2230.3 1838.5 2230.3 1840.3 2230.3 1842.1 2230.3 1843.9 2230.3 1845.6 2230.3 1847.4 2230.3 1849.2 2230.2 1851 2230.2 1852.7 2230.2 1854.5 2230.2 1856.3 2230.2 1858.1 2230.2 1859.8 2230.2 1861.6 2230.2 1863.4 2230.2 1865.2 2230.2 1866.9 2230.1 1868.7 2230.1 1870.5 2230.1 1872.2 2230.1 1874 2230.1 1875.8 2230.1 1877.6 2230.1 1879.3 2230.1 1881.1 2230.1 1882.9 2230.1 1884.6 2230.1 1886.4 2230.1 1888.2 2230.1 1890 2230.1 1891.7 2230.1 1893.5 2230.1 1895.3 2230.1 1897 2230.1 1898.8 2230.1 1900.6 2230.1 1902.4 2230.1 1904.1 2230.1 1905.9 2230.2 1907.7 2230.2 1909.4 2230.2 1911.2 2230.2 1913 2230.2 1914.7 2230.2 1916.5 2230.2 1918.3 2230.2 1920.1 2230.2 1921.8 2230.2 1923.6 2230.2 1925.4 2230.2 1927.1 2230.2 1928.9 2230.3 1930.7 2230.3 1932.4 2230.3 1934.2 2230.3 1936 2230.3 1937.7 2230.3 1939.5 2230.3 1941.3 2230.3 1943 2230.3 1944.8 2230.4 1946.6 2230.4 1948.4 2230.4 1950.1 2230.4 1951.9 2230.4 1953.7 2230.4 1955.4 2230.4 1957.2 2230.4 1959 2230.5 1960.7 2230.5 1962.5 2230.5 1964.3 2230.5 1966 2230.5 1967.8 2230.5 1969.6 2230.5 1971.3 2230.5 1973.1 2230.6 1974.9 2230.6 1976.6 2230.6 1978.4 2230.6 1980.2 2230.6 1981.9 2230.6 1983.7 2230.6 1985.5 2230.7 1987.2 2230.7 1989 2230.7 1990.8 2230.7 1992.6 2230.7 1994.3 2230.7 1996.1 2230.7 1997.9 2230.7 1999.6 2230.8 2001.4 2230.8 2003.2 2230.8 2004.9 2230.8 2006.7 2230.8 2008.5 2230.8 2010.2 2230.8 2012 2230.8 2013.8 2230.8 2015.5 2230.9 2017.3 2230.9 2019.1 2230.9 2020.8 2230.9 2022.6 2230.9 2024.4 2230.9 2026.2 2230.9 2027.9 2230.9 2029.7 2230.9 2031.5 2230.9 2033.2 2230.9 2035 2230.9 2036.8 2231 2038.5 2231 2040.3 2231 2042.1 2231 2043.9 2231 2045.6 2231 2047.4 2231 2049.2 2231 2050.9 2231 2052.7 2231 2054.5 2231 2056.3 2231 2058 2231 2059.8 2231 2061.6 2231 2063.3 2231 2065.1 2231 2066.9 2231 2068.7 2231 2070.4 2231 2072.2 2231 2074 2231 2075.8 2231 2077.5 2231 2079.3 2231 2081.1 2231 2082.9 2231 2084.6 2230.9 2086.4 2230.9 2088.2 2230.9 2090 2230.9 2091.7 2230.9 2093.5 2230.9 2095.3 2230.9 2097.1 2230.9 2098.8 2230.9 2100.6 2230.8 2102.4 2230.8 2104.2 2230.8 2105.9 2230.8 2107.7 2230.8 2109.5 2230.8 2111.3 2230.7 2113 2230.7 2114.8 2230.7 2116.6 2230.7 2118.4 2230.7 2120.2 2230.6 2121.9 2230.6 2123.7 2230.6 2124.6 2230.6" stroke="#ff0000"/><path d="M1325.2 1948.5L1325.5 1947 1325.9 1945.6 1326.2 1944.1 1326.6 1942.5 1327 1940.7 1327.4 1939.2 1327.9 1937.7 1328.4 1936.1 1328.9 1934.6 1329.4 1933 1330 1931.4 1330.6 1929.9 1331.3 1928.5 1332 1927.1 1332.8 1925.6 1333.7 1924.3 1334.9 1923 1336 1922 1337.4 1921.2 1338.9 1921 1340.4 1921 1342 1921.4 1343.5 1922.1 1344.8 1922.9 1346.2 1923.8 1347.4 1924.8 1348.6 1925.8 1349.8 1926.9 1351 1928.1 1352 1929.3 1353.1 1930.6 1354.1 1931.9 1355 1933.3 1356 1934.7 1356.8 1936.1 1357.7 1937.6 1358.5 1939.1 1359.3 1940.7 1360 1942 1360.6 1943.4 1361.2 1944.8 1361.8 1946.3 1362.3 1947.7 1362.9 1949.2 1363.4 1950.6 1364 1952.1 1364.5 1953.6 1365 1955.2 1365.4 1956.7 1365.9 1958.2 1366.4 1959.8 1366.8 1961.3 1367.3 1962.9 1367.7 1964.5 1368.1 1966 1368.5 1967.6 1368.9 1969.2 1369.4 1970.7 1369.8 1972.3 1370.2 1973.9 1370.6 1975.4 1371 1977 1371.4 1978.6 1371.8 1980.1 1372.2 1981.7 1372.6 1983.2 1373 1984.7 1373.4 1986.3 1373.8 1987.8 1374.2 1989.4 1374.5 1990.9 1374.9 1992.4 1375.3 1994 1375.7 1995.5 1376.1 1997 1376.5 1998.5 1376.8 2000.1 1377.2 2001.6 1377.6 2003.1 1378 2004.6 1378.4 2006.1 1378.7 2007.6 1379.1 2009.1 1379.5 2010.7 1379.9 2012.2 1380.2 2013.7 1380.6 2015.2 1381 2016.7 1381.3 2018.2 1381.7 2019.7 1382.1 2021.2 1382.5 2022.7 1382.8 2024.1 1383.2 2025.6 1383.6 2027.1 1383.9 2028.6 1384.3 2030.1 1384.7 2031.6 1385.1 2033.1 1385.4 2034.6 1385.8 2036.1 1386.2 2037.5 1386.6 2039 1386.9 2040.5 1387.3 2042 1387.7 2043.5 1388.1 2044.9 1388.4 2046.4 1388.8 2047.9 1389.2 2049.4 1389.6 2050.8 1390 2052.3 1390.4 2053.8 1390.7 2055.3 1391.1 2056.7 1391.5 2058.2 1391.9 2059.7 1392.3 2061.2 1392.7 2062.6 1393.1 2064.1 1393.5 2065.6 1393.9 2067 1394.3 2068.5 1394.7 2070 1395.1 2071.5 1395.5 2072.9 1395.9 2074.4 1396.3 2075.9 1396.7 2077.3 1397.1 2078.8 1397.6 2080.3 1398 2081.8 1398.4 2083.2 1398.8 2084.7 1399.3 2086.2 1399.7 2087.7 1400.1 2089.1 1400.6 2090.6 1401 2092.1 1401.4 2093.6 1401.9 2095 1402.3 2096.5 1402.8 2098 1403.2 2099.5 1403.7 2101 1404.2 2102.4 1404.6 2103.9 1405.1 2105.4 1405.6 2106.9 1406.1 2108.4 1406.5 2109.9 1407 2111.3 1407.5 2112.8 1408 2114.3 1408.5 2115.8 1409 2117.3 1409.5 2118.8 1410 2120.2 1410.6 2121.7 1411.1 2123.2 1411.6 2124.7 1412.1 2126.1 1412.7 2127.6 1413.2 2129.1 1413.8 2130.5 1414.3 2132 1414.9 2133.5 1415.5 2134.9 1416.1 2136.4 1416.6 2137.8 1417.2 2139.3 1417.8 2140.7 1418.4 2142.2 1419.1 2143.6 1419.7 2145 1420.3 2146.5 1420.9 2147.9 1421.6 2149.3 1422.2 2150.7 1422.9 2152.1 1423.6 2153.5 1424.2 2154.9 1424.9 2156.3 1425.6 2157.7 1426.3 2159.1 1427 2160.5 1427.7 2161.9 1428.5 2163.2 1429.2 2164.6 1430 2165.9 1430.7 2167.3 1431.5 2168.6 1432.3 2170 1433 2171.3 1433.8 2172.6 1434.6 2173.9 1435.5 2175.2 1436.3 2176.5 1437.1 2177.8 1438 2179.1 1438.8 2180.4 1439.7 2181.6 1440.6 2182.9 1441.5 2184.1 1442.4 2185.4 1443.3 2186.6 1444.2 2187.8 1445.1 2189 1446.1 2190.2 1447 2191.4 1448 2192.6 1449 2193.8 1450 2195 1451 2196.1 1452 2197.3 1453 2198.4 1454 2199.6 1455 2200.7 1456.1 2201.8 1457.1 2202.9 1458.2 2204.1 1459.2 2205.2 1460.3 2206.2 1461.4 2207.3 1462.5 2208.4 1463.6 2209.5 1464.7 2210.5 1465.8 2211.6 1467 2212.6 1468.1 2213.7 1469.3 2214.7 1470.4 2215.7 1471.6 2216.7 1472.8 2217.7 1473.9 2218.7 1475.1 2219.7 1476.3 2220.7 1477.5 2221.7 1478.7 2222.7 1479.9 2223.6 1481.2 2224.6 1482.4 2225.5 1483.6 2226.5 1484.9 2227.4 1486.1 2228.3 1487.4 2229.2 1488.7 2230.2 1490 2231.1 1491.2 2232 1492.5 2232.8 1493.8 2233.7 1495.1 2234.6 1496.4 2235.5 1497.7 2236.3 1499.1 2237.2 1500.4 2238 1501.7 2238.9 1503.1 2239.7 1504.4 2240.5 1505.7 2241.4 1507.1 2242.2 1508.5 2243 1509.8 2243.8 1511.2 2244.6 1512.6 2245.4 1514 2246.1 1515.3 2246.9 1516.7 2247.6 1518.1 2248.4 1519.5 2249.1 1520.9 2249.8 1522.3 2250.5 1523.8 2251.1 1525.2 2251.7 1526.6 2252.3 1528.1 2252.9 1529.5 2253.4 1530.9 2253.9 1532.4 2254.3 1533.8 2254.8 1535.3 2255.1 1537 2255.5 1538.7 2255.8 1540.4 2256.1 1542.2 2256.2 1543.9 2256.3 1545.6 2256.4 1547.4 2256.3 1548.9 2256.3 1550.4 2256.1 1551.9 2256 1553.4 2255.8 1554.9 2255.6 1556.4 2255.3 1558 2255 1559.5 2254.7 1561 2254.4 1562.5 2254 1564.1 2253.7 1565.6 2253.3 1567.1 2252.9 1568.6 2252.5 1570.2 2252.1 1571.7 2251.7 1573.3 2251.3 1574.8 2250.9 1576.3 2250.6 1577.9 2250.2 1579.4 2249.8 1580.9 2249.5 1582.5 2249.1 1584 2248.8 1585.5 2248.4 1587.1 2248.1 1588.6 2247.8 1590.1 2247.5 1591.6 2247.2 1593.2 2246.9 1594.7 2246.6 1596.2 2246.4 1597.8 2246.1 1599.3 2245.8 1600.8 2245.6 1602.4 2245.3 1603.9 2245.1 1605.4 2244.9 1607 2244.6 1608.5 2244.4 1610 2244.2 1611.6 2244 1613.1 2243.8 1614.6 2243.6 1616.2 2243.4 1617.7 2243.2 1619.2 2243 1620.8 2242.9 1622.3 2242.7 1623.8 2242.5 1625.3 2242.4 1626.9 2242.2 1628.4 2242.1 1629.9 2241.9 1631.5 2241.8 1633 2241.6 1634.5 2241.5 1636.1 2241.4 1637.6 2241.2 1639.1 2241.1 1640.7 2241 1642.2 2240.9 1643.7 2240.7 1645.3 2240.6 1646.8 2240.5 1648.4 2240.4 1649.9 2240.3 1651.4 2240.2 1653 2240.1 1654.5 2240 1656 2239.9 1657.6 2239.8 1659.1 2239.7 1660.7 2239.6 1662.2 2239.5 1663.7 2239.4 1665.3 2239.4 1666.8 2239.3 1668.3 2239.2 1669.9 2239.1 1671.4 2239 1673 2239 1674.5 2238.9 1676 2238.8 1677.6 2238.8 1679.1 2238.7 1680.7 2238.6 1682.2 2238.6 1683.8 2238.5 1685.3 2238.4 1686.8 2238.4 1688.4 2238.3 1689.9 2238.3 1691.5 2238.2 1693 2238.2 1694.6 2238.1 1696.1 2238.1 1697.6 2238 1699.2 2238 1700.7 2237.9 1702.3 2237.9 1703.8 2237.9 1705.4 2237.8 1706.9 2237.8 1708.5 2237.8 1710 2237.7 1711.5 2237.7 1713.1 2237.7 1714.6 2237.6 1716.2 2237.6 1717.7 2237.6 1719.3 2237.6 1720.8 2237.5 1722.4 2237.5 1723.9 2237.5 1725.5 2237.5 1727 2237.4 1728.6 2237.4 1730.1 2237.4 1731.7 2237.4 1733.2 2237.4 1734.8 2237.4 1736.3 2237.4 1737.9 2237.4 1739.4 2237.3 1741 2237.3 1742.5 2237.3 1744.1 2237.3 1745.6 2237.3 1747.1 2237.3 1748.7 2237.3 1750.2 2237.3 1751.8 2237.3 1753.3 2237.3 1754.9 2237.3 1756.4 2237.3 1758 2237.3 1759.5 2237.3 1761.1 2237.3 1762.7 2237.3 1764.2 2237.3 1765.8 2237.3 1767.3 2237.3 1768.9 2237.3 1770.4 2237.4 1772 2237.4 1773.5 2237.4 1775.1 2237.4 1776.6 2237.4 1778.2 2237.4 1779.7 2237.4 1781.3 2237.4 1782.8 2237.4 1784.4 2237.4 1785.9 2237.5 1787.5 2237.5 1789 2237.5 1790.6 2237.5 1792.1 2237.5 1793.7 2237.5 1795.2 2237.5 1796.8 2237.6 1798.3 2237.6 1799.9 2237.6 1801.4 2237.6 1803 2237.6 1804.5 2237.6 1806.1 2237.7 1807.6 2237.7 1809.2 2237.7 1810.7 2237.7 1812.3 2237.7 1813.8 2237.7 1815.4 2237.8 1817 2237.8 1818.5 2237.8 1820.1 2237.8 1821.6 2237.8 1823.2 2237.8 1824.7 2237.9 1826.3 2237.9 1827.8 2237.9 1829.4 2237.9 1830.9 2237.9 1832.5 2237.9 1834 2238 1835.6 2238 1837.1 2238 1838.7 2238 1840.2 2238 1841.8 2238 1843.3 2238.1 1844.9 2238.1 1846.4 2238.1 1848 2238.1 1849.5 2238.1 1851.1 2238.1 1852.6 2238.1 1854.2 2238.1 1855.7 2238.2 1857.3 2238.2 1858.8 2238.2 1860.4 2238.2 1861.9 2238.2 1863.5 2238.2 1865 2238.2 1866.6 2238.2 1868.1 2238.2 1869.7 2238.2 1871.2 2238.2 1872.8 2238.2 1874.3 2238.3 1875.9 2238.3 1877.4 2238.3 1879 2238.3 1880.5 2238.3 1882.1 2238.3 1883.6 2238.3 1885.2 2238.3 1886.7 2238.3 1888.3 2238.3 1889.8 2238.3 1891.4 2238.3 1892.9 2238.3 1894.5 2238.3 1896 2238.3 1897.6 2238.3 1899.1 2238.3 1900.7 2238.3 1902.2 2238.3 1903.8 2238.3 1905.3 2238.3 1906.8 2238.3 1908.4 2238.3 1909.9 2238.3 1911.5 2238.3 1913 2238.3 1914.6 2238.3 1916.1 2238.3 1917.7 2238.3 1919.2 2238.3 1920.8 2238.3 1922.3 2238.3 1923.9 2238.3 1925.4 2238.3 1927 2238.3 1928.5 2238.3 1930.1 2238.3 1931.6 2238.3 1933.2 2238.2 1934.7 2238.2 1936.3 2238.2 1937.8 2238.2 1939.4 2238.2 1940.9 2238.2 1942.4 2238.2 1944 2238.2 1945.5 2238.2 1947.1 2238.2 1948.6 2238.2 1950.2 2238.2 1951.7 2238.2 1953.3 2238.2 1954.8 2238.2 1956.4 2238.2 1957.9 2238.2 1959.5 2238.1 1961 2238.1 1962.6 2238.1 1964.1 2238.1 1965.7 2238.1 1967.2 2238.1 1968.7 2238.1 1970.3 2238.1 1971.8 2238.1 1973.4 2238.1 1974.9 2238.1 1976.5 2238.1 1978 2238.1 1979.6 2238.1 1981.1 2238 1982.7 2238 1984.2 2238 1985.8 2238 1987.3 2238 1988.9 2238 1990.4 2238 1992 2238 1993.5 2238 1995 2238 1996.6 2238 1998.1 2238 1999.7 2238 2001.2 2237.9 2002.8 2237.9 2004.3 2237.9 2005.9 2237.9 2007.4 2237.9 2009 2237.9 2010.5 2237.9 2012.1 2237.9 2013.6 2237.9 2015.2 2237.9 2016.7 2237.9 2018.3 2237.9 2019.8 2237.9 2021.3 2237.9 2022.9 2237.9 2024.4 2237.8 2026 2237.8 2027.5 2237.8 2029.1 2237.8 2030.6 2237.8 2032.2 2237.8 2033.7 2237.8 2035.3 2237.8 2036.8 2237.8 2038.4 2237.8 2039.9 2237.8 2041.5 2237.8 2043 2237.8 2044.6 2237.8 2046.1 2237.8 2047.7 2237.8 2049.2 2237.8 2050.7 2237.8 2052.3 2237.8 2053.8 2237.8 2055.4 2237.8 2056.9 2237.8 2058.5 2237.8 2060 2237.8 2061.6 2237.8 2063.1 2237.8 2064.7 2237.8 2066.2 2237.8 2067.8 2237.8 2069.3 2237.8 2070.9 2237.8 2072.4 2237.8 2074 2237.8 2075.5 2237.8 2077.1 2237.8 2078.6 2237.8 2080.2 2237.8 2081.7 2237.8 2083.3 2237.8 2084.8 2237.8 2086.4 2237.8 2087.9 2237.8 2089.5 2237.8 2091 2237.8 2092.6 2237.8 2094.1 2237.8 2095.7 2237.8 2097.2 2237.8 2098.8 2237.8 2100.3 2237.8 2101.9 2237.9 2103.4 2237.9 2105 2237.9 2106.5 2237.9 2108.1 2237.9 2109.6 2237.9 2111.2 2237.9 2112.7 2237.9 2114.3 2237.9 2115.8 2237.9 2117.4 2238 2118.9 2238 2120.5 2238 2122 2238 2123.6 2238 2124.6 2238" stroke="#000000"/></g><g fill="none" stroke="#000" stroke-width="3"><rect x="1324.7" y="1908.3" width="800.9" height="652.2"/><path d="M1305.2 2560.5H1324.7M1305.2 2451.8H1324.7M1305.2 2343.1H1324.7M1305.2 2234.4H1324.7M1305.2 2125.7H1324.7M1305.2 2017H1324.7M1305.2 1908.3H1324.7M1324.7 2560.5V2579.5M1688.8 2560.5V2579.5M2053 2560.5V2579.5"/></g><g font-size="51"><text x="1273.3" y="2578" text-anchor="end" textLength="73.4" lengthAdjust="spacingAndGlyphs">-45</text><text x="1273.3" y="2469.3" text-anchor="end" textLength="73.4" lengthAdjust="spacingAndGlyphs">-30</text><text x="1273.3" y="2360.6" text-anchor="end" textLength="73.4" lengthAdjust="spacingAndGlyphs">-15</text><text x="1273.3" y="2251.9" text-anchor="end" textLength="27.4" lengthAdjust="spacingAndGlyphs">0</text><text x="1273.3" y="2143.2" text-anchor="end" textLength="54.8" lengthAdjust="spacingAndGlyphs">15</text><text x="1273.3" y="2034.5" text-anchor="end" textLength="54.8" lengthAdjust="spacingAndGlyphs">30</text><text x="1273.3" y="1925.8" text-anchor="end" textLength="54.8" lengthAdjust="spacingAndGlyphs">45</text><text x="1325.7" y="2650.3" text-anchor="middle" textLength="82.2" lengthAdjust="spacingAndGlyphs">190</text><text x="1689.8" y="2650.3" text-anchor="middle" textLength="82.2" lengthAdjust="spacingAndGlyphs">240</text><text x="2054" y="2650.3" text-anchor="middle" textLength="82.2" lengthAdjust="spacingAndGlyphs">290</text></g><text class="b" x="1494" y="2705" font-size="58" textLength="457.5" lengthAdjust="spacingAndGlyphs">Wavelength (nm)</text><text class="b" transform="translate(1174.4 2393.7) rotate(-90)" font-size="57" textLength="276.9" lengthAdjust="spacingAndGlyphs">CD (mdeg)</text><g stroke-width="5.6"><path d="M1863.9 1952.1H1944.7" stroke="#ff0000"/><path d="M1863.9 2028.1H1944.7" stroke="#000"/></g><g font-size="38.3"><text x="1952.2" y="1963.1" textLength="148.9" lengthAdjust="spacingAndGlyphs">2D_Dy-L</text><text x="1952.2" y="2042.2" textLength="155.1" lengthAdjust="spacingAndGlyphs">2D_Dy-D</text></g></g>
<g><g fill="none" stroke-width="5.5" stroke-linejoin="round" stroke-linecap="butt"><path d="M251.1 3338.1L250.8 3339.8 250.7 3341.3 250.7 3343 250.8 3344.6 250.9 3346.3 251.1 3347.8 251.3 3349.4 251.6 3351 251.9 3352.7 252.2 3354.4 252.6 3356 253 3357.7 253.5 3359.4 254 3361.1 254.6 3362.7 255.1 3364.4 255.7 3365.9 256.4 3367.5 257.1 3368.9 257.8 3370.3 258.5 3371.7 259.4 3373.1 260.3 3374.4 261.4 3375.7 262.5 3376.8 263.8 3377.7 265.3 3378.4 266.8 3378.6 268.3 3378.3 269.7 3377.7 271 3376.8 272.2 3375.8 273.3 3374.7 274.4 3373.5 275.4 3372.2 276.4 3370.8 277.3 3369.5 278.1 3368.2 278.9 3366.9 279.7 3365.6 280.4 3364.3 281.1 3363 281.9 3361.4 282.7 3359.9 283.4 3358.3 284.1 3356.7 284.8 3355.2 285.5 3353.6 286.1 3352 286.7 3350.4 287.3 3348.8 287.8 3347.2 288.3 3345.6 288.9 3343.9 289.4 3342.3 289.9 3340.7 290.3 3339.1 290.8 3337.4 291.3 3335.8 291.7 3334.2 292.2 3332.5 292.6 3330.9 293.1 3329.2 293.5 3327.6 294 3326 294.4 3324.3 294.8 3322.7 295.2 3321 295.7 3319.4 296.1 3317.7 296.5 3316.1 296.9 3314.4 297.3 3312.8 297.7 3311.1 298.2 3309.5 298.6 3307.8 299 3306.2 299.4 3304.5 299.8 3302.9 300.3 3301.2 300.7 3299.6 301.1 3297.9 301.5 3296.3 302 3294.7 302.4 3293 302.8 3291.4 303.3 3289.8 303.7 3288.1 304.2 3286.5 304.7 3284.9 305.1 3283.3 305.6 3281.7 306.1 3280.1 306.6 3278.4 307.1 3276.8 307.6 3275.2 308.1 3273.6 308.6 3272.1 309.1 3270.5 309.7 3268.9 310.2 3267.3 310.8 3265.7 311.4 3264.2 312 3262.6 312.6 3261.1 313.2 3259.5 313.8 3258 314.4 3256.5 315.1 3254.9 315.7 3253.4 316.4 3251.9 317.1 3250.4 317.8 3248.9 318.5 3247.4 319.3 3245.9 320 3244.4 320.8 3243 321.6 3241.5 322.4 3240.1 323.2 3238.6 324 3237.2 324.9 3235.8 325.8 3234.3 326.7 3232.9 327.6 3231.5 328.5 3230.1 329.5 3228.8 330.5 3227.4 331.5 3226 332.5 3224.7 333.5 3223.4 334.6 3222 335.7 3220.7 336.8 3219.4 337.9 3218.2 339 3216.9 340.1 3215.6 341.3 3214.4 342.5 3213.2 343.7 3212 344.9 3210.8 346.1 3209.6 347.3 3208.4 348.6 3207.3 349.9 3206.2 351.1 3205 352.4 3204 353.7 3202.9 355 3201.8 356.4 3200.8 357.7 3199.8 359.1 3198.8 360.4 3197.8 361.8 3196.9 363.2 3196 364.6 3195.1 366 3194.2 367.4 3193.3 368.8 3192.4 370.2 3191.6 371.7 3190.8 373.1 3189.9 374.6 3189.1 376 3188.3 377.5 3187.5 378.9 3186.8 380.4 3186 381.9 3185.2 383.4 3184.5 384.8 3183.7 386.3 3183 387.8 3182.2 389.3 3181.5 390.8 3180.7 392.3 3180 393.8 3179.2 395.3 3178.5 396.8 3177.7 398.3 3177 399.8 3176.2 401.3 3175.5 402.8 3174.7 404.3 3173.9 405.8 3173.2 407.3 3172.4 408.8 3171.7 410.3 3170.9 411.9 3170.1 413.4 3169.4 414.9 3168.6 416.4 3167.9 417.9 3167.1 419.4 3166.4 420.9 3165.6 422.5 3164.9 424 3164.1 425.5 3163.4 427 3162.6 428.6 3161.9 430.1 3161.2 431.6 3160.5 433.2 3159.7 434.7 3159 436.2 3158.3 437.8 3157.6 439.3 3156.9 440.9 3156.3 442.4 3155.6 444 3154.9 445.5 3154.2 447.1 3153.6 448.6 3152.9 450.2 3152.3 451.8 3151.7 453.3 3151.1 454.9 3150.5 456.5 3149.9 458 3149.3 459.6 3148.7 461.2 3148.1 462.8 3147.6 464.4 3147 466 3146.5 467.5 3146 469.1 3145.5 470.7 3145 472.3 3144.5 473.9 3144.1 475.5 3143.6 477.2 3143.2 478.8 3142.8 480.4 3142.3 482 3141.9 483.6 3141.5 485.2 3141.2 486.9 3140.8 488.5 3140.4 490.1 3140.1 491.8 3139.8 493.4 3139.4 495 3139.1 496.7 3138.8 498.3 3138.5 500 3138.2 501.6 3137.9 503.3 3137.7 504.9 3137.4 506.6 3137.2 508.2 3136.9 509.9 3136.7 511.5 3136.5 513.2 3136.3 514.9 3136.1 516.5 3135.9 518.2 3135.7 519.9 3135.5 521.5 3135.3 523.2 3135.1 524.9 3135 526.5 3134.8 528.2 3134.6 529.9 3134.5 531.6 3134.4 533.3 3134.2 534.9 3134.1 536.6 3134 538.3 3133.9 540 3133.7 541.7 3133.6 543.3 3133.5 545 3133.4 546.7 3133.3 548.4 3133.2 550.1 3133.2 551.8 3133.1 553.5 3133 555.2 3132.9 556.8 3132.8 558.5 3132.8 560.2 3132.7 561.9 3132.6 563.6 3132.6 565.3 3132.5 567 3132.5 568.7 3132.4 570.4 3132.3 572.1 3132.3 573.7 3132.2 575.4 3132.2 577.1 3132.1 578.8 3132.1 580.5 3132 582.2 3132 583.9 3131.9 585.6 3131.9 587.3 3131.8 589 3131.8 590.6 3131.7 592.3 3131.7 594 3131.6 595.7 3131.6 597.4 3131.5 599.1 3131.5 600.8 3131.4 602.5 3131.4 604.1 3131.3 605.8 3131.3 607.5 3131.3 609.2 3131.2 610.9 3131.2 612.6 3131.1 614.3 3131.1 615.9 3131 617.6 3131 619.3 3131 621 3130.9 622.7 3130.9 624.4 3130.8 626.1 3130.8 627.7 3130.8 629.4 3130.7 631.1 3130.7 632.8 3130.6 634.5 3130.6 636.2 3130.6 637.8 3130.5 639.5 3130.5 641.2 3130.5 642.9 3130.4 644.6 3130.4 646.3 3130.4 647.9 3130.3 649.6 3130.3 651.3 3130.2 653 3130.2 654.7 3130.2 656.3 3130.2 658 3130.1 659.7 3130.1 661.4 3130.1 663.1 3130 664.8 3130 666.4 3130 668.1 3129.9 669.8 3129.9 671.5 3129.9 673.2 3129.9 674.8 3129.8 676.5 3129.8 678.2 3129.8 679.9 3129.7 681.6 3129.7 683.2 3129.7 684.9 3129.7 686.6 3129.6 688.3 3129.6 690 3129.6 691.6 3129.6 693.3 3129.5 695 3129.5 696.7 3129.5 698.4 3129.5 700 3129.5 701.7 3129.4 703.4 3129.4 705.1 3129.4 706.8 3129.4 708.4 3129.4 710.1 3129.3 711.8 3129.3 713.5 3129.3 715.2 3129.3 716.8 3129.3 718.5 3129.2 720.2 3129.2 721.9 3129.2 723.6 3129.2 725.2 3129.2 726.9 3129.2 728.6 3129.1 730.3 3129.1 732 3129.1 733.6 3129.1 735.3 3129.1 737 3129.1 738.7 3129.1 740.4 3129 742.1 3129 743.7 3129 745.4 3129 747.1 3129 748.8 3129 750.5 3129 752.1 3129 753.8 3129 755.5 3128.9 757.2 3128.9 758.9 3128.9 760.5 3128.9 762.2 3128.9 763.9 3128.9 765.6 3128.9 767.3 3128.9 768.9 3128.9 770.6 3128.9 772.3 3128.9 774 3128.9 775.7 3128.8 777.4 3128.8 779 3128.8 780.7 3128.8 782.4 3128.8 784.1 3128.8 785.8 3128.8 787.5 3128.8 789.1 3128.8 790.8 3128.8 792.5 3128.8 794.2 3128.8 795.9 3128.8 797.5 3128.8 799.2 3128.8 800.9 3128.8 802.6 3128.8 804.3 3128.8 806 3128.8 807.6 3128.8 809.3 3128.8 811 3128.8 812.7 3128.8 814.4 3128.8 816.1 3128.8 817.7 3128.8 819.4 3128.8 821.1 3128.8 822.8 3128.8 824.5 3128.8 826.2 3128.8 827.8 3128.8 829.5 3128.8 831.2 3128.8 832.9 3128.8 834.6 3128.8 836.3 3128.8 838 3128.8 839.6 3128.8 841.3 3128.8 843 3128.8 844.7 3128.8 846.4 3128.8 848.1 3128.8 849.7 3128.8 851.4 3128.8 853.1 3128.8 854.8 3128.8 856.5 3128.8 858.2 3128.8 859.9 3128.9 861.5 3128.9 863.2 3128.9 864.9 3128.9 866.6 3128.9 868.3 3128.9 870 3128.9 871.6 3128.9 873.3 3128.9 875 3128.9 876.7 3128.9 878.4 3128.9 880.1 3128.9 881.8 3128.9 883.4 3128.9 885.1 3128.9 886.8 3128.9 888.5 3128.9 890.2 3128.9 891.9 3128.9 893.5 3129 895.2 3129 896.9 3129 898.6 3129 900.3 3129 902 3129 903.7 3129 905.3 3129 907 3129 908.7 3129 910.4 3129 912.1 3129 913.8 3129 915.4 3129 917.1 3129 918.8 3129 920.5 3129 922.2 3129 923.9 3129 925.6 3129.1 927.2 3129.1 928.9 3129.1 930.6 3129.1 932.3 3129.1 934 3129.1 935.7 3129.1 937.4 3129.1 939 3129.1 940.7 3129.1 942.4 3129.1 944.1 3129.1 945.8 3129.1 947.5 3129.1 949.1 3129.1 950.8 3129.1 952.5 3129.1 954.2 3129.1 955.9 3129.1 957.6 3129.1 959.2 3129.1 960.9 3129.1 962.6 3129.1 964.3 3129.1 966 3129.1 967.7 3129.2 969.4 3129.2 971 3129.2 972.7 3129.2 974.4 3129.2 976.1 3129.2 977.8 3129.2 979.5 3129.2 981.1 3129.2 982.8 3129.2 984.5 3129.2 986.2 3129.2 987.9 3129.2 989.6 3129.2 991.2 3129.2 992.9 3129.2 994.6 3129.2 996.3 3129.2 998 3129.2 999.7 3129.2 1001.3 3129.2 1003 3129.2 1004.7 3129.2 1006.4 3129.2 1008.1 3129.1 1009.8 3129.1 1011.4 3129.1 1013.1 3129.1 1014.8 3129.1 1016.5 3129.1 1018.2 3129.1 1019.8 3129.1 1021.5 3129.1 1023.2 3129.1 1024.9 3129.1 1026.6 3129.1 1028.3 3129.1 1029.9 3129.1 1031.6 3129.1 1033.3 3129.1 1035 3129.1 1036.7 3129.1 1038.3 3129.1 1040 3129 1041.7 3129 1043.4 3129 1045.1 3129 1046.8 3129 1048.4 3129 1050.1 3129 1050.6 3129" stroke="#ff0000"/><path d="M251.1 2939L252 2937.5 252.6 2936.1 253.2 2934.6 253.8 2933 254.3 2931.5 254.7 2930 255.2 2928.5 255.7 2926.9 256.1 2925.3 256.6 2923.7 257.2 2922.1 257.7 2920.6 258.3 2919 259 2917.5 259.8 2916.1 260.6 2914.7 261.5 2913.4 262.5 2912.1 263.6 2911 264.7 2910 266.1 2908.9 267.5 2908 269 2907.3 270.5 2906.9 272.2 2906.6 273.8 2906.7 275.4 2907.1 277 2907.8 278.3 2908.7 279.6 2909.7 280.8 2910.8 282 2912.1 282.9 2913.3 283.9 2914.6 284.8 2915.9 285.6 2917.2 286.4 2918.6 287.2 2920 288 2921.3 288.7 2922.7 289.3 2924.1 290 2925.5 290.6 2926.9 291.1 2928.3 291.7 2929.8 292.2 2931.2 292.7 2932.6 293.2 2934.1 293.7 2935.5 294.1 2936.9 294.6 2938.4 295 2939.8 295.4 2941.3 295.8 2942.7 296.2 2944.2 296.6 2945.6 297.1 2947.1 297.5 2948.5 297.9 2950 298.3 2951.4 298.7 2952.9 299.1 2954.3 299.5 2955.8 299.9 2957.2 300.3 2958.7 300.7 2960.1 301.2 2961.6 301.6 2963 302 2964.5 302.4 2965.9 302.8 2967.4 303.2 2968.9 303.7 2970.3 304.1 2971.8 304.5 2973.2 304.9 2974.7 305.3 2976.1 305.8 2977.6 306.2 2979 306.6 2980.5 307.1 2981.9 307.5 2983.4 307.9 2984.8 308.3 2986.3 308.8 2987.7 309.2 2989.2 309.6 2990.6 310.1 2992.1 310.5 2993.5 311 2994.9 311.4 2996.4 311.8 2997.8 312.3 2999.3 312.7 3000.7 313.2 3002.2 313.6 3003.6 314.1 3005.1 314.5 3006.5 315 3008 315.5 3009.4 315.9 3010.8 316.4 3012.3 316.8 3013.7 317.3 3015.2 317.8 3016.6 318.2 3018 318.7 3019.5 319.2 3020.9 319.6 3022.4 320.1 3023.8 320.6 3025.2 321.1 3026.7 321.5 3028.1 322 3029.5 322.5 3031 323 3032.4 323.5 3033.8 324 3035.3 324.5 3036.7 325 3038.1 325.5 3039.5 326 3041 326.5 3042.4 327 3043.8 327.5 3045.2 328 3046.7 328.5 3048.1 329 3049.5 329.5 3050.9 330.1 3052.3 330.6 3053.8 331.1 3055.2 331.6 3056.6 332.2 3058 332.7 3059.4 333.2 3060.8 333.8 3062.2 334.3 3063.6 334.9 3065.1 335.4 3066.5 336 3067.9 336.5 3069.3 337.1 3070.7 337.6 3072.1 338.2 3073.5 338.8 3074.9 339.3 3076.3 339.9 3077.7 340.5 3079.1 341.1 3080.4 341.7 3081.8 342.2 3083.2 342.8 3084.6 343.4 3086 344 3087.4 344.6 3088.8 345.3 3090.1 345.9 3091.5 346.5 3092.9 347.1 3094.2 347.8 3095.6 348.4 3097 349 3098.3 349.7 3099.7 350.3 3101 351 3102.4 351.7 3103.7 352.3 3105.1 353 3106.4 353.7 3107.7 354.4 3109.1 355.2 3110.6 356 3112.2 356.8 3113.7 357.7 3115.2 358.5 3116.8 359.4 3118.3 360.3 3119.8 361.1 3121.3 362 3122.8 362.9 3124.3 363.8 3125.8 364.8 3127.3 365.7 3128.8 366.6 3130.3 367.6 3131.7 368.4 3133 369.3 3134.2 370.1 3135.5 371 3136.7 371.8 3137.9 372.7 3139.2 373.6 3140.4 374.5 3141.6 375.4 3142.8 376.3 3144 377.2 3145.2 378.1 3146.4 379.1 3147.6 380 3148.7 381 3149.9 381.9 3151.1 382.9 3152.2 383.9 3153.4 384.9 3154.5 385.9 3155.7 386.9 3156.8 388 3157.9 389 3159 390.1 3160.2 391.1 3161.3 392.2 3162.3 393.3 3163.4 394.4 3164.5 395.5 3165.5 396.6 3166.6 397.8 3167.6 398.9 3168.6 400.1 3169.6 401.2 3170.6 402.4 3171.5 403.6 3172.4 404.8 3173.4 406.1 3174.2 407.3 3175.1 408.5 3176 409.8 3176.8 411.3 3177.7 412.8 3178.6 414.3 3179.5 415.8 3180.3 417.4 3181.1 419 3181.8 420.6 3182.5 422.2 3183.1 423.8 3183.7 425.4 3184.3 427.1 3184.8 428.8 3185.3 430.5 3185.7 432.2 3186 433.9 3186.4 435.6 3186.6 437.3 3186.8 439.1 3187 440.8 3187.1 442.6 3187.2 444.3 3187.2 446 3187.1 447.7 3187 449.5 3186.9 451.2 3186.7 452.9 3186.4 454.6 3186.1 456.2 3185.7 457.9 3185.2 459.5 3184.7 461.2 3184.2 462.8 3183.6 464.4 3183 466 3182.3 467.5 3181.6 469.1 3180.8 470.5 3180.1 471.8 3179.4 473.1 3178.7 474.4 3178 475.8 3177.2 477.1 3176.4 478.4 3175.6 479.7 3174.8 481 3174 482.3 3173.1 483.6 3172.3 484.9 3171.4 486.2 3170.6 487.5 3169.7 488.8 3168.8 490.1 3167.9 491.4 3167.1 492.7 3166.2 494 3165.3 495.3 3164.5 496.6 3163.6 497.9 3162.8 499.2 3161.9 500.5 3161.1 501.8 3160.3 503.1 3159.5 504.5 3158.7 505.8 3157.9 507.1 3157.2 508.5 3156.5 509.8 3155.8 511.2 3155.1 512.6 3154.4 513.9 3153.7 515.3 3153.1 516.7 3152.5 518.1 3151.9 519.5 3151.3 520.9 3150.7 522.3 3150.2 523.7 3149.6 525.1 3149.1 526.5 3148.6 527.9 3148.1 529.3 3147.6 530.7 3147.1 532.2 3146.7 533.6 3146.2 535 3145.8 536.7 3145.3 538.4 3144.8 540.1 3144.4 541.8 3143.9 543.5 3143.5 545.2 3143.1 546.9 3142.6 548.6 3142.2 550.3 3141.9 552 3141.5 553.7 3141.1 555.4 3140.7 557.1 3140.4 558.8 3140.1 560.5 3139.7 562.3 3139.4 564 3139.1 565.7 3138.8 567.4 3138.4 569.1 3138.1 570.9 3137.9 572.6 3137.6 574.3 3137.3 576 3137 577.8 3136.8 579.5 3136.5 581.2 3136.3 582.9 3136 584.7 3135.8 586.4 3135.6 588.1 3135.3 589.9 3135.1 591.6 3134.9 593.3 3134.7 595.1 3134.5 596.8 3134.3 598.6 3134.1 600.3 3133.9 602 3133.8 603.8 3133.6 605.5 3133.4 607.3 3133.3 609 3133.1 610.5 3133 612 3132.9 613.5 3132.8 615 3132.7 616.5 3132.6 618 3132.4 619.5 3132.3 621 3132.3 622.5 3132.2 624 3132.1 625.5 3132 627 3131.9 628.5 3131.8 630 3131.7 631.5 3131.7 633 3131.6 634.5 3131.5 636 3131.5 637.5 3131.4 639 3131.3 640.5 3131.3 642 3131.2 643.5 3131.2 645 3131.1 646.5 3131.1 648 3131.1 649.6 3131 651.1 3131 652.6 3131 654.1 3130.9 655.6 3130.9 657.1 3130.9 658.6 3130.9 660.1 3130.8 661.6 3130.8 663.1 3130.8 664.7 3130.8 666.2 3130.8 667.7 3130.8 669.2 3130.8 670.7 3130.8 672.2 3130.8 673.7 3130.8 675.2 3130.8 676.8 3130.8 678.3 3130.8 679.8 3130.8 681.3 3130.8 682.8 3130.8 684.3 3130.8 685.8 3130.8 687.4 3130.8 688.9 3130.9 690.4 3130.9 691.9 3130.9 693.4 3130.9 694.9 3130.9 696.5 3131 698 3131 699.5 3131 701 3131 702.5 3131.1 704 3131.1 705.6 3131.1 707.1 3131.2 708.6 3131.2 710.1 3131.2 711.6 3131.3 713.2 3131.3 714.7 3131.3 716.2 3131.4 717.7 3131.4 719.2 3131.4 720.7 3131.5 722.3 3131.5 723.8 3131.5 725.3 3131.6 726.8 3131.6 728.3 3131.6 729.9 3131.7 731.4 3131.7 732.9 3131.8 734.4 3131.8 735.9 3131.8 737.4 3131.9 739 3131.9 740.5 3131.9 742 3132 743.5 3132 745 3132.1 746.5 3132.1 748.1 3132.1 749.6 3132.2 751.1 3132.2 752.6 3132.2 754.1 3132.3 755.6 3132.3 757.2 3132.3 758.7 3132.4 760.2 3132.4 761.7 3132.4 763.2 3132.4 764.7 3132.5 766.3 3132.5 767.8 3132.5 769.3 3132.5 770.8 3132.6 772.3 3132.6 773.8 3132.6 775.3 3132.6 776.9 3132.6 778.4 3132.7 779.9 3132.7 781.4 3132.7 782.9 3132.7 784.4 3132.7 785.9 3132.7 787.5 3132.8 789 3132.8 790.5 3132.8 792 3132.8 793.5 3132.8 795 3132.8 796.5 3132.8 798 3132.8 799.6 3132.9 801.1 3132.9 802.6 3132.9 804.1 3132.9 805.6 3132.9 807.1 3132.9 808.6 3132.9 810.1 3132.9 811.6 3132.9 813.1 3132.9 814.7 3132.9 816.2 3132.9 817.7 3132.9 819.2 3132.9 820.7 3132.9 822.2 3132.9 823.7 3132.9 825.2 3132.9 826.7 3132.9 828.2 3132.9 829.8 3132.9 831.3 3132.9 832.8 3132.9 834.3 3132.9 835.8 3132.9 837.3 3132.9 838.8 3132.9 840.3 3132.9 841.8 3132.9 843.3 3132.9 844.8 3132.9 846.4 3132.8 847.9 3132.8 849.4 3132.8 850.9 3132.8 852.4 3132.8 853.9 3132.8 855.4 3132.8 856.9 3132.8 858.4 3132.8 859.9 3132.8 861.4 3132.8 862.9 3132.7 864.4 3132.7 866 3132.7 867.5 3132.7 869 3132.7 870.5 3132.7 872 3132.7 873.5 3132.7 875 3132.6 876.5 3132.6 878 3132.6 879.5 3132.6 881 3132.6 882.5 3132.6 884 3132.6 885.5 3132.6 887.1 3132.5 888.6 3132.5 890.1 3132.5 891.6 3132.5 893.1 3132.5 894.6 3132.5 896.1 3132.5 897.6 3132.4 899.1 3132.4 900.6 3132.4 902.1 3132.4 903.6 3132.4 905.1 3132.4 906.6 3132.3 908.1 3132.3 909.7 3132.3 911.2 3132.3 912.7 3132.3 914.2 3132.3 915.7 3132.3 917.2 3132.2 918.7 3132.2 920.2 3132.2 921.7 3132.2 923.2 3132.2 924.7 3132.2 926.2 3132.2 927.7 3132.1 929.2 3132.1 930.8 3132.1 932.3 3132.1 933.8 3132.1 935.3 3132.1 936.8 3132.1 938.3 3132.1 939.8 3132 941.3 3132 942.8 3132 944.3 3132 945.8 3132 947.3 3132 948.8 3132 950.4 3132 951.9 3132 953.4 3131.9 954.9 3131.9 956.4 3131.9 957.9 3131.9 959.4 3131.9 960.9 3131.9 962.4 3131.9 963.9 3131.9 965.4 3131.9 966.9 3131.9 968.4 3131.9 970 3131.9 971.5 3131.8 973 3131.8 974.5 3131.8 976 3131.8 977.5 3131.8 979 3131.8 980.5 3131.8 982 3131.8 983.5 3131.8 985.1 3131.8 986.6 3131.8 988.1 3131.8 989.6 3131.8 991.1 3131.8 992.6 3131.8 994.1 3131.8 995.6 3131.8 997.1 3131.8 998.6 3131.8 1000.2 3131.8 1001.7 3131.8 1003.2 3131.8 1004.7 3131.8 1006.2 3131.8 1007.7 3131.8 1009.2 3131.9 1010.7 3131.9 1012.2 3131.9 1013.8 3131.9 1015.3 3131.9 1016.8 3131.9 1018.3 3131.9 1019.8 3131.9 1021.3 3131.9 1022.8 3132 1024.4 3132 1025.9 3132 1027.4 3132 1028.9 3132 1030.4 3132 1031.9 3132 1033.4 3132.1 1034.9 3132.1 1036.5 3132.1 1038 3132.1 1039.5 3132.2 1041 3132.2 1042.5 3132.2 1044 3132.2 1045.6 3132.2 1047.1 3132.3 1048.6 3132.3 1050.1 3132.3 1050.6 3132.3" stroke="#000000"/></g><g fill="none" stroke="#000" stroke-width="3"><rect x="250.6" y="2807.2" width="801" height="645.6"/><path d="M231.1 3452.8H250.6M231.1 3345.2H250.6M231.1 3237.6H250.6M231.1 3130H250.6M231.1 3022.4H250.6M231.1 2914.8H250.6M231.1 2807.2H250.6M250.6 3452.8V3471.8M614.7 3452.8V3471.8M978.8 3452.8V3471.8"/></g><g font-size="51"><text x="199.3" y="3470.3" text-anchor="end" textLength="73.4" lengthAdjust="spacingAndGlyphs">-90</text><text x="199.3" y="3362.7" text-anchor="end" textLength="73.4" lengthAdjust="spacingAndGlyphs">-60</text><text x="199.3" y="3255.1" text-anchor="end" textLength="73.4" lengthAdjust="spacingAndGlyphs">-30</text><text x="199.3" y="3147.5" text-anchor="end" textLength="27.4" lengthAdjust="spacingAndGlyphs">0</text><text x="199.3" y="3039.9" text-anchor="end" textLength="54.8" lengthAdjust="spacingAndGlyphs">30</text><text x="199.3" y="2932.3" text-anchor="end" textLength="54.8" lengthAdjust="spacingAndGlyphs">60</text><text x="199.3" y="2824.7" text-anchor="end" textLength="54.8" lengthAdjust="spacingAndGlyphs">90</text><text x="251.6" y="3546.7" text-anchor="middle" textLength="82.2" lengthAdjust="spacingAndGlyphs">190</text><text x="615.7" y="3546.7" text-anchor="middle" textLength="82.2" lengthAdjust="spacingAndGlyphs">240</text><text x="979.8" y="3546.7" text-anchor="middle" textLength="82.2" lengthAdjust="spacingAndGlyphs">290</text></g><text class="b" x="421.3" y="3603.7" font-size="58" textLength="453.9" lengthAdjust="spacingAndGlyphs">Wavelength (nm)</text><text class="b" transform="translate(90.9 3295.2) rotate(-90)" font-size="57" textLength="276.4" lengthAdjust="spacingAndGlyphs">CD (mdeg)</text><g stroke-width="5.6"><path d="M783.1 2844.6H867.9" stroke="#ff0000"/><path d="M783.1 2923.2H867.9" stroke="#000"/></g><g font-size="38.3"><text x="871.5" y="2855.8" textLength="151" lengthAdjust="spacingAndGlyphs">2D_Ho-L</text><text x="871.5" y="2934.7" textLength="157.2" lengthAdjust="spacingAndGlyphs">2D_Ho-D</text></g></g>
<g><g fill="none" stroke-width="5.5" stroke-linejoin="round" stroke-linecap="butt"><path d="M1328.3 3300.3L1328.1 3301.9 1328.1 3303.6 1328.1 3305.2 1328.1 3307 1328.1 3308.7 1328.2 3310.4 1328.2 3312.3 1328.3 3313.9 1328.3 3315.5 1328.4 3317.1 1328.4 3318.8 1328.5 3320.4 1328.5 3322.1 1328.6 3323.8 1328.7 3325.4 1328.8 3327 1328.8 3328.6 1328.9 3330.2 1329 3332 1329.1 3333.8 1329.2 3335.4 1329.3 3336.9 1329.5 3338.5 1329.6 3340 1329.9 3341.6 1330.4 3340.2 1330.5 3338.6 1330.6 3337 1330.7 3335.2 1330.7 3333.7 1330.8 3332.1 1330.9 3330.5 1330.9 3328.9 1331 3327.2 1331.1 3325.7 1331.2 3324.1 1331.7 3325.6 1331.8 3327.3 1331.9 3328.9 1332 3330.4 1332.1 3332 1332.2 3333.7 1332.3 3335.5 1332.4 3337.3 1332.5 3338.8 1332.6 3340.4 1332.8 3341.9 1332.9 3343.4 1333 3345 1333.2 3346.5 1333.3 3348 1333.5 3349.9 1333.7 3351.7 1333.9 3353.4 1334.2 3355.1 1334.5 3356.7 1334.8 3358.2 1335.2 3360 1335.6 3361.6 1336.2 3363.1 1336.7 3364.5 1337.5 3366 1338.4 3367.3 1339.5 3368.6 1340.7 3369.5 1342.1 3370.2 1343.7 3370.3 1345.2 3369.9 1346.5 3369.1 1347.8 3368.1 1348.9 3367 1350 3365.7 1351 3364.5 1351.9 3363.3 1352.9 3362 1353.8 3360.6 1354.7 3359.2 1355.6 3357.9 1356.4 3356.5 1357.3 3355.1 1358.1 3353.7 1358.9 3352.4 1359.7 3351 1360.5 3349.6 1361.2 3348.2 1362 3346.8 1362.7 3345.4 1363.4 3344 1364.1 3342.5 1364.8 3341.1 1365.5 3339.7 1366.1 3338.3 1366.8 3336.8 1367.4 3335.4 1368 3334 1368.6 3332.5 1369.2 3331.1 1369.8 3329.6 1370.4 3328.2 1370.9 3326.7 1371.5 3325.3 1372 3323.8 1372.5 3322.4 1373 3320.9 1373.5 3319.4 1374 3318 1374.5 3316.5 1375 3315 1375.5 3313.6 1376 3312.1 1376.4 3310.6 1376.9 3309.1 1377.3 3307.6 1377.8 3306.2 1378.2 3304.7 1378.6 3303.2 1379.1 3301.7 1379.5 3300.2 1379.9 3298.7 1380.3 3297.3 1380.7 3295.8 1381.1 3294.3 1381.5 3292.8 1381.9 3291.3 1382.3 3289.8 1382.7 3288.3 1383.1 3286.8 1383.5 3285.3 1383.9 3283.9 1384.3 3282.4 1384.7 3280.9 1385.1 3279.4 1385.5 3277.9 1385.9 3276.4 1386.3 3274.9 1386.7 3273.5 1387.1 3272 1387.5 3270.5 1387.9 3269 1388.4 3267.5 1388.8 3266 1389.2 3264.6 1389.6 3263.1 1390 3261.6 1390.5 3260.2 1390.9 3258.7 1391.4 3257.2 1391.8 3255.7 1392.3 3254.3 1392.7 3252.8 1393.2 3251.4 1393.7 3249.9 1394.2 3248.5 1394.7 3247 1395.2 3245.6 1395.7 3244.1 1396.2 3242.7 1396.8 3241.2 1397.3 3239.8 1397.9 3238.4 1398.4 3236.9 1399 3235.5 1399.6 3234.1 1400.2 3232.7 1400.8 3231.3 1401.4 3229.9 1402.1 3228.5 1402.7 3227.1 1403.4 3225.7 1404 3224.3 1404.7 3222.9 1405.4 3221.6 1406.1 3220.2 1406.9 3218.8 1407.6 3217.5 1408.4 3216.2 1409.1 3214.8 1409.9 3213.5 1410.7 3212.2 1411.5 3210.9 1412.4 3209.6 1413.2 3208.3 1414.1 3207 1414.9 3205.7 1415.8 3204.5 1416.8 3203.2 1417.7 3202 1418.6 3200.7 1419.6 3199.5 1420.6 3198.3 1421.6 3197.1 1422.6 3195.9 1423.6 3194.8 1424.7 3193.6 1425.8 3192.5 1426.8 3191.3 1427.9 3190.2 1429.1 3189.1 1430.2 3188.1 1431.4 3187 1432.5 3186 1433.7 3185 1434.9 3184 1436.1 3183.1 1437.4 3182.1 1438.6 3181.2 1439.9 3180.4 1441.2 3179.5 1442.5 3178.7 1443.8 3177.9 1445.1 3177.2 1446.5 3176.4 1447.8 3175.7 1449.2 3175.1 1450.6 3174.5 1452 3173.9 1453.4 3173.4 1454.8 3172.8 1456.2 3172.3 1457.7 3171.9 1459.1 3171.4 1460.6 3171 1462.1 3170.6 1463.5 3170.2 1465 3169.8 1466.5 3169.5 1468 3169.1 1469.5 3168.8 1471 3168.4 1472.5 3168.1 1474 3167.7 1475.5 3167.3 1477 3167 1478.5 3166.6 1480 3166.2 1481.5 3165.8 1483 3165.4 1484.5 3164.9 1485.9 3164.5 1487.4 3164 1488.9 3163.5 1490.3 3162.9 1491.8 3162.4 1493.2 3161.8 1494.6 3161.2 1496.1 3160.5 1497.5 3159.9 1498.9 3159.2 1500.3 3158.5 1501.7 3157.8 1503.1 3157.2 1504.5 3156.5 1505.9 3155.7 1507.4 3155 1508.8 3154.3 1510.2 3153.6 1511.6 3152.9 1513 3152.2 1514.4 3151.5 1515.8 3150.9 1517.2 3150.2 1518.6 3149.6 1520 3148.9 1521.5 3148.3 1522.9 3147.7 1524.3 3147.1 1525.7 3146.5 1527.2 3146 1528.6 3145.4 1530.1 3144.9 1531.5 3144.4 1533 3143.9 1534.4 3143.4 1535.9 3142.9 1537.3 3142.4 1538.8 3142 1540.3 3141.5 1541.7 3141.1 1543.2 3140.6 1544.7 3140.2 1546.1 3139.8 1547.6 3139.4 1549.1 3139.1 1550.6 3138.7 1552.1 3138.3 1553.6 3138 1555 3137.7 1556.5 3137.3 1558 3137 1559.5 3136.7 1561 3136.4 1562.5 3136.1 1564 3135.8 1565.5 3135.6 1567 3135.3 1568.6 3135.1 1570.1 3134.8 1571.6 3134.6 1573.1 3134.3 1574.6 3134.1 1576.1 3133.9 1577.7 3133.7 1579.2 3133.5 1580.7 3133.3 1582.2 3133.1 1583.7 3133 1585.3 3132.8 1586.8 3132.6 1588.3 3132.5 1589.9 3132.3 1591.4 3132.2 1592.9 3132 1594.5 3131.9 1596 3131.8 1597.5 3131.6 1599.1 3131.5 1600.6 3131.4 1602.2 3131.3 1603.7 3131.2 1605.2 3131.1 1606.8 3131 1608.3 3130.9 1609.9 3130.8 1611.4 3130.7 1613 3130.6 1614.5 3130.6 1616.1 3130.5 1617.6 3130.4 1619.1 3130.3 1620.7 3130.3 1622.2 3130.2 1623.8 3130.1 1625.3 3130.1 1626.9 3130 1628.4 3130 1630 3129.9 1631.5 3129.8 1633.1 3129.8 1634.6 3129.7 1636.2 3129.7 1637.7 3129.6 1639.3 3129.6 1640.8 3129.5 1642.4 3129.5 1643.9 3129.4 1645.5 3129.4 1647 3129.3 1648.5 3129.3 1650.1 3129.2 1651.6 3129.2 1653.2 3129.2 1654.7 3129.1 1656.3 3129.1 1657.8 3129 1659.4 3129 1660.9 3129 1662.5 3128.9 1664 3128.9 1665.6 3128.9 1667.1 3128.8 1668.7 3128.8 1670.2 3128.8 1671.8 3128.7 1673.3 3128.7 1674.8 3128.7 1676.4 3128.6 1677.9 3128.6 1679.5 3128.6 1681 3128.6 1682.6 3128.5 1684.1 3128.5 1685.7 3128.5 1687.2 3128.5 1688.8 3128.4 1690.3 3128.4 1691.9 3128.4 1693.4 3128.4 1695 3128.3 1696.5 3128.3 1698 3128.3 1699.6 3128.3 1701.1 3128.3 1702.7 3128.3 1704.2 3128.2 1705.8 3128.2 1707.3 3128.2 1708.9 3128.2 1710.4 3128.2 1712 3128.2 1713.5 3128.2 1715.1 3128.1 1716.6 3128.1 1718.1 3128.1 1719.7 3128.1 1721.2 3128.1 1722.8 3128.1 1724.3 3128.1 1725.9 3128.1 1727.4 3128.1 1729 3128.1 1730.5 3128 1732.1 3128 1733.6 3128 1735.1 3128 1736.7 3128 1738.2 3128 1739.8 3128 1741.3 3128 1742.9 3128 1744.4 3128 1746 3128 1747.5 3128 1749.1 3128 1750.6 3128 1752.2 3128 1753.7 3128 1755.2 3128 1756.8 3128 1758.3 3128 1759.9 3128 1761.4 3128 1763 3128 1764.5 3128 1766.1 3128 1767.6 3128 1769.2 3128 1770.7 3128 1772.2 3128 1773.8 3128 1775.3 3128 1776.9 3128 1778.4 3128 1780 3128 1781.5 3128 1783.1 3128 1784.6 3128 1786.2 3128 1787.7 3128 1789.2 3128 1790.8 3128 1792.3 3128.1 1793.9 3128.1 1795.4 3128.1 1797 3128.1 1798.5 3128.1 1800.1 3128.1 1801.6 3128.1 1803.2 3128.1 1804.7 3128.1 1806.2 3128.1 1807.8 3128.1 1809.3 3128.1 1810.9 3128.1 1812.4 3128.1 1814 3128.1 1815.5 3128.1 1817.1 3128.1 1818.6 3128.1 1820.2 3128.1 1821.7 3128.1 1823.2 3128.1 1824.8 3128.1 1826.3 3128.2 1827.9 3128.2 1829.4 3128.2 1831 3128.2 1832.5 3128.2 1834.1 3128.2 1835.6 3128.2 1837.2 3128.2 1838.7 3128.2 1840.2 3128.2 1841.8 3128.2 1843.3 3128.2 1844.9 3128.2 1846.4 3128.2 1848 3128.2 1849.5 3128.2 1851.1 3128.2 1852.6 3128.2 1854.2 3128.2 1855.7 3128.2 1857.2 3128.2 1858.8 3128.2 1860.3 3128.2 1861.9 3128.2 1863.4 3128.2 1865 3128.2 1866.5 3128.2 1868.1 3128.2 1869.6 3128.2 1871.2 3128.2 1872.7 3128.2 1874.3 3128.2 1875.8 3128.2 1877.3 3128.2 1878.9 3128.2 1880.4 3128.2 1882 3128.2 1883.5 3128.2 1885.1 3128.2 1886.6 3128.2 1888.2 3128.2 1889.7 3128.2 1891.3 3128.2 1892.8 3128.2 1894.3 3128.2 1895.9 3128.2 1897.4 3128.2 1899 3128.2 1900.5 3128.2 1902.1 3128.2 1903.6 3128.2 1905.2 3128.2 1906.7 3128.2 1908.3 3128.2 1909.8 3128.2 1911.4 3128.2 1912.9 3128.2 1914.4 3128.2 1916 3128.2 1917.5 3128.2 1919.1 3128.2 1920.6 3128.2 1922.2 3128.2 1923.7 3128.2 1925.3 3128.2 1926.8 3128.2 1928.4 3128.2 1929.9 3128.2 1931.5 3128.2 1933 3128.2 1934.5 3128.2 1936.1 3128.2 1937.6 3128.2 1939.2 3128.2 1940.7 3128.2 1942.3 3128.2 1943.8 3128.2 1945.4 3128.2 1946.9 3128.2 1948.5 3128.2 1950 3128.1 1951.6 3128.1 1953.1 3128.1 1954.6 3128.1 1956.2 3128.1 1957.7 3128.1 1959.3 3128.1 1960.8 3128.1 1962.4 3128.1 1963.9 3128.1 1965.5 3128.1 1967 3128.1 1968.6 3128.1 1970.1 3128.1 1971.7 3128.1 1973.2 3128.1 1974.7 3128.1 1976.3 3128.1 1977.8 3128.1 1979.4 3128.1 1980.9 3128.1 1982.5 3128.1 1984 3128.1 1985.6 3128.1 1987.1 3128.1 1988.7 3128.1 1990.2 3128.1 1991.8 3128.1 1993.3 3128.1 1994.8 3128.1 1996.4 3128.1 1997.9 3128.1 1999.5 3128.1 2001 3128.1 2002.6 3128.1 2004.1 3128.1 2005.7 3128.1 2007.2 3128.1 2008.8 3128.1 2010.3 3128 2011.9 3128 2013.4 3128 2014.9 3128 2016.5 3128 2018 3128 2019.6 3128 2021.1 3128 2022.7 3128 2024.2 3128 2025.8 3128 2027.3 3128 2028.9 3128 2030.4 3128 2032 3128 2033.5 3128 2035 3128 2036.6 3128 2038.1 3128 2039.7 3128 2041.2 3128 2042.8 3128 2044.3 3128 2045.9 3128 2047.4 3128 2049 3128 2050.5 3128 2052.1 3128 2053.6 3128 2055.1 3128 2056.7 3128 2058.2 3128 2059.8 3128 2061.3 3128 2062.9 3128 2064.4 3128 2066 3128 2067.5 3128 2069.1 3128 2070.6 3128 2072.2 3128 2073.7 3128 2075.2 3128 2076.8 3128 2078.3 3128 2079.9 3128 2081.4 3128 2083 3128 2084.5 3128 2086.1 3128 2087.6 3128 2089.2 3128 2090.7 3128 2092.2 3128 2093.8 3128 2095.3 3128 2096.9 3128 2098.4 3128 2100 3128 2101.5 3128 2103.1 3128 2104.6 3128 2106.2 3128 2107.7 3128.1 2109.3 3128.1 2110.8 3128.1 2112.3 3128.1 2113.9 3128.1 2115.4 3128.1 2117 3128.1 2118.5 3128.1 2120.1 3128.1 2121.6 3128.1 2123.2 3128.1 2124.7 3128.1 2126.3 3128.1 2127.8 3128.1 2127.8 3128.1" stroke="#ff0000"/><path d="M1328.3 2912.4L1328.4 2910.8 1328.5 2909.2 1328.7 2907.5 1329 2905.8 1329.3 2904.1 1329.7 2902.5 1330.2 2900.8 1330.7 2899.2 1331.3 2897.7 1332 2896.2 1332.7 2894.8 1333.5 2893.4 1334.3 2892.1 1335.3 2890.7 1336.4 2889.5 1337.5 2888.3 1338.7 2887.3 1340 2886.4 1341.4 2885.7 1342.9 2885.2 1344.5 2884.9 1346.1 2885 1347.8 2885.4 1349.2 2886 1350.6 2886.8 1352 2887.8 1353.2 2888.8 1354.4 2889.9 1355.5 2891.1 1356.6 2892.4 1357.6 2893.8 1358.5 2895.1 1359.3 2896.3 1360 2897.6 1360.8 2899 1361.5 2900.3 1362.1 2901.7 1362.8 2903.1 1363.4 2904.5 1364 2906 1364.5 2907.4 1365.1 2908.9 1365.6 2910.3 1366.1 2911.8 1366.6 2913.3 1367.1 2914.8 1367.5 2916.3 1368 2917.8 1368.5 2919.3 1368.9 2920.8 1369.4 2922.3 1369.9 2923.8 1370.3 2925.2 1370.8 2926.7 1371.2 2928.2 1371.7 2929.7 1372.1 2931.2 1372.6 2932.6 1373 2934.1 1373.5 2935.6 1373.9 2937 1374.4 2938.5 1374.8 2940 1375.3 2941.4 1375.7 2942.9 1376.1 2944.4 1376.6 2945.8 1377 2947.3 1377.5 2948.7 1377.9 2950.2 1378.3 2951.6 1378.8 2953.1 1379.2 2954.5 1379.6 2956 1380.1 2957.4 1380.5 2958.8 1380.9 2960.3 1381.4 2961.7 1381.8 2963.2 1382.3 2964.8 1382.8 2966.5 1383.3 2968.2 1383.8 2969.9 1384.3 2971.5 1384.8 2973.2 1385.3 2974.8 1385.8 2976.5 1386.3 2978.2 1386.8 2979.8 1387.3 2981.5 1387.9 2983.2 1388.4 2984.8 1388.9 2986.5 1389.4 2988.1 1389.9 2989.8 1390.4 2991.4 1390.9 2993.1 1391.4 2994.7 1392 2996.4 1392.5 2998 1393 2999.7 1393.5 3001.3 1394.1 3003 1394.6 3004.6 1395.1 3006.3 1395.6 3007.9 1396.2 3009.6 1396.7 3011.2 1397.3 3012.9 1397.8 3014.5 1398.3 3016.1 1398.9 3017.8 1399.4 3019.4 1400 3021.1 1400.6 3022.7 1401.1 3024.4 1401.7 3026 1402.2 3027.7 1402.8 3029.3 1403.4 3031 1404 3032.6 1404.6 3034.3 1405.1 3035.9 1405.7 3037.3 1406.2 3038.7 1406.7 3040.1 1407.2 3041.6 1407.7 3043 1408.2 3044.4 1408.8 3045.8 1409.3 3047.2 1409.8 3048.6 1410.4 3050.1 1410.9 3051.5 1411.4 3052.9 1412 3054.3 1412.5 3055.7 1413.1 3057.1 1413.7 3058.6 1414.2 3060 1414.8 3061.4 1415.4 3062.8 1416 3064.2 1416.5 3065.6 1417.1 3067 1417.7 3068.4 1418.3 3069.8 1418.9 3071.2 1419.5 3072.6 1420.2 3074 1420.8 3075.4 1421.4 3076.8 1422 3078.2 1422.7 3079.5 1423.3 3080.9 1424 3082.3 1424.6 3083.7 1425.3 3085 1426 3086.4 1426.6 3087.8 1427.3 3089.1 1428 3090.5 1428.7 3091.8 1429.4 3093.1 1430.1 3094.5 1430.9 3095.8 1431.6 3097.1 1432.3 3098.5 1433.1 3099.8 1433.8 3101.1 1434.6 3102.4 1435.3 3103.7 1436.1 3105 1436.9 3106.3 1437.7 3107.5 1438.5 3108.8 1439.3 3110.1 1440.2 3111.5 1441.2 3113 1442.2 3114.5 1443.2 3115.9 1444.2 3117.3 1445.2 3118.7 1446.2 3120.1 1447.2 3121.5 1448.3 3122.9 1449.3 3124.3 1450.4 3125.7 1451.5 3127 1452.6 3128.3 1453.7 3129.7 1454.8 3131 1456 3132.3 1457.2 3133.6 1458.3 3134.8 1459.5 3136.1 1460.7 3137.3 1461.9 3138.6 1463.2 3139.8 1464.4 3141 1465.7 3142.2 1467 3143.4 1468.3 3144.5 1469.6 3145.7 1470.9 3146.8 1472.2 3147.9 1473.6 3149 1475 3150 1476.4 3151.1 1477.8 3152.1 1479.2 3153.1 1480.6 3154.1 1482.1 3155.1 1483.5 3156 1485 3157 1486.5 3157.9 1488 3158.7 1489.6 3159.6 1491.1 3160.4 1492.5 3161.1 1493.8 3161.7 1495.2 3162.4 1496.5 3163 1497.9 3163.6 1499.3 3164.1 1500.7 3164.7 1502.1 3165.2 1503.6 3165.7 1505 3166.2 1506.5 3166.6 1507.9 3167 1509.4 3167.4 1510.9 3167.8 1512.4 3168.1 1513.9 3168.4 1515.4 3168.7 1516.9 3169 1518.4 3169.2 1519.9 3169.4 1521.5 3169.5 1523 3169.6 1524.5 3169.7 1526 3169.8 1527.5 3169.8 1529.1 3169.8 1530.6 3169.8 1532.1 3169.7 1533.6 3169.6 1535.1 3169.4 1536.6 3169.3 1538.3 3169 1540 3168.7 1541.7 3168.3 1543.4 3167.9 1545.1 3167.4 1546.7 3166.9 1548.4 3166.4 1550 3165.8 1551.7 3165.2 1553.3 3164.5 1554.9 3163.8 1556.5 3163.1 1557.8 3162.5 1559.2 3161.9 1560.6 3161.2 1561.9 3160.6 1563.3 3159.9 1564.6 3159.2 1566 3158.6 1567.3 3157.9 1568.7 3157.2 1570 3156.5 1571.4 3155.8 1572.8 3155.2 1574.1 3154.5 1575.5 3153.8 1576.8 3153.2 1578.2 3152.6 1579.6 3151.9 1581 3151.3 1582.3 3150.7 1583.7 3150.2 1585.1 3149.6 1586.5 3149.1 1588.2 3148.5 1589.8 3147.9 1591.5 3147.3 1593.1 3146.8 1594.8 3146.2 1596.5 3145.7 1598.1 3145.2 1599.8 3144.8 1601.5 3144.3 1603.2 3143.8 1604.9 3143.4 1606.6 3143 1608.3 3142.6 1610 3142.2 1611.7 3141.8 1613.2 3141.5 1614.6 3141.2 1616.1 3140.9 1617.6 3140.6 1619.1 3140.4 1620.5 3140.1 1622 3139.8 1623.5 3139.6 1625 3139.3 1626.5 3139.1 1627.9 3138.8 1629.4 3138.6 1630.9 3138.3 1632.4 3138.1 1633.9 3137.9 1635.4 3137.7 1636.8 3137.5 1638.3 3137.2 1639.8 3137 1641.3 3136.8 1642.8 3136.6 1644.3 3136.4 1645.8 3136.3 1647.3 3136.1 1649 3135.9 1650.7 3135.6 1652.5 3135.4 1654.2 3135.2 1655.9 3135.1 1657.7 3134.9 1659.4 3134.7 1661.2 3134.5 1662.9 3134.3 1664.7 3134.2 1666.4 3134 1668.1 3133.8 1669.9 3133.7 1671.6 3133.5 1673.4 3133.4 1675.1 3133.2 1676.9 3133.1 1678.6 3133 1680.3 3132.8 1682.1 3132.7 1683.8 3132.6 1685.6 3132.5 1687.1 3132.4 1688.6 3132.3 1690.1 3132.2 1691.6 3132.1 1693.1 3132 1694.6 3132 1696.1 3131.9 1697.6 3131.8 1699.1 3131.7 1700.6 3131.7 1702.1 3131.6 1703.6 3131.5 1705.1 3131.5 1706.6 3131.4 1708.1 3131.3 1709.6 3131.3 1711.1 3131.2 1712.6 3131.2 1714.1 3131.1 1715.6 3131.1 1717.1 3131 1718.6 3131 1720.1 3130.9 1721.6 3130.9 1723.1 3130.9 1724.6 3130.8 1726.1 3130.8 1727.6 3130.8 1729.1 3130.7 1730.6 3130.7 1732.1 3130.7 1733.6 3130.7 1735.1 3130.6 1736.6 3130.6 1738.1 3130.6 1739.6 3130.6 1741.1 3130.6 1742.6 3130.6 1744.1 3130.6 1745.6 3130.5 1747.1 3130.5 1748.6 3130.5 1750.1 3130.5 1751.7 3130.5 1753.2 3130.5 1754.7 3130.5 1756.2 3130.5 1757.7 3130.5 1759.2 3130.5 1760.7 3130.5 1762.2 3130.5 1763.7 3130.5 1765.2 3130.5 1766.7 3130.5 1768.2 3130.6 1769.7 3130.6 1771.2 3130.6 1772.7 3130.6 1774.2 3130.6 1775.8 3130.6 1777.3 3130.6 1778.8 3130.6 1780.3 3130.7 1781.8 3130.7 1783.3 3130.7 1784.8 3130.7 1786.3 3130.7 1787.8 3130.7 1789.3 3130.8 1790.8 3130.8 1792.3 3130.8 1793.8 3130.8 1795.3 3130.8 1796.9 3130.9 1798.4 3130.9 1799.9 3130.9 1801.4 3130.9 1802.9 3131 1804.4 3131 1805.9 3131 1807.4 3131 1808.9 3131 1810.4 3131.1 1811.9 3131.1 1813.4 3131.1 1814.9 3131.1 1816.4 3131.1 1818 3131.2 1819.5 3131.2 1821 3131.2 1822.5 3131.2 1824 3131.2 1825.5 3131.3 1827 3131.3 1828.5 3131.3 1830 3131.3 1831.5 3131.3 1833 3131.4 1834.5 3131.4 1836 3131.4 1837.5 3131.4 1839 3131.4 1840.5 3131.4 1842.1 3131.4 1843.6 3131.5 1845.1 3131.5 1846.6 3131.5 1848.1 3131.5 1849.6 3131.5 1851.1 3131.5 1852.6 3131.5 1854.1 3131.5 1855.6 3131.6 1857.1 3131.6 1858.6 3131.6 1860.1 3131.6 1861.6 3131.6 1863.1 3131.6 1864.6 3131.6 1866.1 3131.6 1867.6 3131.6 1869.2 3131.6 1870.7 3131.6 1872.2 3131.6 1873.7 3131.6 1875.2 3131.6 1876.7 3131.6 1878.2 3131.7 1879.7 3131.7 1881.2 3131.7 1882.7 3131.7 1884.2 3131.7 1885.7 3131.7 1887.2 3131.7 1888.7 3131.7 1890.2 3131.7 1891.7 3131.7 1893.2 3131.7 1894.7 3131.7 1896.2 3131.7 1897.7 3131.7 1899.2 3131.7 1900.7 3131.7 1902.2 3131.7 1903.7 3131.7 1905.3 3131.7 1906.8 3131.7 1908.3 3131.7 1909.8 3131.7 1911.3 3131.6 1912.8 3131.6 1914.3 3131.6 1915.8 3131.6 1917.3 3131.6 1918.8 3131.6 1920.3 3131.6 1921.8 3131.6 1923.3 3131.6 1924.8 3131.6 1926.3 3131.6 1927.8 3131.6 1929.3 3131.6 1930.8 3131.6 1932.3 3131.6 1933.8 3131.6 1935.3 3131.6 1936.8 3131.6 1938.3 3131.6 1939.8 3131.6 1941.3 3131.5 1942.8 3131.5 1944.3 3131.5 1945.8 3131.5 1947.3 3131.5 1948.8 3131.5 1950.3 3131.5 1951.9 3131.5 1953.4 3131.5 1954.9 3131.5 1956.4 3131.5 1957.9 3131.5 1959.4 3131.5 1960.9 3131.4 1962.4 3131.4 1963.9 3131.4 1965.4 3131.4 1966.9 3131.4 1968.4 3131.4 1969.9 3131.4 1971.4 3131.4 1972.9 3131.4 1974.4 3131.4 1975.9 3131.4 1977.4 3131.4 1978.9 3131.3 1980.4 3131.3 1981.9 3131.3 1983.4 3131.3 1984.9 3131.3 1986.4 3131.3 1987.9 3131.3 1989.4 3131.3 1990.9 3131.3 1992.4 3131.3 1993.9 3131.3 1995.4 3131.2 1996.9 3131.2 1998.4 3131.2 1999.9 3131.2 2001.4 3131.2 2002.9 3131.2 2004.5 3131.2 2006 3131.2 2007.5 3131.2 2009 3131.2 2010.5 3131.2 2012 3131.2 2013.5 3131.2 2015 3131.1 2016.5 3131.1 2018 3131.1 2019.5 3131.1 2021 3131.1 2022.5 3131.1 2024 3131.1 2025.5 3131.1 2027 3131.1 2028.5 3131.1 2030 3131.1 2031.5 3131.1 2033 3131.1 2034.5 3131.1 2036 3131.1 2037.5 3131.1 2039 3131 2040.5 3131 2042 3131 2043.5 3131 2045 3131 2046.5 3131 2048 3131 2049.5 3131 2051.1 3131 2052.6 3131 2054.1 3131 2055.6 3131 2057.1 3131 2058.6 3131 2060.1 3131 2061.6 3131 2063.1 3131 2064.6 3131 2066.1 3131 2067.6 3131 2069.1 3131 2070.6 3131 2072.1 3131 2073.6 3131 2075.1 3131 2076.6 3131 2078.1 3131 2079.6 3131 2081.1 3131 2082.6 3131 2084.1 3131 2085.6 3131 2087.2 3131 2088.7 3131 2090.2 3131 2091.7 3131.1 2093.2 3131.1 2094.7 3131.1 2096.2 3131.1 2097.7 3131.1 2099.2 3131.1 2100.7 3131.1 2102.2 3131.1 2103.7 3131.1 2105.2 3131.1 2106.7 3131.1 2108.2 3131.1 2109.7 3131.2 2111.2 3131.2 2112.7 3131.2 2114.2 3131.2 2115.8 3131.2 2117.3 3131.2 2118.8 3131.2 2120.3 3131.2 2121.8 3131.3 2123.3 3131.3 2124.8 3131.3 2126.3 3131.3 2127.8 3131.3 2127.8 3131.3" stroke="#000000"/></g><g fill="none" stroke="#000" stroke-width="3"><rect x="1327.8" y="2810.4" width="801" height="645.4"/><path d="M1308.3 3455.8H1327.8M1308.3 3348.2H1327.8M1308.3 3240.7H1327.8M1308.3 3133.1H1327.8M1308.3 3025.5H1327.8M1308.3 2918H1327.8M1308.3 2810.4H1327.8M1327.8 3455.8V3474.8M1691.8 3455.8V3474.8M2055.9 3455.8V3474.8"/></g><g font-size="51"><text x="1277.3" y="3473.3" text-anchor="end" textLength="73.4" lengthAdjust="spacingAndGlyphs">-90</text><text x="1277.3" y="3365.7" text-anchor="end" textLength="73.4" lengthAdjust="spacingAndGlyphs">-60</text><text x="1277.3" y="3258.2" text-anchor="end" textLength="73.4" lengthAdjust="spacingAndGlyphs">-30</text><text x="1277.3" y="3150.6" text-anchor="end" textLength="27.4" lengthAdjust="spacingAndGlyphs">0</text><text x="1277.3" y="3043" text-anchor="end" textLength="54.8" lengthAdjust="spacingAndGlyphs">30</text><text x="1277.3" y="2935.5" text-anchor="end" textLength="54.8" lengthAdjust="spacingAndGlyphs">60</text><text x="1277.3" y="2827.9" text-anchor="end" textLength="54.8" lengthAdjust="spacingAndGlyphs">90</text><text x="1328.8" y="3546.7" text-anchor="middle" textLength="82.2" lengthAdjust="spacingAndGlyphs">190</text><text x="1692.8" y="3546.7" text-anchor="middle" textLength="82.2" lengthAdjust="spacingAndGlyphs">240</text><text x="2056.9" y="3546.7" text-anchor="middle" textLength="82.2" lengthAdjust="spacingAndGlyphs">290</text></g><text class="b" x="1497.6" y="3601.5" font-size="58" textLength="453.9" lengthAdjust="spacingAndGlyphs">Wavelength (nm)</text><text class="b" transform="translate(1168.3 3295.2) rotate(-90)" font-size="57" textLength="276" lengthAdjust="spacingAndGlyphs">CD (mdeg)</text><g stroke-width="5.6"><path d="M1866.8 2847.7H1950.8" stroke="#ff0000"/><path d="M1866.8 2923.2H1950.8" stroke="#000"/></g><g font-size="38.3"><text x="1955.4" y="2858.7" textLength="140.5" lengthAdjust="spacingAndGlyphs">2D_Er-L</text><text x="1955.4" y="2937.1" textLength="146.7" lengthAdjust="spacingAndGlyphs">2D_Er-D</text></g></g>
<g><g fill="none" stroke-width="5.5" stroke-linejoin="round" stroke-linecap="butt"><path d="M257.3 4190L257.1 4191.5 256.9 4193.3 256.8 4195 256.7 4196.7 256.6 4198.4 256.5 4200.1 256.5 4201.8 256.4 4203.4 256.4 4205 256.5 4206.6 256.5 4208.2 256.6 4209.8 256.6 4211.4 256.7 4212.9 256.8 4214.5 257 4216 257.1 4217.5 257.2 4219 257.4 4220.5 257.6 4222.1 257.7 4223.6 257.9 4225.1 258.1 4226.6 258.3 4228.1 258.5 4229.6 258.7 4231.1 258.9 4232.6 259.1 4234.1 259.3 4235.6 259.5 4237.1 259.7 4238.7 259.9 4240.2 260 4241.8 260.2 4243.4 260.4 4244.9 260.5 4246.5 260.7 4248.2 260.8 4249.8 260.9 4251.4 261 4253.1 261.2 4254.8 261.3 4256.5 261.4 4258.2 261.5 4259.9 261.6 4261.6 261.8 4263.3 262 4265 262.2 4266.6 262.4 4268.3 262.6 4270 262.9 4271.6 263.2 4273.3 263.5 4274.9 263.9 4276.5 264.4 4278.1 264.8 4279.6 265.4 4281.1 266 4282.6 266.6 4284.1 267.3 4285.5 268.1 4286.9 269 4288.2 269.9 4289.5 270.9 4290.8 271.9 4292 273 4293 274.4 4293.9 275.9 4294.6 277.4 4294.7 278.9 4294.3 280.3 4293.3 281.5 4292.1 282.5 4290.9 283.4 4289.7 284.3 4288.3 285.2 4287 286 4285.6 286.8 4284.3 287.6 4282.9 288.3 4281.4 289 4280 289.6 4278.5 290.3 4277.1 290.9 4275.6 291.4 4274.1 292 4272.6 292.5 4271.1 293 4269.6 293.5 4268 294 4266.5 294.5 4264.9 294.9 4263.4 295.4 4261.8 295.8 4260.3 296.2 4258.7 296.6 4257.1 297 4255.6 297.5 4254 297.9 4252.4 298.3 4250.9 298.7 4249.3 299.1 4247.7 299.5 4246.2 299.9 4244.6 300.2 4243 300.6 4241.5 301 4239.9 301.4 4238.3 301.8 4236.8 302.2 4235.2 302.6 4233.6 303 4232.1 303.3 4230.5 303.7 4228.9 304.1 4227.4 304.5 4225.8 304.9 4224.3 305.2 4222.7 305.6 4221.1 306 4219.6 306.4 4218 306.8 4216.4 307.1 4214.9 307.5 4213.3 307.9 4211.8 308.3 4210.2 308.7 4208.7 309.1 4207.1 309.4 4205.5 309.8 4204 310.2 4202.4 310.6 4200.9 311 4199.3 311.4 4197.8 311.8 4196.2 312.2 4194.7 312.6 4193.1 313 4191.6 313.4 4190 313.8 4188.5 314.2 4187 314.6 4185.4 315 4183.9 315.4 4182.3 315.9 4180.8 316.3 4179.3 316.7 4177.7 317.1 4176.2 317.6 4174.6 318 4173.1 318.4 4171.6 318.9 4170.1 319.3 4168.5 319.8 4167 320.2 4165.5 320.7 4163.9 321.2 4162.4 321.6 4160.9 322.1 4159.4 322.6 4157.9 323.1 4156.4 323.6 4154.8 324.1 4153.3 324.6 4151.8 325.1 4150.3 325.6 4148.8 326.1 4147.3 326.6 4145.8 327.2 4144.3 327.7 4142.8 328.2 4141.3 328.8 4139.8 329.3 4138.3 329.9 4136.8 330.5 4135.3 331 4133.8 331.6 4132.3 332.2 4130.8 332.8 4129.4 333.4 4127.9 334 4126.4 334.7 4124.9 335.3 4123.5 335.9 4122 336.6 4120.5 337.2 4119.1 337.9 4117.6 338.5 4116.1 339.2 4114.7 339.9 4113.2 340.6 4111.8 341.3 4110.4 342 4108.9 342.7 4107.5 343.4 4106.1 344.1 4104.6 344.9 4103.2 345.6 4101.8 346.4 4100.4 347.2 4099 347.9 4097.6 348.7 4096.2 349.5 4094.8 350.3 4093.4 351.1 4092.1 352 4090.7 352.8 4089.3 353.6 4088 354.5 4086.6 355.3 4085.3 356.2 4084 357.1 4082.6 358 4081.3 358.9 4080 359.8 4078.7 360.7 4077.4 361.6 4076.1 362.6 4074.8 363.5 4073.6 364.5 4072.3 365.5 4071 366.4 4069.8 367.4 4068.6 368.4 4067.3 369.5 4066.1 370.5 4064.9 371.5 4063.7 372.6 4062.5 373.6 4061.3 374.7 4060.2 375.8 4059 376.9 4057.9 378 4056.7 379.1 4055.6 380.2 4054.5 381.4 4053.4 382.5 4052.3 383.7 4051.2 384.8 4050.1 386 4049.1 387.2 4048 388.4 4047 389.7 4046 390.9 4044.9 392.1 4043.9 393.4 4043 394.7 4042 396 4041 397.3 4040.1 398.6 4039.1 399.9 4038.2 401.2 4037.3 402.6 4036.4 403.9 4035.5 405.3 4034.7 406.6 4033.8 408 4033 409.4 4032.1 410.8 4031.3 412.2 4030.5 413.6 4029.8 415 4029 416.5 4028.2 417.9 4027.5 419.4 4026.8 420.8 4026.1 422.3 4025.4 423.7 4024.7 425.2 4024.1 426.7 4023.4 428.1 4022.8 429.6 4022.2 431.1 4021.6 432.6 4021 434.1 4020.5 435.6 4019.9 437.1 4019.4 438.6 4018.9 440.1 4018.4 441.6 4018 443.2 4017.5 444.7 4017.1 446.2 4016.7 447.7 4016.3 449.3 4015.9 450.8 4015.6 452.3 4015.3 453.9 4014.9 455.4 4014.7 457 4014.4 458.5 4014.2 460 4014 461.6 4013.8 463.1 4013.6 464.7 4013.4 466.3 4013.3 467.8 4013.2 469.4 4013.1 470.9 4013.1 472.5 4013.1 474 4013.1 475.6 4013.1 477.1 4013.1 478.7 4013.2 480.3 4013.3 481.8 4013.4 483.4 4013.6 484.9 4013.8 486.5 4014 488.1 4014.2 489.6 4014.4 491.2 4014.6 492.7 4014.9 494.3 4015.2 495.9 4015.5 497.4 4015.8 499 4016.1 500.5 4016.4 502.1 4016.8 503.7 4017.1 505.2 4017.5 506.8 4017.9 508.4 4018.3 509.9 4018.7 511.5 4019 513.1 4019.4 514.6 4019.8 516.2 4020.2 517.8 4020.7 519.3 4021.1 520.9 4021.5 522.5 4021.9 524 4022.3 525.6 4022.7 527.2 4023.1 528.7 4023.5 530.3 4023.8 531.9 4024.2 533.5 4024.6 535 4024.9 536.6 4025.3 538.2 4025.6 539.7 4026 541.3 4026.3 542.9 4026.6 544.5 4026.9 546 4027.1 547.6 4027.4 549.2 4027.6 550.8 4027.9 552.4 4028.1 553.9 4028.3 555.5 4028.5 557.1 4028.6 558.7 4028.8 560.3 4028.9 561.8 4029.1 563.4 4029.2 565 4029.3 566.6 4029.4 568.2 4029.5 569.8 4029.6 571.3 4029.7 572.9 4029.8 574.5 4029.8 576.1 4029.9 577.7 4029.9 579.3 4030 580.9 4030 582.4 4030.1 584 4030.1 585.6 4030.1 587.2 4030.1 588.8 4030.1 590.4 4030.1 592 4030.1 593.6 4030.1 595.2 4030.1 596.7 4030.1 598.3 4030.1 599.9 4030.1 601.5 4030.1 603.1 4030.1 604.7 4030.1 606.3 4030.1 607.9 4030 609.5 4030 611.1 4030 612.7 4030 614.3 4030 615.8 4030 617.4 4030 619 4030 620.6 4030 622.2 4030 623.8 4030 625.4 4030 627 4030 628.6 4030 630.2 4030 631.8 4030 633.4 4030.1 635 4030.1 636.6 4030.1 638.2 4030.1 639.8 4030.1 641.3 4030.1 642.9 4030.1 644.5 4030.1 646.1 4030.2 647.7 4030.2 649.3 4030.2 650.9 4030.2 652.5 4030.2 654.1 4030.3 655.7 4030.3 657.3 4030.3 658.9 4030.3 660.5 4030.3 662.1 4030.4 663.7 4030.4 665.3 4030.4 666.9 4030.4 668.5 4030.5 670.1 4030.5 671.7 4030.5 673.3 4030.6 674.9 4030.6 676.5 4030.6 678.1 4030.6 679.7 4030.7 681.2 4030.7 682.8 4030.7 684.4 4030.8 686 4030.8 687.6 4030.8 689.2 4030.9 690.8 4030.9 692.4 4030.9 694 4031 695.6 4031 697.2 4031 698.8 4031.1 700.4 4031.1 702 4031.1 703.6 4031.2 705.2 4031.2 706.8 4031.2 708.4 4031.3 710 4031.3 711.6 4031.3 713.2 4031.4 714.8 4031.4 716.4 4031.4 718 4031.5 719.6 4031.5 721.2 4031.5 722.8 4031.6 724.4 4031.6 726 4031.6 727.6 4031.7 729.2 4031.7 730.8 4031.7 732.4 4031.8 734 4031.8 735.6 4031.8 737.2 4031.9 738.8 4031.9 740.4 4031.9 742 4032 743.6 4032 745.2 4032 746.8 4032 748.4 4032.1 750 4032.1 751.6 4032.1 753.2 4032.2 754.8 4032.2 756.4 4032.2 758 4032.2 759.6 4032.3 761.2 4032.3 762.8 4032.3 764.4 4032.3 766 4032.3 767.6 4032.4 769.2 4032.4 770.8 4032.4 772.4 4032.4 774 4032.4 775.6 4032.4 777.2 4032.5 778.7 4032.5 780.3 4032.5 781.9 4032.5 783.5 4032.5 785.1 4032.5 786.7 4032.5 788.3 4032.6 789.9 4032.6 791.5 4032.6 793.1 4032.6 794.7 4032.6 796.3 4032.6 797.9 4032.6 799.5 4032.6 801.1 4032.6 802.7 4032.6 804.3 4032.7 805.9 4032.7 807.5 4032.7 809.1 4032.7 810.7 4032.7 812.3 4032.7 813.9 4032.7 815.5 4032.7 817.1 4032.7 818.7 4032.7 820.3 4032.7 821.9 4032.7 823.5 4032.7 825.1 4032.7 826.7 4032.7 828.3 4032.7 829.9 4032.7 831.5 4032.7 833.1 4032.7 834.7 4032.7 836.3 4032.7 837.9 4032.7 839.5 4032.7 841.1 4032.7 842.7 4032.7 844.3 4032.7 845.9 4032.7 847.5 4032.7 849.1 4032.7 850.7 4032.7 852.3 4032.7 853.9 4032.6 855.5 4032.6 857.1 4032.6 858.7 4032.6 860.2 4032.6 861.8 4032.6 863.4 4032.6 865 4032.6 866.6 4032.6 868.2 4032.6 869.8 4032.6 871.4 4032.6 873 4032.6 874.6 4032.6 876.2 4032.5 877.8 4032.5 879.4 4032.5 881 4032.5 882.6 4032.5 884.2 4032.5 885.8 4032.5 887.4 4032.5 889 4032.5 890.6 4032.5 892.2 4032.5 893.8 4032.4 895.4 4032.4 897 4032.4 898.6 4032.4 900.2 4032.4 901.8 4032.4 903.4 4032.4 905 4032.4 906.6 4032.4 908.2 4032.4 909.8 4032.3 911.4 4032.3 913 4032.3 914.6 4032.3 916.2 4032.3 917.8 4032.3 919.4 4032.3 921 4032.3 922.6 4032.3 924.2 4032.3 925.8 4032.2 927.4 4032.2 929 4032.2 930.5 4032.2 932.1 4032.2 933.7 4032.2 935.3 4032.2 936.9 4032.2 938.5 4032.2 940.1 4032.2 941.7 4032.2 943.3 4032.1 944.9 4032.1 946.5 4032.1 948.1 4032.1 949.7 4032.1 951.3 4032.1 952.9 4032.1 954.5 4032.1 956.1 4032.1 957.7 4032.1 959.3 4032.1 960.9 4032.1 962.5 4032.1 964.1 4032 965.7 4032 967.3 4032 968.9 4032 970.5 4032 972.1 4032 973.7 4032 975.3 4032 976.9 4032 978.5 4032 980.1 4032 981.7 4032 983.3 4032 984.9 4032 986.5 4032 988.1 4032 989.7 4032 991.3 4032 992.9 4032 994.5 4032 996.1 4032 997.7 4032 999.3 4032 1000.9 4032 1002.5 4032 1004.1 4032 1005.6 4032 1007.2 4032 1008.8 4032 1010.4 4032 1012 4032 1013.6 4032 1015.2 4032 1016.8 4032 1018.4 4032 1020 4032 1021.6 4032.1 1023.2 4032.1 1024.8 4032.1 1026.4 4032.1 1028 4032.1 1029.6 4032.1 1031.2 4032.1 1032.8 4032.1 1034.4 4032.1 1036 4032.1 1037.6 4032.2 1039.2 4032.2 1040.8 4032.2 1042.4 4032.2 1044 4032.2 1045.6 4032.2 1047.2 4032.3 1048.8 4032.3 1050.4 4032.3 1052 4032.3 1053.6 4032.3 1053.6 4032.3" stroke="#ff0000"/><path d="M257.3 3839.1L257.9 3837.7 258.3 3836.1 258.5 3834.5 258.7 3833 258.9 3831.3 259 3829.8 259.1 3828.1 259.3 3826.5 259.4 3824.7 259.5 3822.9 259.6 3821.4 259.8 3819.9 259.9 3818.3 260 3816.8 260.2 3815.2 260.4 3813.6 260.6 3812.1 260.8 3810.6 261.1 3809.1 261.4 3807.3 261.8 3805.6 262.3 3804 262.8 3802.4 263.4 3801 264 3799.6 264.8 3798.1 265.7 3796.9 266.8 3795.7 268 3794.7 269.4 3793.9 270.8 3793.3 272.3 3793.1 273.9 3793 275.4 3793.3 277 3793.8 278.5 3794.5 279.8 3795.3 281.1 3796.3 282.4 3797.3 283.6 3798.5 284.7 3799.8 285.8 3801.1 286.8 3802.4 287.7 3803.9 288.5 3805.3 289.3 3806.9 290.1 3808.4 290.8 3810 291.3 3811.4 291.9 3812.8 292.4 3814.2 292.8 3815.7 293.3 3817.1 293.8 3818.6 294.2 3820.1 294.6 3821.6 295 3823 295.5 3824.5 295.9 3826 296.3 3827.5 296.7 3828.9 297.1 3830.4 297.5 3831.9 297.9 3833.3 298.3 3834.8 298.6 3836.3 299 3837.7 299.4 3839.2 299.8 3840.6 300.2 3842.1 300.5 3843.6 300.9 3845 301.3 3846.5 301.7 3848.2 302.1 3849.9 302.6 3851.6 303 3853.2 303.4 3854.9 303.8 3856.6 304.2 3858.3 304.7 3860 305.1 3861.7 305.5 3863.4 305.9 3865 306.3 3866.7 306.8 3868.4 307.2 3870.1 307.6 3871.7 308 3873.4 308.5 3875.1 308.9 3876.7 309.3 3878.4 309.7 3880.1 310.2 3881.7 310.6 3883.4 311 3885 311.5 3886.7 311.9 3888.3 312.4 3890 312.8 3891.6 313.3 3893.3 313.7 3894.9 314.2 3896.6 314.6 3898.2 315.1 3899.9 315.6 3901.5 316.1 3903.2 316.6 3904.8 317.1 3906.4 317.5 3908.1 318.1 3909.7 318.6 3911.4 319.1 3913 319.6 3914.6 320.1 3916.2 320.7 3917.9 321.2 3919.5 321.8 3921.1 322.3 3922.7 322.9 3924.4 323.5 3926 324.1 3927.6 324.7 3929.2 325.3 3930.8 325.9 3932.5 326.5 3934.1 327.2 3935.7 327.8 3937.3 328.5 3938.9 329.1 3940.5 329.8 3942.1 330.5 3943.7 331.2 3945.2 331.9 3946.8 332.6 3948.4 333.4 3949.9 334.1 3951.5 334.9 3953.1 335.7 3954.6 336.5 3956.1 337.3 3957.6 338.1 3959.2 338.9 3960.7 339.8 3962.2 340.7 3963.6 341.5 3965.1 342.4 3966.6 343.4 3968 344.3 3969.5 345.2 3970.9 346.2 3972.3 347.2 3973.7 348.2 3975.1 349.2 3976.5 350.2 3977.9 351.3 3979.2 352.4 3980.5 353.5 3981.9 354.6 3983.2 355.7 3984.5 356.8 3985.7 358 3987 359.2 3988.2 360.4 3989.4 361.6 3990.6 362.9 3991.8 364.2 3993 365.5 3994.1 366.8 3995.3 368.1 3996.4 369.5 3997.5 370.8 3998.5 372.2 3999.6 373.6 4000.7 375 4001.7 376.2 4002.6 377.4 4003.5 378.6 4004.4 379.9 4005.2 381.1 4006.1 382.5 4007.1 383.9 4008.2 385.3 4009.2 386.7 4010.2 388.1 4011.2 389.5 4012.3 390.9 4013.3 392.3 4014.4 393.6 4015.4 395 4016.5 396.3 4017.6 397.6 4018.7 398.9 4019.7 400.2 4020.8 401.5 4021.9 402.7 4022.9 404.1 4024 405.4 4025 406.7 4025.9 408.1 4026.8 409.5 4027.7 410.9 4028.5 412.4 4029.2 413.8 4030 415.3 4030.7 416.8 4031.4 418.4 4032 419.9 4032.7 421.5 4033.3 423.1 4034 424.7 4034.6 426.3 4035.3 427.9 4036 429.5 4036.6 430.9 4037.3 432.2 4037.9 433.6 4038.5 435 4039.2 436.4 4039.8 437.8 4040.4 439.2 4041.1 440.6 4041.7 442 4042.3 443.4 4042.9 444.8 4043.5 446.2 4044.1 447.6 4044.6 449.3 4045.2 450.9 4045.7 452.6 4046.2 454.2 4046.6 455.9 4047 457.6 4047.3 459.2 4047.5 460.9 4047.6 462.6 4047.7 464.3 4047.7 465.9 4047.6 467.6 4047.5 469.3 4047.3 471 4047.1 472.7 4046.9 474.4 4046.6 476.1 4046.3 477.8 4045.9 479.5 4045.6 481.2 4045.2 482.9 4044.8 484.6 4044.4 486.3 4044 488 4043.7 489.7 4043.3 491.4 4042.9 493.1 4042.6 494.8 4042.2 496.5 4041.9 498.2 4041.6 499.9 4041.3 501.6 4041 503.3 4040.7 505 4040.4 506.8 4040.1 508.5 4039.9 510.2 4039.6 511.9 4039.4 513.6 4039.2 515.3 4038.9 517 4038.7 518.7 4038.5 520.4 4038.3 522.1 4038.1 523.9 4037.9 525.6 4037.8 527.3 4037.6 529 4037.4 530.7 4037.3 532.4 4037.1 534.1 4037 535.8 4036.8 537.6 4036.7 539.3 4036.5 541 4036.4 542.7 4036.3 544.4 4036.2 546.1 4036.1 547.9 4035.9 549.6 4035.8 551.3 4035.7 553 4035.6 554.7 4035.5 556.4 4035.4 558.2 4035.3 559.9 4035.2 561.6 4035.1 563.3 4035 565 4034.9 566.7 4034.9 568.5 4034.8 570.2 4034.7 571.9 4034.6 573.6 4034.5 575.3 4034.4 577.1 4034.3 578.8 4034.3 580.5 4034.2 582.2 4034.1 583.9 4034 585.7 4034 587.4 4033.9 589.1 4033.8 590.8 4033.8 592.5 4033.7 594.3 4033.6 596 4033.6 597.7 4033.5 599.4 4033.4 601.1 4033.4 602.9 4033.3 604.6 4033.3 606.3 4033.2 608 4033.2 609.8 4033.1 611.5 4033.1 613.2 4033 614.9 4033 616.6 4032.9 618.4 4032.9 620.1 4032.8 621.8 4032.8 623.5 4032.7 625.3 4032.7 627 4032.7 628.7 4032.6 630.4 4032.6 632.2 4032.5 633.9 4032.5 635.6 4032.5 637.3 4032.4 639.1 4032.4 640.8 4032.4 642.5 4032.3 644.2 4032.3 646 4032.3 647.7 4032.3 649.4 4032.2 651.1 4032.2 652.9 4032.2 654.6 4032.2 656.3 4032.1 658 4032.1 659.8 4032.1 661.5 4032.1 663.2 4032 664.9 4032 666.7 4032 668.4 4032 670.1 4032 671.8 4032 673.6 4031.9 675.3 4031.9 677 4031.9 678.8 4031.9 680.5 4031.9 682.2 4031.9 683.9 4031.9 685.7 4031.9 687.4 4031.9 689.1 4031.8 690.8 4031.8 692.6 4031.8 694.3 4031.8 696 4031.8 697.8 4031.8 699.5 4031.8 701.2 4031.8 702.9 4031.8 704.7 4031.8 706.4 4031.8 708.1 4031.8 709.8 4031.8 711.6 4031.8 713.3 4031.8 715 4031.8 716.8 4031.8 718.5 4031.8 720.2 4031.8 721.9 4031.8 723.7 4031.8 725.4 4031.8 727.1 4031.8 728.8 4031.8 730.6 4031.8 732.3 4031.8 734 4031.8 735.8 4031.8 737.5 4031.8 739.2 4031.8 740.9 4031.8 742.7 4031.8 744.4 4031.8 746.1 4031.8 747.8 4031.8 749.6 4031.8 751.3 4031.8 753 4031.8 754.8 4031.8 756.5 4031.8 758.2 4031.8 759.9 4031.8 761.7 4031.8 763.4 4031.8 765.1 4031.8 766.8 4031.8 768.6 4031.8 770.3 4031.8 772 4031.8 773.8 4031.8 775.5 4031.8 777.2 4031.8 778.9 4031.8 780.7 4031.8 782.4 4031.8 784.1 4031.8 785.8 4031.8 787.6 4031.8 789.3 4031.8 791 4031.8 792.7 4031.8 794.5 4031.8 796.2 4031.8 797.9 4031.8 799.7 4031.8 801.4 4031.8 803.1 4031.8 804.8 4031.8 806.6 4031.8 808.3 4031.8 810 4031.8 811.7 4031.8 813.5 4031.8 815.2 4031.8 816.9 4031.8 818.6 4031.8 820.4 4031.8 822.1 4031.8 823.8 4031.8 825.5 4031.8 827.3 4031.8 829 4031.8 830.7 4031.8 832.4 4031.8 834.2 4031.8 835.9 4031.8 837.6 4031.8 839.3 4031.8 841.1 4031.8 842.8 4031.8 844.5 4031.8 846.3 4031.8 848 4031.7 849.7 4031.7 851.4 4031.7 853.2 4031.7 854.9 4031.7 856.6 4031.7 858.3 4031.7 860.1 4031.7 861.8 4031.7 863.5 4031.7 865.2 4031.7 867 4031.7 868.7 4031.7 870.4 4031.7 872.1 4031.7 873.9 4031.7 875.6 4031.7 877.3 4031.7 879 4031.7 880.8 4031.7 882.5 4031.7 884.2 4031.7 885.9 4031.7 887.7 4031.7 889.4 4031.7 891.1 4031.7 892.8 4031.7 894.6 4031.7 896.3 4031.7 898 4031.7 899.7 4031.7 901.5 4031.7 903.2 4031.7 904.9 4031.7 906.6 4031.7 908.4 4031.7 910.1 4031.7 911.8 4031.7 913.5 4031.7 915.3 4031.7 917 4031.7 918.7 4031.7 920.4 4031.7 922.2 4031.7 923.9 4031.7 925.6 4031.7 927.3 4031.7 929.1 4031.7 930.8 4031.7 932.5 4031.7 934.2 4031.7 936 4031.7 937.7 4031.7 939.4 4031.7 941.2 4031.7 942.9 4031.7 944.6 4031.7 946.3 4031.7 948.1 4031.7 949.8 4031.7 951.5 4031.7 953.2 4031.6 955 4031.6 956.7 4031.6 958.4 4031.6 960.1 4031.6 961.9 4031.6 963.6 4031.6 965.3 4031.6 967 4031.6 968.8 4031.6 970.5 4031.6 972.2 4031.6 973.9 4031.6 975.7 4031.6 977.4 4031.6 979.1 4031.6 980.8 4031.6 982.6 4031.6 984.3 4031.6 986 4031.6 987.7 4031.6 989.5 4031.6 991.2 4031.6 992.9 4031.6 994.6 4031.6 996.4 4031.6 998.1 4031.6 999.8 4031.6 1001.6 4031.6 1003.3 4031.6 1005 4031.6 1006.7 4031.6 1008.5 4031.6 1010.2 4031.6 1011.9 4031.6 1013.6 4031.7 1015.4 4031.7 1017.1 4031.7 1018.8 4031.7 1020.5 4031.7 1022.3 4031.7 1024 4031.7 1025.7 4031.7 1027.4 4031.7 1029.2 4031.7 1030.9 4031.7 1032.6 4031.7 1034.4 4031.7 1036.1 4031.7 1037.8 4031.7 1039.5 4031.7 1041.3 4031.7 1043 4031.7 1044.7 4031.7 1046.4 4031.7 1048.2 4031.7 1049.9 4031.7 1051.6 4031.7 1053.4 4031.7 1053.6 4031.7" stroke="#000000"/></g><g fill="none" stroke="#000" stroke-width="3"><rect x="256.8" y="3702.2" width="797.8" height="653.3"/><path d="M237.3 4355.5H256.8M237.3 4273.8H256.8M237.3 4192.2H256.8M237.3 4110.5H256.8M237.3 4028.8H256.8M237.3 3947.2H256.8M237.3 3865.5H256.8M237.3 3783.9H256.8M237.3 3702.2H256.8M256.8 4355.5V4374.5M620.8 4355.5V4374.5M984.8 4355.5V4374.5"/></g><g font-size="51"><text x="204.4" y="4373" text-anchor="end" textLength="100.8" lengthAdjust="spacingAndGlyphs">-100</text><text x="204.4" y="4291.3" text-anchor="end" textLength="73.4" lengthAdjust="spacingAndGlyphs">-75</text><text x="204.4" y="4209.7" text-anchor="end" textLength="73.4" lengthAdjust="spacingAndGlyphs">-50</text><text x="204.4" y="4128" text-anchor="end" textLength="73.4" lengthAdjust="spacingAndGlyphs">-25</text><text x="204.4" y="4046.3" text-anchor="end" textLength="27.4" lengthAdjust="spacingAndGlyphs">0</text><text x="204.4" y="3964.7" text-anchor="end" textLength="54.8" lengthAdjust="spacingAndGlyphs">25</text><text x="204.4" y="3883" text-anchor="end" textLength="54.8" lengthAdjust="spacingAndGlyphs">50</text><text x="204.4" y="3801.4" text-anchor="end" textLength="54.8" lengthAdjust="spacingAndGlyphs">75</text><text x="204.4" y="3719.7" text-anchor="end" textLength="82.2" lengthAdjust="spacingAndGlyphs">100</text><text x="257.8" y="4446.7" text-anchor="middle" textLength="82.2" lengthAdjust="spacingAndGlyphs">190</text><text x="621.8" y="4446.7" text-anchor="middle" textLength="82.2" lengthAdjust="spacingAndGlyphs">240</text><text x="985.8" y="4446.7" text-anchor="middle" textLength="82.2" lengthAdjust="spacingAndGlyphs">290</text></g><text class="b" x="428.5" y="4513.9" font-size="58" textLength="454" lengthAdjust="spacingAndGlyphs">Wavelength (nm)</text><text class="b" transform="translate(100.4 4191.2) rotate(-90)" font-size="57" textLength="275.9" lengthAdjust="spacingAndGlyphs">CD (mdeg)</text><g stroke-width="5.6"><path d="M780.7 3743.1H864.7" stroke="#ff0000"/><path d="M780.7 3821.8H864.7" stroke="#000"/></g><g font-size="38.3"><text x="869" y="3757.7" textLength="157.2" lengthAdjust="spacingAndGlyphs">2D_Tm-L</text><text x="869" y="3835.9" textLength="163.5" lengthAdjust="spacingAndGlyphs">2D_Tm-D</text></g></g>
<g><g fill="none" stroke-width="5.5" stroke-linejoin="round" stroke-linecap="butt"><path d="M1328.3 4240.9L1328.5 4242.5 1328.7 4244.1 1328.8 4245.6 1328.9 4247.4 1329.1 4249 1329.2 4250.8 1329.4 4252.4 1329.6 4254 1329.7 4255.7 1329.9 4257.4 1330.2 4259.1 1330.4 4260.8 1330.7 4262.6 1331 4264.3 1331.3 4266 1331.6 4267.7 1332 4269.3 1332.4 4270.9 1332.9 4272.4 1333.4 4273.8 1334 4275.4 1334.7 4276.9 1335.5 4278.3 1336.5 4279.5 1337.7 4280.6 1339.1 4281.3 1340.6 4281.5 1342.2 4281.2 1343.7 4280.6 1345.1 4279.8 1346.3 4278.8 1347.6 4277.8 1348.7 4276.7 1349.9 4275.6 1351 4274.4 1352.1 4273.2 1353.1 4271.9 1354.1 4270.7 1355 4269.3 1356 4268 1356.9 4266.6 1357.7 4265.2 1358.6 4263.8 1359.4 4262.3 1360.2 4260.8 1360.9 4259.3 1361.7 4257.8 1362.4 4256.2 1363 4254.6 1363.7 4253 1364.3 4251.4 1364.9 4250 1365.4 4248.6 1365.9 4247.2 1366.4 4245.7 1366.9 4244.3 1367.3 4242.8 1367.8 4241.3 1368.2 4239.9 1368.6 4238.4 1369.1 4236.9 1369.5 4235.4 1369.9 4233.9 1370.3 4232.4 1370.7 4230.9 1371.1 4229.4 1371.4 4227.9 1371.8 4226.3 1372.2 4224.8 1372.5 4223.3 1372.9 4221.8 1373.3 4220.3 1373.6 4218.8 1374 4217.2 1374.3 4215.7 1374.7 4214.2 1375 4212.7 1375.3 4211.2 1375.7 4209.7 1376 4208.2 1376.4 4206.7 1376.7 4205.2 1377 4203.7 1377.4 4202.2 1377.7 4200.7 1378 4199.2 1378.4 4197.7 1378.7 4196.2 1379 4194.7 1379.3 4193.2 1379.7 4191.7 1380 4190.2 1380.3 4188.7 1380.7 4187.2 1381 4185.7 1381.3 4184.3 1381.7 4182.8 1382 4181.3 1382.3 4179.8 1382.7 4178.3 1383 4176.9 1383.4 4175.4 1383.7 4173.9 1384 4172.4 1384.4 4171 1384.7 4169.5 1385.1 4168 1385.5 4166.6 1385.8 4165.1 1386.2 4163.7 1386.5 4162.2 1386.9 4160.8 1387.4 4159.1 1387.8 4157.4 1388.2 4155.7 1388.7 4154 1389.2 4152.3 1389.6 4150.6 1390.1 4149 1390.6 4147.3 1391.1 4145.6 1391.5 4143.9 1392.1 4142.3 1392.6 4140.6 1393.1 4139 1393.6 4137.3 1394.1 4135.7 1394.7 4134 1395.2 4132.4 1395.8 4130.7 1396.4 4129.1 1397 4127.5 1397.6 4125.8 1398.2 4124.2 1398.8 4122.6 1399.4 4121 1400 4119.4 1400.7 4117.8 1401.4 4116.2 1402 4114.6 1402.7 4113 1403.4 4111.4 1404.1 4109.8 1404.9 4108.2 1405.6 4106.6 1406.3 4105 1407.1 4103.5 1407.9 4101.9 1408.7 4100.3 1409.4 4099 1410.1 4097.7 1410.8 4096.3 1411.5 4095 1412.2 4093.7 1413 4092.4 1413.7 4091.1 1414.5 4089.8 1415.2 4088.5 1416 4087.2 1416.8 4085.9 1417.6 4084.6 1418.4 4083.3 1419.2 4082.1 1420 4080.8 1420.8 4079.5 1421.7 4078.3 1422.5 4077 1423.4 4075.8 1424.2 4074.5 1425.1 4073.3 1426 4072 1426.9 4070.8 1427.8 4069.6 1428.7 4068.4 1429.6 4067.2 1430.5 4066 1431.4 4064.8 1432.4 4063.6 1433.3 4062.4 1434.3 4061.2 1435.2 4060.1 1436.2 4058.9 1437.2 4057.7 1438.2 4056.6 1439.2 4055.4 1440.2 4054.3 1441.2 4053.2 1442.2 4052.1 1443.2 4051 1444.3 4049.9 1445.3 4048.8 1446.4 4047.7 1447.4 4046.6 1448.5 4045.5 1449.6 4044.4 1450.7 4043.4 1451.8 4042.3 1452.9 4041.3 1454 4040.3 1455.1 4039.2 1456.2 4038.2 1457.3 4037.2 1458.5 4036.2 1459.6 4035.2 1460.8 4034.3 1461.9 4033.3 1463.1 4032.3 1464.2 4031.4 1465.4 4030.4 1466.6 4029.5 1467.8 4028.6 1469 4027.7 1470.2 4026.8 1471.4 4025.9 1472.6 4025 1473.9 4024.1 1475.1 4023.3 1476.3 4022.4 1477.6 4021.6 1478.9 4020.7 1480.1 4019.9 1481.4 4019.1 1482.9 4018.2 1484.4 4017.3 1485.9 4016.4 1487.4 4015.6 1489 4014.8 1490.5 4014 1492.1 4013.2 1493.6 4012.4 1495.2 4011.7 1496.8 4011 1498.4 4010.3 1500 4009.7 1501.6 4009 1503.3 4008.5 1504.9 4007.9 1506.6 4007.4 1508.2 4006.9 1509.9 4006.4 1511.6 4006 1513.3 4005.6 1514.8 4005.3 1516.3 4005 1517.7 4004.7 1519.2 4004.5 1520.7 4004.3 1522.2 4004.1 1523.7 4003.9 1525.3 4003.8 1526.8 4003.7 1528.3 4003.6 1529.8 4003.5 1531.3 4003.4 1532.9 4003.4 1534.4 4003.4 1535.9 4003.4 1537.5 4003.4 1539 4003.4 1540.5 4003.5 1542 4003.6 1543.6 4003.7 1545.1 4003.8 1546.6 4003.9 1548.1 4004.1 1549.6 4004.2 1551.1 4004.4 1552.6 4004.6 1554.1 4004.8 1555.6 4005 1557.1 4005.2 1558.6 4005.5 1560.1 4005.7 1561.6 4006 1563 4006.3 1564.5 4006.6 1566 4006.9 1567.5 4007.2 1569 4007.5 1570.4 4007.8 1571.9 4008.1 1573.4 4008.4 1574.8 4008.8 1576.3 4009.1 1577.8 4009.4 1579.2 4009.8 1580.7 4010.1 1582.2 4010.4 1583.6 4010.8 1585.1 4011.1 1586.6 4011.5 1588 4011.8 1589.5 4012.1 1591 4012.5 1592.4 4012.8 1593.9 4013.1 1595.4 4013.4 1596.8 4013.7 1598.3 4014 1599.8 4014.3 1601.2 4014.6 1602.7 4014.9 1604.2 4015.2 1605.7 4015.4 1607.2 4015.7 1608.6 4015.9 1610.1 4016.2 1611.6 4016.4 1613.1 4016.6 1614.6 4016.8 1616.1 4017.1 1617.6 4017.3 1619.1 4017.4 1620.5 4017.6 1622 4017.8 1623.5 4018 1625 4018.2 1626.5 4018.3 1628 4018.5 1629.5 4018.6 1631 4018.8 1632.5 4018.9 1634 4019.1 1635.5 4019.2 1637 4019.3 1638.5 4019.5 1640 4019.6 1641.5 4019.7 1643.1 4019.8 1644.6 4019.9 1646.1 4020 1647.6 4020.1 1649.1 4020.2 1650.6 4020.3 1652.1 4020.4 1653.6 4020.5 1655.1 4020.6 1656.6 4020.7 1658.1 4020.8 1659.6 4020.9 1661.1 4021 1662.7 4021 1664.2 4021.1 1665.7 4021.2 1667.2 4021.3 1668.7 4021.4 1670.2 4021.4 1671.7 4021.5 1673.2 4021.6 1674.7 4021.7 1676.2 4021.7 1677.7 4021.8 1679.2 4021.9 1680.8 4021.9 1682.3 4022 1683.8 4022.1 1685.3 4022.1 1686.8 4022.2 1688.3 4022.3 1689.8 4022.3 1691.3 4022.4 1692.8 4022.4 1694.3 4022.5 1695.8 4022.6 1697.3 4022.6 1698.8 4022.7 1700.4 4022.7 1701.9 4022.8 1703.4 4022.8 1704.9 4022.9 1706.4 4022.9 1707.9 4023 1709.4 4023 1710.9 4023.1 1712.4 4023.1 1713.9 4023.2 1715.4 4023.2 1716.9 4023.2 1718.4 4023.3 1720 4023.3 1721.5 4023.4 1723 4023.4 1724.5 4023.4 1726 4023.5 1727.5 4023.5 1729 4023.5 1730.5 4023.6 1732 4023.6 1733.5 4023.6 1735 4023.7 1736.5 4023.7 1738 4023.7 1739.5 4023.8 1741.1 4023.8 1742.6 4023.8 1744.1 4023.8 1745.6 4023.9 1747.1 4023.9 1748.6 4023.9 1750.1 4023.9 1751.6 4024 1753.1 4024 1754.6 4024 1756.1 4024 1757.6 4024.1 1759.1 4024.1 1760.6 4024.1 1762.2 4024.1 1763.7 4024.1 1765.2 4024.2 1766.7 4024.2 1768.2 4024.2 1769.7 4024.2 1771.2 4024.2 1772.7 4024.2 1774.2 4024.3 1775.7 4024.3 1777.2 4024.3 1778.7 4024.3 1780.2 4024.3 1781.7 4024.3 1783.3 4024.3 1784.8 4024.3 1786.3 4024.4 1787.8 4024.4 1789.3 4024.4 1790.8 4024.4 1792.3 4024.4 1793.8 4024.4 1795.3 4024.4 1796.8 4024.4 1798.3 4024.4 1799.8 4024.4 1801.3 4024.4 1802.8 4024.4 1804.4 4024.5 1805.9 4024.5 1807.4 4024.5 1808.9 4024.5 1810.4 4024.5 1811.9 4024.5 1813.4 4024.5 1814.9 4024.5 1816.4 4024.5 1817.9 4024.5 1819.4 4024.5 1820.9 4024.5 1822.4 4024.5 1823.9 4024.5 1825.5 4024.5 1827 4024.5 1828.5 4024.5 1830 4024.5 1831.5 4024.5 1833 4024.5 1834.5 4024.5 1836 4024.5 1837.5 4024.5 1839 4024.5 1840.5 4024.6 1842 4024.6 1843.5 4024.6 1845.1 4024.6 1846.6 4024.6 1848.1 4024.6 1849.6 4024.6 1851.1 4024.6 1852.6 4024.6 1854.1 4024.6 1855.6 4024.6 1857.1 4024.6 1858.6 4024.6 1860.1 4024.6 1861.6 4024.6 1863.1 4024.6 1864.7 4024.6 1866.2 4024.6 1867.7 4024.6 1869.2 4024.6 1870.7 4024.6 1872.2 4024.6 1873.7 4024.6 1875.2 4024.6 1876.7 4024.6 1878.2 4024.6 1879.7 4024.6 1881.2 4024.6 1882.7 4024.6 1884.3 4024.6 1885.8 4024.6 1887.3 4024.6 1888.8 4024.6 1890.3 4024.6 1891.8 4024.6 1893.3 4024.6 1894.8 4024.6 1896.3 4024.6 1897.8 4024.6 1899.3 4024.6 1900.8 4024.6 1902.3 4024.6 1903.9 4024.6 1905.4 4024.6 1906.9 4024.6 1908.4 4024.6 1909.9 4024.6 1911.4 4024.6 1912.9 4024.6 1914.4 4024.6 1915.9 4024.6 1917.4 4024.6 1918.9 4024.6 1920.4 4024.6 1922 4024.6 1923.5 4024.6 1925 4024.6 1926.5 4024.6 1928 4024.6 1929.5 4024.6 1931 4024.6 1932.5 4024.6 1934 4024.6 1935.5 4024.6 1937 4024.6 1938.5 4024.6 1940.1 4024.6 1941.6 4024.6 1943.1 4024.5 1944.6 4024.5 1946.1 4024.5 1947.6 4024.5 1949.1 4024.5 1950.6 4024.5 1952.1 4024.5 1953.6 4024.5 1955.1 4024.5 1956.6 4024.5 1958.1 4024.5 1959.7 4024.5 1961.2 4024.5 1962.7 4024.5 1964.2 4024.5 1965.7 4024.5 1967.2 4024.5 1968.7 4024.5 1970.2 4024.5 1971.7 4024.5 1973.2 4024.5 1974.7 4024.5 1976.2 4024.5 1977.8 4024.5 1979.3 4024.5 1980.8 4024.5 1982.3 4024.5 1983.8 4024.5 1985.3 4024.5 1986.8 4024.5 1988.3 4024.5 1989.8 4024.5 1991.3 4024.5 1992.8 4024.5 1994.3 4024.5 1995.9 4024.5 1997.4 4024.5 1998.9 4024.5 2000.4 4024.5 2001.9 4024.5 2003.4 4024.5 2004.9 4024.5 2006.4 4024.5 2007.9 4024.5 2009.4 4024.5 2010.9 4024.5 2012.4 4024.5 2014 4024.5 2015.5 4024.5 2017 4024.5 2018.5 4024.5 2020 4024.5 2021.5 4024.5 2023 4024.5 2024.5 4024.5 2026 4024.5 2027.5 4024.5 2029 4024.5 2030.5 4024.5 2032.1 4024.4 2033.6 4024.4 2035.1 4024.4 2036.6 4024.4 2038.1 4024.4 2039.6 4024.4 2041.1 4024.4 2042.6 4024.4 2044.1 4024.4 2045.6 4024.4 2047.1 4024.4 2048.6 4024.4 2050.2 4024.4 2051.7 4024.4 2053.2 4024.4 2054.7 4024.4 2056.2 4024.4 2057.7 4024.4 2059.2 4024.4 2060.7 4024.4 2062.2 4024.4 2063.7 4024.4 2065.2 4024.4 2066.7 4024.4 2068.2 4024.4 2069.8 4024.4 2071.3 4024.4 2072.8 4024.4 2074.3 4024.4 2075.8 4024.4 2077.3 4024.4 2078.8 4024.4 2080.3 4024.4 2081.8 4024.4 2083.3 4024.4 2084.8 4024.4 2086.3 4024.4 2087.8 4024.4 2089.4 4024.4 2090.9 4024.4 2092.4 4024.4 2093.9 4024.4 2095.4 4024.5 2096.9 4024.5 2098.4 4024.5 2099.9 4024.5 2101.4 4024.5 2102.9 4024.5 2104.4 4024.5 2105.9 4024.5 2107.4 4024.5 2109 4024.5 2110.5 4024.5 2112 4024.5 2113.5 4024.5 2115 4024.5 2116.5 4024.5 2118 4024.5 2119.5 4024.5 2121 4024.5 2122.5 4024.5 2124 4024.5 2125.5 4024.5 2127 4024.5 2127.8 4024.5" stroke="#ff0000"/><path d="M1328.3 3914.8L1328.5 3913.2 1328.6 3911.6 1328.8 3910 1328.9 3908.4 1329 3906.9 1329.2 3905.3 1329.3 3903.7 1329.5 3902.2 1329.6 3900.6 1329.7 3899 1329.9 3897.5 1330 3895.9 1330.1 3894.4 1330.3 3892.8 1330.4 3891.3 1330.5 3889.7 1330.6 3888.2 1330.7 3886.7 1330.9 3885.1 1331 3883.6 1331.1 3882.1 1331.2 3880.6 1331.3 3879 1331.5 3877.5 1331.6 3876 1331.7 3874.5 1331.8 3873 1331.9 3871.4 1332 3869.9 1332.1 3868.4 1332.3 3866.9 1332.4 3865.4 1332.5 3863.9 1332.6 3862.4 1332.7 3860.9 1332.8 3859.4 1332.9 3857.9 1333 3856.4 1333.2 3854.9 1333.3 3853.4 1333.4 3851.9 1333.5 3850.4 1333.6 3848.9 1333.7 3847.4 1333.9 3845.9 1334 3844.4 1334.1 3842.9 1334.2 3841.4 1334.3 3839.8 1334.5 3838.3 1334.6 3836.8 1334.7 3835.3 1334.9 3833.8 1335 3832.3 1335.1 3830.8 1335.3 3829.3 1335.4 3827.8 1335.5 3826.2 1335.7 3824.7 1335.8 3823.2 1336 3821.7 1336.1 3820.2 1336.3 3818.6 1336.4 3817.1 1336.6 3815.6 1336.7 3814 1336.9 3812.5 1337 3810.9 1337.2 3809.4 1337.4 3807.9 1337.5 3806.3 1337.7 3804.7 1337.9 3803.2 1338.1 3801.6 1338.3 3800.1 1338.4 3798.5 1338.6 3796.9 1338.8 3795.3 1339 3793.8 1339.2 3792.2 1339.4 3790.6 1339.7 3789 1339.9 3787.4 1340.1 3785.8 1340.3 3784.2 1340.5 3782.5 1340.8 3780.9 1341 3779.3 1341.2 3777.7 1341.5 3776 1341.7 3774.4 1342 3772.7 1342.2 3771.1 1342.5 3769.4 1342.8 3767.8 1343.2 3766.2 1343.5 3764.7 1343.9 3763.1 1344.4 3761.7 1344.9 3760.3 1345.6 3758.7 1346.5 3757.2 1347.4 3755.8 1348.5 3754.6 1349.7 3753.5 1351 3752.6 1352.4 3752 1354.1 3752 1355.6 3752.8 1356.7 3753.9 1357.8 3755.3 1358.8 3756.8 1359.8 3758.2 1360.8 3759.7 1361.7 3761.3 1362.6 3762.8 1363.4 3764.4 1364.2 3766 1364.9 3767.6 1365.6 3769.2 1366.3 3770.9 1366.9 3772.3 1367.4 3773.7 1367.9 3775.1 1368.4 3776.6 1368.8 3778 1369.3 3779.5 1369.7 3781 1370.1 3782.4 1370.5 3783.9 1370.9 3785.4 1371.2 3786.9 1371.6 3788.4 1371.9 3790 1372.3 3791.5 1372.6 3793 1372.9 3794.6 1373.2 3796.1 1373.5 3797.7 1373.7 3799.2 1374 3800.8 1374.3 3802.3 1374.5 3803.9 1374.8 3805.5 1375.1 3807 1375.3 3808.6 1375.6 3810.2 1375.8 3811.7 1376.1 3813.3 1376.3 3814.9 1376.6 3816.4 1376.8 3818 1377.1 3819.6 1377.3 3821.1 1377.6 3822.7 1377.9 3824.2 1378.1 3825.8 1378.4 3827.3 1378.7 3828.8 1379 3830.4 1379.3 3831.9 1379.6 3833.4 1379.9 3834.9 1380.2 3836.4 1380.5 3838 1380.9 3839.5 1381.2 3841 1381.5 3842.5 1381.8 3844 1382.2 3845.5 1382.5 3846.9 1382.9 3848.4 1383.2 3849.9 1383.6 3851.4 1383.9 3852.9 1384.3 3854.4 1384.7 3855.9 1385 3857.3 1385.4 3858.8 1385.8 3860.3 1386.1 3861.8 1386.5 3863.2 1386.9 3864.7 1387.3 3866.2 1387.6 3867.6 1388 3869.1 1388.4 3870.6 1388.8 3872.1 1389.1 3873.5 1389.5 3875 1389.9 3876.5 1390.3 3877.9 1390.7 3879.4 1391.1 3880.9 1391.4 3882.4 1391.8 3883.8 1392.2 3885.3 1392.6 3886.8 1392.9 3888.3 1393.3 3889.7 1393.7 3891.2 1394.1 3892.7 1394.4 3894.2 1394.8 3895.7 1395.2 3897.2 1395.6 3898.7 1395.9 3900.2 1396.3 3901.7 1396.7 3903.2 1397 3904.7 1397.4 3906.2 1397.7 3907.7 1398.1 3909.2 1398.5 3910.7 1398.8 3912.2 1399.2 3913.7 1399.6 3915.2 1399.9 3916.7 1400.3 3918.2 1400.7 3919.7 1401 3921.2 1401.4 3922.7 1401.7 3924.2 1402.1 3925.7 1402.5 3927.2 1402.8 3928.8 1403.2 3930.3 1403.6 3931.8 1403.9 3933.3 1404.3 3934.8 1404.7 3936.3 1405.1 3937.8 1405.4 3939.3 1405.8 3940.8 1406.2 3942.4 1406.5 3943.9 1406.9 3945.4 1407.3 3946.9 1407.7 3948.4 1408.1 3949.9 1408.5 3951.4 1408.8 3952.9 1409.2 3954.4 1409.6 3955.9 1410 3957.4 1410.4 3958.9 1410.8 3960.4 1411.2 3962 1411.6 3963.5 1412 3965 1412.4 3966.5 1412.8 3968 1413.2 3969.4 1413.6 3970.9 1414 3972.4 1414.5 3973.9 1414.9 3975.4 1415.3 3976.9 1415.7 3978.4 1416.2 3979.9 1416.6 3981.4 1417 3982.9 1417.5 3984.3 1417.9 3985.8 1418.4 3987.3 1418.8 3988.8 1419.3 3990.2 1419.7 3991.7 1420.2 3993.2 1420.7 3994.7 1421.1 3996.1 1421.6 3997.6 1422.1 3999 1422.6 4000.5 1423.1 4001.9 1423.6 4003.4 1424.1 4004.9 1424.6 4006.3 1425.1 4007.7 1425.6 4009.2 1426.1 4010.6 1426.6 4012.1 1427.2 4013.5 1427.7 4014.9 1428.2 4016.3 1428.8 4017.8 1429.3 4019.2 1429.9 4020.6 1430.4 4022 1431 4023.4 1431.5 4024.8 1432.1 4026.2 1432.7 4027.6 1433.3 4029 1433.9 4030.4 1434.5 4031.8 1435.1 4033.2 1435.7 4034.5 1436.3 4035.9 1436.9 4037.3 1437.6 4038.7 1438.2 4040 1438.8 4041.4 1439.5 4042.7 1440.1 4044.1 1440.8 4045.5 1441.4 4046.8 1442.1 4048.2 1442.8 4049.5 1443.5 4050.9 1444.2 4052.2 1444.9 4053.6 1445.6 4054.9 1446.3 4056.2 1447 4057.6 1447.7 4058.9 1448.4 4060.3 1449.1 4061.6 1449.9 4063 1450.6 4064.3 1451.3 4065.7 1452.1 4067 1452.8 4068.4 1453.6 4069.7 1454.4 4071.1 1455.1 4072.5 1455.9 4073.8 1456.7 4075.2 1457.5 4076.6 1458.3 4077.9 1459.1 4079.3 1459.9 4080.7 1460.7 4082.1 1461.5 4083.5 1462.3 4084.9 1463.1 4086.3 1463.9 4087.7 1464.8 4089.1 1465.6 4090.4 1466.5 4091.8 1467.3 4093.2 1468.2 4094.6 1469.1 4095.9 1470 4097.2 1470.9 4098.6 1471.8 4099.9 1472.7 4101.2 1473.7 4102.4 1474.7 4103.7 1475.6 4104.9 1476.6 4106.1 1477.7 4107.2 1478.7 4108.3 1479.7 4109.4 1480.8 4110.5 1482.1 4111.7 1483.4 4112.9 1484.8 4114 1486.2 4115 1487.7 4116 1489.1 4116.9 1490.6 4117.8 1492.2 4118.6 1493.8 4119.2 1495.4 4119.8 1497 4120.4 1498.7 4120.8 1500.5 4121.1 1502.2 4121.4 1503.7 4121.6 1505.3 4121.7 1506.8 4121.7 1508.3 4121.7 1509.9 4121.7 1511.4 4121.6 1513 4121.4 1514.6 4121.2 1516.2 4121 1517.7 4120.7 1519.3 4120.3 1520.9 4120 1522.4 4119.6 1524 4119.1 1525.5 4118.6 1527 4118.1 1528.5 4117.5 1530 4116.9 1531.4 4116.3 1532.9 4115.7 1534.3 4115 1535.7 4114.3 1537 4113.5 1538.3 4112.8 1539.6 4112 1540.9 4111.1 1542.1 4110.3 1543.6 4109.3 1545 4108.2 1546.5 4107.1 1547.9 4106 1549.2 4104.9 1550.6 4103.7 1552 4102.6 1553.3 4101.4 1554.6 4100.2 1555.7 4099.2 1556.9 4098.2 1558 4097.1 1559.1 4096.1 1560.2 4095.1 1561.3 4094 1562.4 4093 1563.6 4092 1564.7 4090.9 1565.8 4089.9 1567 4088.8 1568.1 4087.8 1569.3 4086.7 1570.5 4085.7 1571.6 4084.6 1572.8 4083.6 1574 4082.6 1575.2 4081.5 1576.4 4080.5 1577.6 4079.5 1578.8 4078.4 1580 4077.4 1581.2 4076.4 1582.4 4075.4 1583.6 4074.4 1584.8 4073.3 1586.1 4072.3 1587.3 4071.3 1588.5 4070.4 1589.8 4069.4 1591 4068.4 1592.3 4067.4 1593.5 4066.5 1594.8 4065.5 1596.1 4064.6 1597.4 4063.6 1598.6 4062.7 1599.9 4061.8 1601.2 4060.9 1602.5 4060 1603.8 4059.1 1605.1 4058.2 1606.4 4057.4 1607.7 4056.5 1609 4055.7 1610.3 4054.9 1611.7 4054 1613 4053.2 1614.3 4052.5 1615.7 4051.7 1617 4050.9 1618.3 4050.2 1619.7 4049.5 1621 4048.8 1622.4 4048.1 1623.8 4047.4 1625.1 4046.7 1626.5 4046 1627.9 4045.4 1629.2 4044.7 1630.6 4044.1 1632 4043.5 1633.4 4042.9 1634.8 4042.3 1636.2 4041.7 1637.6 4041.2 1639 4040.6 1640.4 4040.1 1641.8 4039.6 1643.2 4039 1644.6 4038.5 1646.1 4038 1647.5 4037.6 1648.9 4037.1 1650.4 4036.6 1651.8 4036.2 1653.2 4035.7 1654.7 4035.3 1656.1 4034.9 1657.6 4034.5 1659 4034.1 1660.5 4033.7 1661.9 4033.3 1663.4 4032.9 1664.8 4032.6 1666.3 4032.2 1667.8 4031.9 1669.2 4031.5 1670.7 4031.2 1672.2 4030.9 1673.7 4030.6 1675.2 4030.3 1676.6 4030 1678.1 4029.7 1679.6 4029.5 1681.1 4029.2 1682.6 4029 1684.1 4028.7 1685.6 4028.5 1687.1 4028.2 1688.6 4028 1690.1 4027.8 1691.6 4027.6 1693.1 4027.4 1694.6 4027.2 1696.1 4027 1697.7 4026.8 1699.2 4026.7 1700.7 4026.5 1702.2 4026.3 1703.7 4026.2 1705.3 4026 1706.8 4025.9 1708.3 4025.8 1709.9 4025.6 1711.4 4025.5 1712.9 4025.4 1714.5 4025.3 1716 4025.2 1717.5 4025.1 1719.1 4025 1720.6 4024.9 1722.2 4024.8 1723.7 4024.7 1725.2 4024.7 1726.8 4024.6 1728.3 4024.5 1729.9 4024.5 1731.4 4024.4 1733 4024.4 1734.5 4024.3 1736.1 4024.3 1737.6 4024.2 1739.2 4024.2 1740.8 4024.2 1742.3 4024.1 1743.9 4024.1 1745.4 4024.1 1747 4024.1 1748.5 4024 1750.1 4024 1751.7 4024 1753.2 4024 1754.8 4024 1756.3 4024 1757.9 4024 1759.5 4024 1761 4024 1762.6 4024 1764.2 4024 1765.7 4024 1767.3 4024 1768.8 4024 1770.4 4024 1772 4024.1 1773.5 4024.1 1775.1 4024.1 1776.7 4024.1 1778.2 4024.1 1779.8 4024.1 1781.4 4024.1 1782.9 4024.2 1784.5 4024.2 1786 4024.2 1787.6 4024.2 1789.2 4024.2 1790.7 4024.2 1792.3 4024.3 1793.8 4024.3 1795.4 4024.3 1797 4024.3 1798.5 4024.3 1800.1 4024.3 1801.6 4024.4 1803.2 4024.4 1804.8 4024.4 1806.3 4024.4 1807.9 4024.4 1809.4 4024.4 1811 4024.4 1812.5 4024.4 1814.1 4024.5 1815.6 4024.5 1817.2 4024.5 1818.7 4024.5 1820.3 4024.5 1821.8 4024.5 1823.4 4024.5 1825 4024.5 1826.5 4024.5 1828.1 4024.5 1829.6 4024.6 1831.2 4024.6 1832.7 4024.6 1834.3 4024.6 1835.8 4024.6 1837.3 4024.6 1838.9 4024.6 1840.4 4024.6 1842 4024.6 1843.5 4024.6 1845.1 4024.6 1846.6 4024.6 1848.2 4024.6 1849.7 4024.6 1851.3 4024.7 1852.8 4024.7 1854.4 4024.7 1855.9 4024.7 1857.4 4024.7 1859 4024.7 1860.5 4024.7 1862.1 4024.7 1863.6 4024.7 1865.2 4024.7 1866.7 4024.7 1868.2 4024.7 1869.8 4024.7 1871.3 4024.7 1872.9 4024.7 1874.4 4024.7 1876 4024.7 1877.5 4024.7 1879 4024.7 1880.6 4024.7 1882.1 4024.7 1883.7 4024.7 1885.2 4024.7 1886.7 4024.7 1888.3 4024.7 1889.8 4024.7 1891.4 4024.7 1892.9 4024.7 1894.4 4024.7 1896 4024.7 1897.5 4024.7 1899 4024.7 1900.6 4024.7 1902.1 4024.7 1903.7 4024.7 1905.2 4024.7 1906.7 4024.7 1908.3 4024.7 1909.8 4024.7 1911.3 4024.7 1912.9 4024.7 1914.4 4024.7 1915.9 4024.7 1917.5 4024.7 1919 4024.7 1920.6 4024.7 1922.1 4024.7 1923.6 4024.7 1925.2 4024.7 1926.7 4024.7 1928.2 4024.7 1929.8 4024.6 1931.3 4024.6 1932.8 4024.6 1934.4 4024.6 1935.9 4024.6 1937.4 4024.6 1939 4024.6 1940.5 4024.6 1942 4024.6 1943.6 4024.6 1945.1 4024.6 1946.6 4024.6 1948.2 4024.6 1949.7 4024.6 1951.2 4024.6 1952.8 4024.6 1954.3 4024.6 1955.8 4024.6 1957.4 4024.6 1958.9 4024.6 1960.4 4024.6 1962 4024.6 1963.5 4024.6 1965.1 4024.5 1966.6 4024.5 1968.1 4024.5 1969.7 4024.5 1971.2 4024.5 1972.7 4024.5 1974.3 4024.5 1975.8 4024.5 1977.3 4024.5 1978.9 4024.5 1980.4 4024.5 1981.9 4024.5 1983.5 4024.5 1985 4024.5 1986.5 4024.5 1988.1 4024.5 1989.6 4024.5 1991.1 4024.5 1992.7 4024.5 1994.2 4024.5 1995.7 4024.5 1997.3 4024.4 1998.8 4024.4 2000.3 4024.4 2001.9 4024.4 2003.4 4024.4 2004.9 4024.4 2006.5 4024.4 2008 4024.4 2009.5 4024.4 2011.1 4024.4 2012.6 4024.4 2014.2 4024.4 2015.7 4024.4 2017.2 4024.4 2018.8 4024.4 2020.3 4024.4 2021.8 4024.4 2023.4 4024.4 2024.9 4024.4 2026.4 4024.4 2028 4024.4 2029.5 4024.4 2031.1 4024.4 2032.6 4024.4 2034.1 4024.4 2035.7 4024.4 2037.2 4024.3 2038.7 4024.3 2040.3 4024.3 2041.8 4024.3 2043.4 4024.3 2044.9 4024.3 2046.4 4024.3 2048 4024.3 2049.5 4024.3 2051.1 4024.3 2052.6 4024.3 2054.1 4024.3 2055.7 4024.3 2057.2 4024.3 2058.8 4024.3 2060.3 4024.3 2061.8 4024.3 2063.4 4024.3 2064.9 4024.3 2066.5 4024.3 2068 4024.3 2069.6 4024.3 2071.1 4024.3 2072.6 4024.3 2074.2 4024.3 2075.7 4024.3 2077.3 4024.3 2078.8 4024.3 2080.4 4024.3 2081.9 4024.3 2083.5 4024.3 2085 4024.3 2086.6 4024.3 2088.1 4024.4 2089.6 4024.4 2091.2 4024.4 2092.7 4024.4 2094.3 4024.4 2095.8 4024.4 2097.4 4024.4 2098.9 4024.4 2100.5 4024.4 2102 4024.4 2103.6 4024.4 2105.1 4024.4 2106.7 4024.4 2108.2 4024.4 2109.8 4024.4 2111.3 4024.4 2112.9 4024.4 2114.5 4024.4 2116 4024.4 2117.6 4024.5 2119.1 4024.5 2120.7 4024.5 2122.2 4024.5 2123.8 4024.5 2125.3 4024.5 2126.9 4024.5 2127.8 4024.5" stroke="#000000"/></g><g fill="none" stroke="#000" stroke-width="3"><rect x="1327.8" y="3696.4" width="801" height="647.1"/><path d="M1308.3 4343.5H1327.8M1308.3 4235.6H1327.8M1308.3 4127.8H1327.8M1308.3 4019.9H1327.8M1308.3 3912.1H1327.8M1308.3 3804.2H1327.8M1308.3 3696.4H1327.8M1327.8 4343.5V4362.5M1691.8 4343.5V4362.5M2055.9 4343.5V4362.5"/></g><g font-size="51"><text x="1277.3" y="4361" text-anchor="end" textLength="100.8" lengthAdjust="spacingAndGlyphs">-120</text><text x="1277.3" y="4253.1" text-anchor="end" textLength="73.4" lengthAdjust="spacingAndGlyphs">-80</text><text x="1277.3" y="4145.3" text-anchor="end" textLength="73.4" lengthAdjust="spacingAndGlyphs">-40</text><text x="1277.3" y="4037.4" text-anchor="end" textLength="27.4" lengthAdjust="spacingAndGlyphs">0</text><text x="1277.3" y="3929.6" text-anchor="end" textLength="54.8" lengthAdjust="spacingAndGlyphs">40</text><text x="1277.3" y="3821.8" text-anchor="end" textLength="54.8" lengthAdjust="spacingAndGlyphs">80</text><text x="1277.3" y="3713.9" text-anchor="end" textLength="82.2" lengthAdjust="spacingAndGlyphs">120</text><text x="1328.8" y="4436.7" text-anchor="middle" textLength="82.2" lengthAdjust="spacingAndGlyphs">190</text><text x="1692.8" y="4436.7" text-anchor="middle" textLength="82.2" lengthAdjust="spacingAndGlyphs">240</text><text x="2056.9" y="4436.7" text-anchor="middle" textLength="82.2" lengthAdjust="spacingAndGlyphs">290</text></g><text class="b" x="1497.6" y="4491.5" font-size="58" textLength="453.9" lengthAdjust="spacingAndGlyphs">Wavelength (nm)</text><text class="b" transform="translate(1168.3 4183.3) rotate(-90)" font-size="57" textLength="277" lengthAdjust="spacingAndGlyphs">CD (mdeg)</text><g stroke-width="5.6"><path d="M1863.9 3734H1944.7" stroke="#ff0000"/><path d="M1863.9 3809.4H1944.7" stroke="#000"/></g><g font-size="38.3"><text x="1952.2" y="3745.6" textLength="148.9" lengthAdjust="spacingAndGlyphs">2D_Yb-L</text><text x="1952.2" y="3824.1" textLength="155.2" lengthAdjust="spacingAndGlyphs">2D_Yb-D</text></g></g>
</svg>
</body></html>
